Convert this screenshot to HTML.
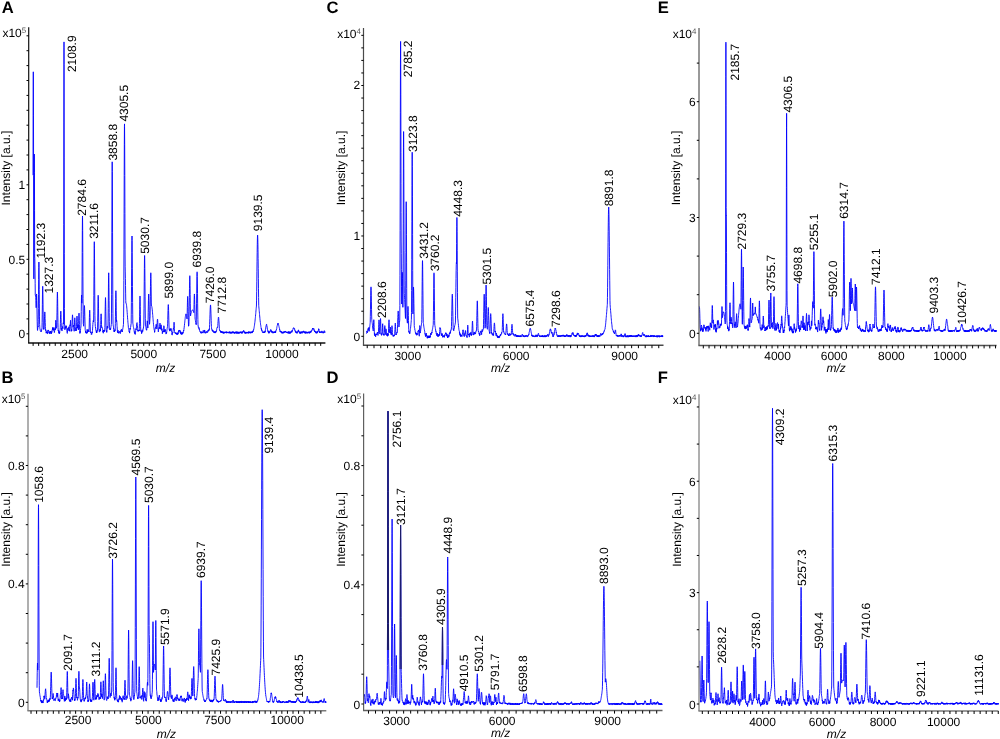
<!DOCTYPE html>
<html><head><meta charset="utf-8"><style>
html,body{margin:0;padding:0;background:#fff;overflow:hidden;}
svg{display:block;will-change:transform;}
svg text{font-family:"Liberation Sans", sans-serif;fill:#000;text-rendering:geometricPrecision;}
</style></head><body>
<svg width="1000" height="739" viewBox="0 0 1000 739">
<rect width="1000" height="739" fill="#fff"/>
<text x="1.8" y="13.4" font-size="16.6" font-weight="bold">A</text>
<polyline points="33.00,175.20 33.12,115.09 33.24,77.00 33.30,71.80 33.36,77.00 33.48,115.09 33.60,175.20 33.72,235.97 33.84,278.87 33.96,239.58 34.08,196.58 34.20,163.76 34.30,154.00 34.32,154.40 34.44,172.63 34.56,210.54 34.68,253.63 34.70,257.00 34.80,258.54 34.92,264.16 35.04,273.01 35.16,283.77 35.28,294.96 35.40,295.37 35.50,294.98 35.52,295.00 35.64,295.78 35.76,297.62 35.88,300.40 36.00,303.91 36.12,307.81 36.24,307.59 36.36,300.73 36.48,295.74 36.60,293.97 36.60,293.96 36.72,295.77 36.84,300.67 36.96,307.59 37.08,314.95 37.20,321.75 37.32,326.81 37.44,330.19 37.56,330.48 37.68,329.22 37.80,328.15 37.92,327.38 38.04,326.39 38.16,327.01 38.28,319.67 38.40,308.40 38.52,294.37 38.64,279.51 38.76,267.58 38.88,262.12 38.90,262.00 39.00,264.90 39.12,275.01 39.24,289.29 39.36,303.91 39.48,316.13 39.60,324.45 39.72,326.24 39.84,327.79 39.96,328.80 40.08,329.06 40.20,330.11 40.32,330.71 40.44,330.92 40.56,331.26 40.68,331.43 40.80,331.40 40.92,330.90 41.04,330.70 41.16,331.68 41.28,331.90 41.40,331.32 41.52,331.17 41.64,329.98 41.76,328.97 41.88,328.94 42.00,327.75 42.12,322.41 42.24,314.18 42.36,304.50 42.48,294.93 42.60,288.23 42.70,286.28 42.72,286.39 42.84,290.04 42.96,297.99 43.08,307.91 43.20,317.01 43.32,325.08 43.44,329.25 43.56,328.73 43.68,328.36 43.80,328.54 43.92,329.33 44.04,329.32 44.16,328.76 44.28,325.08 44.40,320.91 44.52,316.71 44.64,313.84 44.76,311.91 44.80,312.06 44.88,312.31 45.00,314.49 45.12,318.46 45.24,322.66 45.36,326.40 45.48,328.82 45.60,330.71 45.72,330.18 45.84,329.79 45.96,330.37 46.08,330.60 46.20,333.16 46.32,331.78 46.44,332.35 46.56,332.33 46.68,332.89 46.80,332.47 46.92,332.90 47.04,331.47 47.16,332.23 47.28,333.56 47.40,333.92 47.52,333.83 47.64,331.34 47.76,331.06 47.88,330.36 48.00,330.14 48.12,329.93 48.24,331.20 48.36,330.47 48.48,330.28 48.60,330.89 48.72,330.75 48.84,331.81 48.96,332.74 49.08,331.89 49.20,332.98 49.32,333.71 49.44,333.69 49.56,331.67 49.68,332.57 49.80,332.28 49.92,331.86 50.04,333.06 50.16,333.77 50.28,333.45 50.40,331.64 50.52,332.24 50.64,331.16 50.76,332.01 50.88,331.89 51.00,331.11 51.12,331.51 51.24,332.27 51.36,333.87 51.48,332.20 51.60,332.68 51.72,332.64 51.84,332.81 51.96,330.82 52.08,331.26 52.20,330.41 52.32,329.79 52.44,330.05 52.56,327.42 52.68,329.25 52.80,329.06 52.92,329.63 53.04,328.50 53.16,328.31 53.28,328.19 53.40,329.13 53.52,330.41 53.64,328.63 53.76,328.43 53.88,327.37 54.00,328.15 54.12,330.60 54.24,330.68 54.36,332.61 54.48,330.96 54.60,331.15 54.72,330.61 54.84,329.09 54.96,329.65 55.08,328.36 55.20,328.68 55.32,328.48 55.44,329.75 55.56,326.00 55.68,322.26 55.80,320.22 55.92,322.23 56.04,324.89 56.16,326.11 56.28,327.24 56.40,327.77 56.52,328.29 56.64,327.06 56.76,327.10 56.88,320.20 57.00,312.23 57.12,303.59 57.24,296.23 57.36,292.28 57.40,292.02 57.48,293.14 57.60,298.40 57.72,306.63 57.84,315.22 57.96,322.63 58.08,327.59 58.20,330.63 58.32,330.04 58.44,331.00 58.56,331.15 58.68,332.49 58.80,331.36 58.92,332.34 59.04,333.19 59.16,332.17 59.28,333.89 59.40,333.22 59.52,331.91 59.64,333.11 59.76,331.16 59.88,330.43 60.00,330.09 60.12,329.54 60.24,327.66 60.36,323.50 60.48,319.24 60.60,314.64 60.72,311.59 60.80,311.05 60.84,311.32 60.96,313.49 61.08,317.51 61.20,322.70 61.32,327.33 61.44,329.68 61.56,328.42 61.68,329.28 61.80,329.78 61.92,330.92 62.04,330.91 62.16,329.70 62.28,328.57 62.40,326.78 62.52,326.50 62.64,326.86 62.76,327.91 62.88,328.73 63.00,325.79 63.12,324.05 63.24,322.77 63.36,323.10 63.48,323.98 63.60,294.99 63.72,224.75 63.84,122.06 63.96,47.70 64.00,41.90 64.08,64.40 64.20,157.07 64.32,253.22 64.44,308.60 64.56,325.20 64.68,326.75 64.80,328.94 64.92,329.81 65.04,328.15 65.16,328.36 65.28,326.79 65.40,326.94 65.52,327.07 65.64,328.31 65.76,326.17 65.88,325.64 66.00,326.37 66.12,327.02 66.24,326.67 66.36,325.90 66.48,326.68 66.60,328.45 66.72,329.22 66.84,330.73 66.96,331.02 67.08,332.65 67.20,332.96 67.32,333.40 67.44,332.40 67.56,330.56 67.68,328.68 67.80,328.60 67.92,327.94 68.04,328.49 68.16,330.61 68.28,329.58 68.40,329.15 68.52,327.56 68.64,326.93 68.76,327.05 68.88,327.04 69.00,326.81 69.12,328.24 69.24,329.87 69.36,331.02 69.48,331.23 69.60,328.60 69.72,327.96 69.84,325.58 69.96,325.06 70.08,324.70 70.20,325.99 70.32,324.10 70.44,321.40 70.56,320.29 70.68,322.94 70.80,325.53 70.92,329.61 71.04,331.35 71.16,331.36 71.28,331.30 71.40,330.71 71.52,329.40 71.64,329.69 71.76,330.86 71.88,328.99 72.00,325.83 72.12,322.28 72.24,318.63 72.36,316.43 72.48,314.94 72.50,314.84 72.60,315.69 72.72,317.54 72.84,321.34 72.96,324.57 73.08,327.19 73.20,326.52 73.32,326.32 73.44,325.12 73.56,325.20 73.68,326.29 73.80,327.42 73.92,329.37 74.04,329.30 74.16,331.28 74.28,328.94 74.40,326.41 74.52,322.21 74.64,319.31 74.76,318.07 74.80,317.81 74.88,318.41 75.00,320.76 75.12,324.07 75.24,326.49 75.36,329.55 75.48,330.71 75.60,329.73 75.72,329.61 75.84,328.47 75.96,328.51 76.08,328.39 76.20,329.40 76.32,330.86 76.44,328.84 76.56,326.66 76.68,322.18 76.80,318.97 76.92,316.68 77.00,316.06 77.04,316.24 77.16,317.93 77.28,321.46 77.40,325.24 77.52,328.20 77.64,326.43 77.76,325.09 77.88,325.00 78.00,324.95 78.12,325.96 78.24,328.40 78.36,329.88 78.48,327.49 78.60,323.71 78.72,318.93 78.84,315.09 78.96,313.22 79.00,313.05 79.08,313.43 79.20,316.15 79.32,320.43 79.44,324.48 79.56,329.25 79.68,330.43 79.80,333.06 79.92,333.48 80.04,332.75 80.16,331.56 80.28,332.47 80.40,330.93 80.52,330.31 80.64,328.50 80.76,327.27 80.88,327.37 81.00,324.97 81.12,318.82 81.24,311.37 81.36,303.35 81.48,297.24 81.60,294.99 81.60,295.02 81.72,297.27 81.84,303.33 81.96,298.52 82.08,276.88 82.20,252.46 82.32,230.69 82.44,217.73 82.50,216.00 82.56,217.73 82.68,230.69 82.80,252.46 82.92,276.87 83.04,298.53 83.16,314.54 83.28,323.66 83.40,324.17 83.52,325.20 83.64,326.21 83.76,323.60 83.88,319.36 84.00,315.11 84.12,310.60 84.24,307.46 84.36,305.60 84.40,305.54 84.48,306.09 84.60,308.22 84.72,312.05 84.84,316.50 84.96,321.03 85.08,325.02 85.20,329.38 85.32,330.66 85.44,330.71 85.56,332.51 85.68,331.16 85.80,332.57 85.92,332.61 86.04,332.95 86.16,333.28 86.28,332.15 86.40,331.99 86.52,333.07 86.64,333.26 86.76,332.91 86.88,333.27 87.00,330.00 87.12,329.30 87.24,329.47 87.36,330.04 87.48,332.69 87.60,331.35 87.72,331.30 87.84,330.67 87.96,331.31 88.08,331.36 88.20,331.10 88.32,329.63 88.44,330.15 88.56,330.30 88.68,331.43 88.80,331.24 88.92,332.01 89.04,330.33 89.16,327.11 89.28,323.09 89.40,317.51 89.52,313.26 89.64,310.40 89.70,310.14 89.76,310.39 89.88,313.19 90.00,317.77 90.12,322.52 90.24,326.88 90.36,331.25 90.48,331.54 90.60,332.70 90.72,331.63 90.84,332.52 90.96,332.50 91.08,332.48 91.20,332.59 91.32,334.48 91.44,333.97 91.56,333.65 91.68,333.93 91.80,334.34 91.92,333.65 92.04,332.06 92.16,331.87 92.28,332.86 92.40,331.63 92.52,330.47 92.64,328.07 92.76,326.18 92.88,324.36 93.00,322.70 93.12,321.54 93.24,320.62 93.36,320.86 93.48,321.40 93.60,322.04 93.72,311.23 93.84,295.39 93.96,276.65 94.08,258.35 94.20,245.42 94.30,241.70 94.32,241.85 94.44,248.84 94.56,264.10 94.68,283.07 94.80,301.10 94.92,315.29 95.04,321.43 95.16,323.40 95.28,326.12 95.40,326.61 95.52,328.01 95.64,327.74 95.76,328.95 95.88,330.58 96.00,330.74 96.12,331.14 96.24,331.64 96.36,332.58 96.48,330.67 96.60,332.89 96.72,332.23 96.84,332.64 96.96,331.59 97.08,331.91 97.20,330.14 97.32,330.42 97.44,330.72 97.56,327.91 97.68,321.58 97.80,313.95 97.92,306.12 98.04,299.22 98.16,295.52 98.20,295.27 98.28,296.31 98.40,301.17 98.52,308.85 98.64,317.06 98.76,323.94 98.88,329.19 99.00,330.03 99.12,329.94 99.24,331.47 99.36,331.97 99.48,332.14 99.60,331.23 99.72,330.15 99.84,330.38 99.96,329.07 100.08,329.00 100.20,329.34 100.32,329.32 100.44,331.19 100.56,327.97 100.68,324.49 100.80,320.49 100.92,316.39 101.04,313.95 101.10,313.82 101.16,313.86 101.28,316.07 101.40,319.77 101.52,324.61 101.64,327.61 101.76,327.10 101.88,326.88 102.00,326.88 102.12,327.83 102.24,327.84 102.36,328.18 102.48,329.33 102.60,330.57 102.72,331.87 102.84,332.12 102.96,331.90 103.08,331.39 103.20,332.46 103.32,333.23 103.44,331.49 103.56,331.68 103.68,329.96 103.80,331.05 103.92,329.95 104.04,330.85 104.16,331.34 104.28,330.88 104.40,331.57 104.52,330.19 104.64,330.72 104.76,330.50 104.88,327.51 105.00,320.99 105.12,313.87 105.24,306.55 105.36,300.42 105.48,297.67 105.50,297.57 105.60,299.11 105.72,304.16 105.84,311.52 105.96,319.19 106.08,325.69 106.20,329.30 106.32,330.73 106.44,331.83 106.56,330.58 106.68,332.30 106.80,332.44 106.92,331.80 107.04,329.29 107.16,327.69 107.28,326.69 107.40,326.05 107.52,326.08 107.64,327.93 107.76,328.34 107.88,327.99 108.00,326.49 108.12,318.87 108.24,308.44 108.36,296.08 108.48,283.90 108.60,275.27 108.70,272.80 108.72,272.90 108.84,277.56 108.96,287.68 109.08,300.38 109.20,312.47 109.32,321.41 109.44,327.85 109.56,327.90 109.68,328.24 109.80,329.84 109.92,329.30 110.04,328.30 110.16,328.09 110.28,328.71 110.40,328.58 110.52,329.82 110.64,328.84 110.76,328.40 110.88,327.13 111.00,326.51 111.12,325.98 111.24,324.65 111.36,324.20 111.48,313.91 111.60,294.86 111.72,267.13 111.84,232.79 111.96,198.00 112.08,171.66 112.20,161.80 112.20,161.80 112.32,171.66 112.44,198.00 112.56,232.79 112.68,267.13 112.80,294.82 112.92,313.61 113.04,323.86 113.16,324.54 113.28,325.93 113.40,326.16 113.52,327.86 113.64,328.92 113.76,328.53 113.88,330.74 114.00,331.36 114.12,330.47 114.24,332.03 114.36,331.21 114.48,331.80 114.60,330.63 114.72,331.22 114.84,329.88 114.96,329.53 115.08,330.73 115.20,329.15 115.32,323.66 115.44,316.25 115.56,307.14 115.68,298.52 115.80,292.44 115.90,290.72 115.92,290.79 116.04,294.09 116.16,301.27 116.28,310.25 116.40,318.94 116.52,321.53 116.64,320.40 116.76,320.98 116.88,322.92 117.00,325.30 117.12,326.69 117.24,328.98 117.36,330.62 117.48,332.34 117.60,332.76 117.72,331.26 117.84,330.46 117.96,331.43 118.08,330.55 118.20,331.37 118.32,332.41 118.44,332.99 118.56,332.02 118.68,332.74 118.80,332.74 118.92,333.42 119.04,333.19 119.16,332.96 119.28,332.71 119.40,331.57 119.52,331.46 119.64,331.86 119.76,331.62 119.88,332.43 120.00,332.27 120.12,332.22 120.24,332.29 120.36,333.20 120.48,333.54 120.60,332.20 120.72,331.12 120.84,330.64 120.96,331.63 121.08,330.57 121.20,329.70 121.32,330.47 121.44,330.15 121.56,329.36 121.68,329.47 121.80,329.93 121.92,330.69 122.04,331.20 122.16,330.93 122.28,332.01 122.40,330.06 122.52,329.70 122.64,329.77 122.76,329.19 122.88,328.21 123.00,327.58 123.12,327.31 123.24,326.06 123.36,324.90 123.48,324.41 123.60,317.71 123.72,303.15 123.84,280.59 123.96,249.89 124.08,213.19 124.20,175.56 124.32,144.19 124.44,126.26 124.50,123.90 124.56,126.26 124.68,144.19 124.80,175.56 124.90,206.80 124.92,213.19 125.04,249.89 125.16,266.83 125.28,271.95 125.40,278.34 125.52,285.54 125.64,293.12 125.76,300.40 125.88,303.09 126.00,302.99 126.00,302.96 126.12,303.09 126.24,303.53 126.36,303.97 126.48,304.82 126.60,305.71 126.72,306.95 126.84,308.13 126.96,309.56 127.08,311.14 127.20,312.61 127.32,314.45 127.44,315.83 127.56,317.83 127.68,319.36 127.80,320.47 127.92,322.28 128.04,323.22 128.16,324.61 128.28,325.97 128.40,327.62 128.52,328.53 128.64,329.31 128.76,329.51 128.88,330.41 129.00,331.79 129.12,331.94 129.24,332.04 129.36,331.86 129.48,331.61 129.60,333.12 129.72,331.04 129.84,330.28 129.96,328.10 130.08,328.58 130.20,329.03 130.32,329.38 130.44,327.62 130.56,327.33 130.68,327.11 130.80,325.99 130.92,324.99 131.04,324.03 131.16,323.50 131.28,314.83 131.40,302.52 131.52,286.60 131.64,268.83 131.76,252.24 131.88,240.34 132.00,236.00 132.00,236.00 132.12,240.34 132.24,252.24 132.36,268.84 132.48,286.62 132.60,302.53 132.72,314.84 132.84,323.21 132.96,323.98 133.08,324.57 133.20,325.36 133.32,326.70 133.44,326.88 133.56,327.56 133.68,328.40 133.80,328.90 133.92,328.76 134.04,329.80 134.16,331.33 134.28,331.93 134.40,332.60 134.52,333.59 134.64,333.18 134.76,331.53 134.88,331.51 135.00,331.28 135.12,332.58 135.24,334.42 135.36,333.30 135.48,332.27 135.60,331.73 135.72,330.29 135.84,328.82 135.96,328.89 136.08,328.61 136.20,329.85 136.32,328.79 136.44,326.80 136.56,324.90 136.68,323.74 136.80,323.04 136.92,322.89 137.04,322.60 137.16,323.49 137.28,324.35 137.40,325.58 137.52,327.05 137.64,328.48 137.76,331.10 137.88,330.91 138.00,330.35 138.12,331.39 138.24,331.45 138.36,331.04 138.48,330.00 138.60,330.47 138.72,330.94 138.84,330.64 138.96,331.05 139.08,329.91 139.20,330.95 139.32,328.61 139.44,323.54 139.56,316.84 139.68,309.21 139.80,301.86 139.92,297.00 140.00,295.97 140.04,296.28 140.16,299.83 140.28,306.59 140.40,314.71 140.52,321.96 140.64,326.80 140.76,330.66 140.88,330.24 141.00,331.53 141.12,331.45 141.24,331.76 141.36,331.26 141.48,331.32 141.60,333.70 141.72,331.87 141.84,331.41 141.96,330.95 142.08,330.75 142.20,329.83 142.32,331.42 142.44,332.25 142.56,332.13 142.68,331.62 142.80,331.30 142.92,330.75 143.04,329.04 143.16,329.05 143.28,328.11 143.40,328.15 143.52,326.97 143.64,326.11 143.76,325.10 143.88,319.11 144.00,308.77 144.12,296.11 144.24,281.83 144.36,268.53 144.48,258.98 144.60,255.50 144.60,255.50 144.72,258.98 144.84,268.53 144.96,281.85 145.08,296.12 145.20,309.00 145.32,318.75 145.44,325.14 145.56,326.10 145.68,326.32 145.80,327.14 145.92,327.36 146.04,328.56 146.16,329.10 146.28,329.61 146.40,330.04 146.52,329.39 146.64,330.25 146.76,329.75 146.88,326.83 147.00,324.58 147.12,322.55 147.24,320.89 147.36,321.03 147.48,321.98 147.60,323.84 147.72,325.77 147.84,328.02 147.96,323.59 148.08,319.20 148.20,312.51 148.32,306.11 148.44,300.19 148.56,295.96 148.68,294.08 148.70,294.02 148.80,295.02 148.92,298.54 149.04,304.16 149.16,310.38 149.28,316.79 149.40,322.83 149.52,324.29 149.64,323.19 149.76,321.69 149.88,319.74 150.00,318.43 150.12,315.11 150.24,306.16 150.36,296.31 150.48,286.59 150.60,278.62 150.72,273.77 150.80,272.79 150.84,273.04 150.96,276.59 151.08,283.68 151.20,293.01 151.32,302.98 151.44,306.03 151.50,306.11 151.56,306.09 151.68,306.18 151.80,306.55 151.92,307.13 152.04,308.06 152.16,309.09 152.28,309.99 152.40,311.23 152.52,312.86 152.64,314.21 152.76,315.43 152.88,317.27 153.00,318.47 153.12,319.77 153.24,321.25 153.36,322.55 153.48,324.29 153.60,325.16 153.72,326.57 153.84,327.70 153.96,328.50 154.08,329.29 154.20,329.88 154.32,330.33 154.44,330.64 154.56,332.39 154.68,330.98 154.80,331.36 154.92,330.20 155.04,329.19 155.16,328.14 155.28,328.25 155.40,327.59 155.52,328.34 155.64,328.13 155.76,326.42 155.88,325.82 156.00,325.02 156.12,324.56 156.24,324.16 156.36,324.87 156.48,325.99 156.60,327.42 156.72,328.46 156.84,329.05 156.96,326.71 157.08,324.07 157.20,322.45 157.32,320.28 157.44,319.48 157.50,319.07 157.56,319.22 157.68,320.09 157.80,322.39 157.92,324.47 158.04,327.45 158.16,329.22 158.28,331.59 158.40,331.90 158.52,330.58 158.64,329.17 158.76,328.62 158.88,328.27 159.00,327.87 159.12,327.31 159.24,327.50 159.36,328.01 159.48,328.73 159.60,326.23 159.72,324.93 159.84,323.90 159.96,323.38 160.00,323.02 160.08,323.63 160.20,324.35 160.32,325.95 160.44,326.89 160.56,329.26 160.68,327.26 160.80,326.85 160.92,325.41 161.04,325.60 161.16,324.83 161.28,325.43 161.40,326.98 161.52,327.99 161.64,330.07 161.76,330.49 161.88,328.68 162.00,328.78 162.12,329.32 162.24,330.64 162.36,333.71 162.48,332.45 162.60,332.55 162.72,331.51 162.84,330.97 162.96,331.28 163.08,332.13 163.20,331.77 163.32,331.21 163.44,332.04 163.56,331.22 163.68,329.23 163.80,325.80 163.92,325.73 164.04,326.13 164.16,328.37 164.28,330.80 164.40,332.10 164.52,329.90 164.64,329.75 164.76,331.60 164.88,331.51 165.00,330.30 165.12,329.95 165.24,330.45 165.36,329.44 165.48,329.62 165.60,330.22 165.72,332.43 165.84,332.37 165.96,334.12 166.08,334.00 166.20,333.81 166.32,333.59 166.44,332.34 166.56,333.28 166.68,332.34 166.80,331.46 166.92,330.53 167.04,329.72 167.16,328.32 167.28,327.93 167.40,326.74 167.52,326.67 167.64,323.84 167.76,319.62 167.88,315.03 168.00,310.48 168.12,306.92 168.24,304.67 168.30,304.55 168.36,304.79 168.48,306.75 168.60,310.64 168.72,315.07 168.84,320.21 168.96,324.08 169.08,328.00 169.20,329.61 169.32,329.76 169.44,329.44 169.56,330.03 169.68,331.13 169.80,330.37 169.92,328.85 170.04,329.78 170.16,330.64 170.28,328.68 170.40,328.91 170.52,329.46 170.64,329.14 170.76,330.14 170.88,329.88 171.00,328.38 171.12,328.97 171.24,329.33 171.36,331.17 171.48,331.37 171.60,331.15 171.72,332.38 171.84,332.70 171.96,334.89 172.08,334.98 172.20,335.09 172.32,333.02 172.44,333.38 172.56,333.12 172.68,332.35 172.80,332.94 172.92,331.35 173.04,331.21 173.16,330.16 173.28,329.23 173.40,328.27 173.52,329.23 173.64,328.60 173.76,328.15 173.88,325.88 174.00,322.39 174.12,322.20 174.24,325.30 174.36,328.37 174.48,331.44 174.60,332.17 174.72,332.44 174.84,332.17 174.96,332.03 175.08,332.64 175.20,332.35 175.32,333.53 175.44,333.04 175.56,333.13 175.68,332.89 175.80,332.76 175.92,333.93 176.04,333.52 176.16,333.10 176.28,333.95 176.40,334.38 176.52,334.20 176.64,332.85 176.76,333.62 176.88,334.28 177.00,333.67 177.12,333.75 177.24,334.51 177.36,333.10 177.48,333.11 177.60,334.37 177.72,334.63 177.84,332.88 177.96,332.50 178.08,333.87 178.20,333.04 178.32,332.01 178.44,331.21 178.56,331.68 178.68,330.51 178.80,331.40 178.92,331.10 179.04,330.69 179.16,331.15 179.28,330.24 179.40,330.26 179.52,331.09 179.64,330.31 179.76,331.14 179.88,330.24 180.00,330.99 180.12,331.93 180.24,332.86 180.36,331.58 180.48,332.64 180.60,333.50 180.72,331.69 180.84,332.71 180.96,333.65 181.08,333.36 181.20,334.34 181.32,333.43 181.44,333.22 181.56,332.60 181.68,333.61 181.80,334.66 181.92,334.48 182.04,332.43 182.16,332.43 182.28,332.41 182.40,334.06 182.52,332.97 182.64,332.74 182.76,333.60 182.88,332.59 183.00,332.49 183.12,332.88 183.24,332.96 183.36,331.22 183.48,330.87 183.60,330.39 183.72,331.10 183.84,329.79 183.96,329.44 184.08,327.69 184.20,327.69 184.32,325.98 184.44,325.30 184.56,323.76 184.68,322.90 184.80,321.92 184.92,320.28 185.04,319.69 185.16,318.48 185.28,317.35 185.40,316.45 185.52,315.41 185.64,314.68 185.76,314.32 185.88,313.94 186.00,313.93 186.00,314.12 186.12,313.95 186.24,314.18 186.36,314.98 186.48,315.68 186.60,316.20 186.72,317.00 186.84,318.42 186.96,318.97 187.08,318.97 187.20,313.57 187.32,307.56 187.44,302.13 187.56,298.15 187.68,296.46 187.70,296.38 187.80,297.34 187.92,300.59 188.04,305.65 188.16,311.50 188.28,317.34 188.40,322.01 188.52,326.23 188.64,325.13 188.76,325.54 188.88,324.83 189.00,321.45 189.12,315.06 189.24,306.83 189.36,297.57 189.48,288.58 189.60,281.11 189.72,276.60 189.80,275.70 189.84,275.92 189.96,279.21 190.08,285.81 190.20,294.49 190.32,303.75 190.44,312.29 190.56,315.87 190.68,314.99 190.80,314.34 190.92,313.87 191.04,313.48 191.16,312.87 191.28,312.66 191.40,312.05 191.52,311.66 191.64,311.36 191.76,310.96 191.88,310.57 192.00,310.35 192.12,310.25 192.24,310.05 192.36,309.95 192.48,309.96 192.50,310.10 192.60,310.13 192.72,309.99 192.84,310.08 192.96,310.18 193.08,310.37 193.20,310.74 193.32,310.97 193.44,311.41 193.56,311.65 193.68,312.25 193.80,312.67 193.92,311.09 194.04,304.76 194.16,299.13 194.28,295.37 194.40,293.99 194.40,293.96 194.52,295.36 194.64,299.22 194.76,304.59 194.88,310.72 195.00,316.76 195.12,319.01 195.24,319.52 195.36,320.48 195.48,320.77 195.60,321.90 195.72,321.86 195.84,322.47 195.96,323.85 196.08,323.51 196.20,324.79 196.32,319.00 196.44,311.93 196.56,303.19 196.68,293.41 196.80,283.99 196.92,276.51 197.04,272.35 197.10,271.80 197.16,272.34 197.28,276.48 197.40,283.94 197.52,293.35 197.64,303.17 197.76,312.08 197.88,319.42 198.00,324.28 198.12,326.23 198.24,326.12 198.36,327.31 198.48,327.98 198.60,327.80 198.72,328.25 198.84,328.37 198.96,328.58 199.08,327.61 199.20,329.05 199.32,329.89 199.44,329.38 199.56,330.16 199.68,330.94 199.80,331.42 199.92,331.36 200.04,331.66 200.16,331.52 200.28,331.72 200.40,331.66 200.52,332.36 200.64,332.94 200.76,333.11 200.88,332.12 201.00,331.58 201.12,332.66 201.24,333.27 201.36,333.30 201.48,332.85 201.60,332.31 201.72,331.80 201.84,332.49 201.96,332.85 202.08,332.97 202.20,332.87 202.32,333.09 202.44,331.89 202.56,332.62 202.68,332.50 202.80,332.52 202.92,332.28 203.04,332.13 203.16,330.78 203.28,330.27 203.40,331.02 203.52,331.73 203.64,331.96 203.76,332.44 203.88,332.37 204.00,333.10 204.12,332.96 204.24,331.50 204.36,331.79 204.48,331.04 204.60,329.98 204.72,330.16 204.84,331.82 204.96,332.26 205.08,331.70 205.20,332.65 205.32,333.25 205.44,332.58 205.56,332.70 205.68,332.82 205.80,332.54 205.92,333.14 206.04,332.00 206.16,331.92 206.28,331.67 206.40,332.24 206.52,331.99 206.64,332.25 206.76,331.62 206.88,332.10 207.00,332.05 207.12,331.65 207.24,332.42 207.36,331.82 207.48,331.87 207.60,332.35 207.72,332.10 207.84,331.60 207.96,330.44 208.08,331.32 208.20,330.64 208.32,330.41 208.44,330.81 208.56,330.00 208.68,330.68 208.80,330.58 208.92,329.49 209.04,329.36 209.16,330.30 209.28,328.90 209.40,329.25 209.52,327.23 209.64,324.65 209.76,321.10 209.88,318.21 210.00,314.22 210.12,310.97 210.24,307.92 210.36,305.85 210.48,304.96 210.50,304.91 210.60,305.40 210.72,307.04 210.84,309.67 210.96,313.20 211.08,317.00 211.20,320.33 211.32,323.78 211.44,326.68 211.56,327.76 211.68,329.40 211.80,329.54 211.92,329.44 212.04,330.27 212.16,330.19 212.28,329.78 212.40,331.10 212.52,330.01 212.64,330.05 212.76,331.30 212.88,330.93 213.00,331.43 213.12,330.55 213.24,330.75 213.36,331.20 213.48,331.38 213.60,331.82 213.72,331.56 213.84,331.49 213.96,332.80 214.08,331.47 214.20,332.17 214.32,331.74 214.44,332.82 214.56,332.53 214.68,332.57 214.80,332.23 214.92,332.24 215.04,333.13 215.16,332.10 215.28,332.45 215.40,331.41 215.52,332.11 215.64,332.44 215.76,331.88 215.88,332.25 216.00,332.07 216.12,331.06 216.24,331.59 216.36,330.73 216.48,330.35 216.60,330.64 216.72,329.28 216.84,328.37 216.96,328.27 217.08,328.05 217.20,327.27 217.32,327.15 217.44,327.44 217.56,327.65 217.68,326.92 217.80,325.61 217.92,323.40 218.04,321.55 218.16,319.97 218.28,318.36 218.40,317.42 218.50,317.21 218.52,317.09 218.64,317.46 218.76,318.41 218.88,320.45 219.00,321.98 219.12,324.15 219.24,326.05 219.36,328.53 219.48,329.90 219.60,330.10 219.72,330.67 219.84,330.92 219.96,330.32 220.08,330.36 220.20,331.33 220.32,331.31 220.44,331.61 220.56,332.11 220.68,330.97 220.80,332.31 220.92,331.25 221.04,332.53 221.16,331.31 221.28,331.78 221.40,332.43 221.52,331.56 221.64,331.47 221.76,331.79 221.88,331.95 222.00,332.96 222.12,331.88 222.24,332.68 222.36,332.98 222.48,331.55 222.60,332.03 222.72,333.18 222.84,332.62 222.96,331.90 223.08,332.50 223.20,332.34 223.32,333.13 223.44,333.06 223.56,332.23 223.68,333.42 223.80,331.75 223.92,333.30 224.04,331.84 224.16,332.67 224.28,332.42 224.40,333.15 224.52,332.54 224.64,332.17 224.76,332.93 224.88,332.31 225.00,332.33 225.12,332.95 225.24,332.05 225.36,332.25 225.48,332.66 225.60,332.65 225.72,332.42 225.84,332.52 225.96,331.54 226.08,332.43 226.20,332.61 226.32,331.86 226.44,333.23 226.56,332.88 226.68,331.86 226.80,331.90 226.92,331.86 227.04,331.94 227.16,332.74 227.28,331.85 227.40,332.41 227.52,332.20 227.64,332.85 227.76,332.96 227.88,332.83 228.00,332.75 228.12,332.68 228.24,333.06 228.36,332.58 228.48,332.06 228.60,331.87 228.72,332.76 228.84,333.13 228.96,332.97 229.08,332.95 229.20,333.08 229.32,331.82 229.44,333.21 229.56,331.73 229.68,332.68 229.80,332.42 229.92,331.91 230.04,332.71 230.16,331.88 230.28,331.77 230.40,332.96 230.52,333.28 230.64,332.47 230.76,333.13 230.88,333.39 231.00,332.99 231.12,332.43 231.24,333.37 231.36,332.12 231.48,332.10 231.60,332.88 231.72,333.16 231.84,332.14 231.96,332.24 232.08,331.72 232.20,331.85 232.32,332.27 232.44,331.84 232.56,331.71 232.68,333.06 232.80,333.26 232.92,331.92 233.04,332.29 233.16,331.70 233.28,332.43 233.40,331.89 233.52,332.70 233.64,332.89 233.76,332.96 233.88,331.86 234.00,333.11 234.12,333.18 234.24,332.16 234.36,333.42 234.48,332.28 234.60,332.14 234.72,331.96 234.84,333.40 234.96,333.44 235.08,333.08 235.20,332.21 235.32,332.01 235.44,333.14 235.56,333.15 235.68,332.92 235.80,331.70 235.92,331.83 236.04,332.70 236.16,331.74 236.28,333.14 236.40,333.43 236.52,333.43 236.64,333.16 236.76,331.74 236.88,331.87 237.00,333.43 237.12,332.65 237.24,331.87 237.36,331.68 237.48,331.88 237.60,333.25 237.72,332.21 237.84,333.01 237.96,333.36 238.08,332.31 238.20,333.35 238.32,333.26 238.44,331.89 238.56,331.90 238.68,333.29 238.80,333.18 238.92,333.15 239.04,332.87 239.16,333.39 239.28,332.43 239.40,333.14 239.52,333.05 239.64,332.43 239.76,332.13 239.88,331.76 240.00,333.17 240.12,332.85 240.24,332.67 240.36,331.83 240.48,332.89 240.60,331.87 240.72,332.72 240.84,331.92 240.96,332.47 241.08,332.76 241.20,332.96 241.32,333.32 241.44,333.39 241.56,333.04 241.68,331.75 241.80,332.36 241.92,332.97 242.04,333.22 242.16,331.68 242.28,332.33 242.40,333.24 242.52,333.14 242.64,332.93 242.76,331.48 242.88,331.55 243.00,332.29 243.12,331.98 243.24,331.79 243.36,331.18 243.48,331.12 243.60,330.44 243.72,331.31 243.84,330.83 243.96,332.04 244.08,331.93 244.20,331.63 244.32,331.58 244.44,331.68 244.56,331.82 244.68,333.24 244.80,332.30 244.92,332.67 245.04,331.92 245.16,333.28 245.28,333.45 245.40,332.59 245.52,333.37 245.64,333.41 245.76,332.88 245.88,331.92 246.00,332.85 246.12,331.99 246.24,333.27 246.36,333.27 246.48,331.99 246.60,332.30 246.72,332.89 246.84,332.09 246.96,333.18 247.08,332.58 247.20,332.82 247.32,332.46 247.44,333.07 247.56,332.99 247.68,332.97 247.80,332.18 247.92,332.21 248.04,332.05 248.16,333.26 248.28,331.87 248.40,332.30 248.52,331.72 248.64,332.84 248.76,333.39 248.88,332.62 249.00,331.72 249.12,332.30 249.24,332.85 249.36,331.95 249.48,332.59 249.60,332.27 249.72,331.74 249.84,333.07 249.96,332.18 250.08,331.98 250.20,332.84 250.32,332.44 250.44,332.21 250.56,331.79 250.68,333.32 250.80,332.56 250.92,332.22 251.04,332.39 251.16,332.08 251.28,332.62 251.40,332.74 251.52,331.78 251.64,332.94 251.76,331.90 251.88,332.58 252.00,333.08 252.12,332.59 252.24,331.39 252.36,332.30 252.48,332.60 252.60,331.11 252.72,331.23 252.84,331.42 252.96,331.20 253.08,331.94 253.20,330.27 253.32,330.14 253.44,330.50 253.56,329.37 253.68,329.68 253.80,329.23 253.92,328.60 254.04,327.86 254.16,327.28 254.28,326.47 254.40,325.74 254.52,324.88 254.64,323.96 254.76,322.91 254.88,322.21 255.00,321.16 255.12,319.98 255.24,318.78 255.36,317.71 255.48,316.48 255.60,314.81 255.72,313.65 255.84,312.36 255.96,310.94 256.08,309.72 256.20,308.48 256.32,307.17 256.44,306.09 256.56,300.15 256.68,291.42 256.80,281.77 256.92,271.69 257.04,261.71 257.16,252.49 257.28,244.68 257.40,238.90 257.52,235.63 257.60,235.00 257.64,235.16 257.76,237.51 257.88,242.50 258.00,249.70 258.12,258.52 258.24,268.33 258.36,278.45 258.48,288.31 258.60,297.40 258.72,305.34 258.84,306.86 258.96,308.13 259.08,309.33 259.20,310.59 259.32,311.85 259.44,313.31 259.56,314.42 259.68,315.97 259.80,317.02 259.92,318.41 260.04,319.82 260.16,320.77 260.28,322.08 260.40,322.51 260.52,323.83 260.64,324.88 260.76,325.24 260.88,326.57 261.00,327.26 261.12,327.69 261.24,328.71 261.36,328.22 261.48,329.95 261.60,329.21 261.72,330.58 261.84,330.00 261.96,330.06 262.08,331.23 262.20,331.39 262.32,331.91 262.44,332.28 262.56,331.76 262.68,331.99 262.80,332.20 262.92,331.85 263.04,332.74 263.16,332.74 263.28,331.72 263.40,332.71 263.52,331.90 263.64,332.05 263.76,332.59 263.88,332.37 264.00,332.63 264.12,332.03 264.24,332.97 264.36,331.78 264.48,331.55 264.60,331.83 264.72,332.24 264.84,332.67 264.96,331.56 265.08,330.84 265.20,331.89 265.32,330.88 265.44,329.68 265.56,328.91 265.68,328.05 265.80,327.20 265.92,327.08 266.04,325.66 266.16,325.57 266.28,324.79 266.40,324.70 266.50,324.38 266.52,324.15 266.64,324.19 266.76,325.36 266.88,325.93 267.00,325.92 267.12,326.85 267.24,327.89 267.36,329.34 267.48,329.34 267.60,330.29 267.72,330.02 267.84,330.43 267.96,331.63 268.08,331.45 268.20,330.92 268.32,332.24 268.44,331.55 268.56,332.93 268.68,333.21 268.80,333.23 268.92,331.91 269.04,332.68 269.16,333.18 269.28,332.69 269.40,331.64 269.52,331.91 269.64,332.51 269.76,331.83 269.88,331.25 270.00,331.66 270.12,331.82 270.24,331.20 270.36,330.23 270.48,329.84 270.60,329.51 270.72,329.63 270.84,330.08 270.96,330.65 271.08,329.90 271.20,330.90 271.32,331.55 271.44,330.96 271.56,331.94 271.68,332.40 271.80,331.16 271.92,331.72 272.04,332.36 272.16,331.23 272.28,331.24 272.40,332.34 272.52,332.37 272.64,333.02 272.76,332.66 272.88,333.16 273.00,332.52 273.12,332.73 273.24,333.10 273.36,332.37 273.48,332.37 273.60,332.90 273.72,331.75 273.84,332.47 273.96,331.90 274.08,332.46 274.20,331.64 274.32,331.70 274.44,332.56 274.56,332.12 274.68,332.81 274.80,332.52 274.92,332.34 275.04,332.93 275.16,331.43 275.28,332.88 275.40,331.28 275.52,331.07 275.64,332.42 275.76,330.86 275.88,331.08 276.00,330.62 276.12,330.11 276.24,330.07 276.36,330.13 276.48,329.00 276.60,328.73 276.72,328.56 276.84,327.35 276.96,326.63 277.08,326.22 277.20,325.98 277.32,325.34 277.44,325.12 277.56,324.14 277.68,324.36 277.80,323.64 277.92,323.21 278.00,323.72 278.04,323.98 278.16,323.47 278.28,324.23 278.40,324.48 278.52,324.38 278.64,325.26 278.76,325.32 278.88,326.18 279.00,326.62 279.12,326.88 279.24,327.72 279.36,328.25 279.48,328.36 279.60,329.96 279.72,329.61 279.84,330.06 279.96,331.41 280.08,330.88 280.20,331.16 280.32,331.86 280.44,330.94 280.56,331.89 280.68,331.16 280.80,331.12 280.92,331.19 281.04,331.37 281.16,332.70 281.28,332.04 281.40,331.46 281.52,331.58 281.64,332.91 281.76,333.18 281.88,333.32 282.00,331.75 282.12,332.08 282.24,333.12 282.36,333.11 282.48,333.12 282.60,331.94 282.72,333.01 282.84,332.97 282.96,333.26 283.08,332.44 283.20,332.80 283.32,331.99 283.44,332.97 283.56,331.66 283.68,333.16 283.80,332.82 283.92,332.13 284.04,331.81 284.16,332.08 284.28,332.32 284.40,332.53 284.52,332.69 284.64,331.99 284.76,331.43 284.88,331.00 285.00,331.90 285.12,331.62 285.24,331.00 285.36,331.57 285.48,331.43 285.60,332.24 285.72,331.19 285.84,331.51 285.96,331.62 286.08,332.25 286.20,332.07 286.32,332.60 286.44,332.45 286.56,332.22 286.68,332.85 286.80,332.65 286.92,331.85 287.04,332.31 287.16,332.72 287.28,332.75 287.40,332.46 287.52,331.97 287.64,333.12 287.76,332.58 287.88,332.78 288.00,333.19 288.12,331.71 288.24,331.85 288.36,332.94 288.48,331.81 288.60,331.64 288.72,333.39 288.84,331.71 288.96,333.18 289.08,333.39 289.20,332.33 289.32,332.74 289.44,331.83 289.56,333.42 289.68,333.23 289.80,332.15 289.92,331.75 290.04,333.01 290.16,333.40 290.28,331.86 290.40,333.18 290.52,333.11 290.64,331.92 290.76,331.84 290.88,331.83 291.00,331.92 291.12,332.10 291.24,331.65 291.36,331.75 291.48,332.06 291.60,331.96 291.72,332.47 291.84,330.87 291.96,331.87 292.08,330.59 292.20,330.29 292.32,331.05 292.44,330.28 292.56,330.17 292.68,330.14 292.80,329.65 292.92,329.35 293.04,328.53 293.16,328.28 293.28,328.32 293.40,328.03 293.52,327.68 293.64,328.29 293.70,328.34 293.76,328.52 293.88,328.25 294.00,328.18 294.12,328.14 294.24,328.39 294.36,329.17 294.48,329.32 294.60,328.74 294.72,329.71 294.84,330.45 294.96,330.69 295.08,330.28 295.20,331.24 295.32,331.54 295.44,331.42 295.56,332.06 295.68,331.04 295.80,332.53 295.92,332.53 296.04,331.89 296.16,332.67 296.28,332.24 296.40,332.81 296.52,332.04 296.64,332.67 296.76,331.66 296.88,333.31 297.00,332.86 297.12,333.20 297.24,332.71 297.36,332.66 297.48,332.91 297.60,332.87 297.72,331.55 297.84,331.12 297.96,331.53 298.08,330.79 298.20,331.34 298.32,330.55 298.44,329.88 298.56,329.92 298.68,331.27 298.80,330.95 298.92,331.16 299.04,332.12 299.16,331.62 299.28,332.02 299.40,332.15 299.52,332.94 299.64,332.87 299.76,333.26 299.88,332.11 300.00,333.41 300.12,332.59 300.24,332.27 300.36,333.31 300.48,331.94 300.60,333.35 300.72,331.66 300.84,331.91 300.96,332.59 301.08,332.11 301.20,332.93 301.32,332.68 301.44,332.07 301.56,332.43 301.68,331.65 301.80,333.25 301.92,331.71 302.04,332.18 302.16,333.23 302.28,332.50 302.40,332.51 302.52,332.63 302.64,332.62 302.76,331.83 302.88,331.32 303.00,331.99 303.12,331.55 303.24,331.63 303.36,332.08 303.48,331.42 303.60,330.85 303.72,331.19 303.84,332.26 303.96,331.41 304.08,331.66 304.20,332.93 304.32,332.25 304.44,332.70 304.56,333.21 304.68,333.11 304.80,331.64 304.92,332.51 305.04,332.84 305.16,331.86 305.28,331.94 305.40,333.01 305.52,332.94 305.64,333.38 305.76,331.71 305.88,331.70 306.00,333.38 306.12,332.85 306.24,331.75 306.36,332.74 306.48,332.68 306.60,332.73 306.72,332.97 306.84,332.79 306.96,332.48 307.08,332.18 307.20,331.88 307.32,333.31 307.44,332.37 307.56,332.07 307.68,332.77 307.80,332.82 307.92,332.68 308.04,333.19 308.16,332.71 308.28,332.30 308.40,331.78 308.52,331.83 308.64,332.50 308.76,332.08 308.88,331.87 309.00,333.10 309.12,332.42 309.24,332.91 309.36,333.13 309.48,331.69 309.60,333.30 309.72,332.56 309.84,332.14 309.96,332.40 310.08,331.90 310.20,332.06 310.32,332.50 310.44,331.71 310.56,332.09 310.68,331.71 310.80,332.46 310.92,331.41 311.04,332.10 311.16,330.74 311.28,331.26 311.40,331.11 311.52,330.78 311.64,330.72 311.76,330.96 311.88,330.22 312.00,330.38 312.12,330.00 312.24,329.01 312.36,328.93 312.48,328.55 312.60,329.22 312.72,328.19 312.84,329.11 312.96,328.67 313.00,328.51 313.08,328.69 313.20,328.71 313.32,328.92 313.44,328.96 313.56,328.81 313.68,329.26 313.80,328.61 313.92,329.57 314.04,329.32 314.16,330.93 314.28,330.71 314.40,331.05 314.52,331.70 314.64,330.51 314.76,330.91 314.88,331.72 315.00,331.42 315.12,331.07 315.24,331.66 315.36,332.45 315.48,332.52 315.60,331.43 315.72,332.01 315.84,333.00 315.96,332.68 316.08,332.64 316.20,333.30 316.32,332.16 316.44,331.73 316.56,332.70 316.68,332.74 316.80,332.58 316.92,333.31 317.04,332.81 317.16,331.68 317.28,332.67 317.40,331.56 317.52,332.34 317.64,332.08 317.76,331.08 317.88,331.29 318.00,331.58 318.12,331.24 318.24,330.43 318.36,330.58 318.48,330.44 318.60,328.70 318.72,329.49 318.84,329.01 318.96,329.27 319.08,330.58 319.20,331.44 319.32,332.13 319.44,332.53 319.56,331.45 319.68,331.44 319.80,332.85 319.92,332.94 320.04,331.86 320.16,332.63 320.28,332.76 320.40,332.29 320.52,331.91 320.64,332.22 320.76,332.11 320.88,331.62 321.00,332.10 321.12,332.05 321.24,332.81 321.36,332.72 321.48,332.72 321.60,331.88 321.72,332.12 321.84,330.91 321.96,331.54 322.08,331.55 322.20,331.31 322.32,331.58 322.44,331.77 322.56,332.49 322.68,332.23 322.80,331.99 322.92,332.98 323.04,332.53 323.16,333.27 323.28,332.66 323.40,332.56 323.52,331.67 323.64,331.98 323.76,332.82 323.88,332.15 324.00,332.65 324.12,331.65 324.24,330.72 324.36,330.68 324.48,331.09 324.60,331.42 324.72,332.30 324.84,331.68 324.96,332.62" fill="none" stroke="#0000ff" stroke-width="0.9" stroke-linejoin="round"/>
<line x1="28.7" y1="27.2" x2="28.7" y2="342.9" stroke="#111" stroke-width="1.2"/>
<line x1="28.099999999999998" y1="342.9" x2="325.4" y2="342.9" stroke="#111" stroke-width="1.5"/>
<path d="M26.50 333.80H28.70M26.50 318.90H28.70M26.50 304.00H28.70M26.50 289.10H28.70M26.50 274.20H28.70M26.50 259.30H28.70M26.50 244.40H28.70M26.50 229.50H28.70M26.50 214.60H28.70M26.50 199.70H28.70M26.50 184.80H28.70M26.50 169.90H28.70M26.50 155.00H28.70M26.50 140.10H28.70M26.50 125.20H28.70M26.50 110.30H28.70M26.50 95.40H28.70M26.50 80.50H28.70M26.50 65.60H28.70M26.50 50.70H28.70M26.50 35.80H28.70" stroke="#000" stroke-width="1"/>
<path d="M33.12 342.90V345.90M38.65 342.90V345.90M44.18 342.90V345.90M49.71 342.90V345.90M55.24 342.90V345.90M60.77 342.90V345.90M66.30 342.90V345.90M71.83 342.90V345.90M77.36 342.90V345.90M82.89 342.90V345.90M88.42 342.90V345.90M93.95 342.90V345.90M99.48 342.90V345.90M105.02 342.90V345.90M110.54 342.90V345.90M116.07 342.90V345.90M121.60 342.90V345.90M127.13 342.90V345.90M132.66 342.90V345.90M138.19 342.90V345.90M143.72 342.90V345.90M149.25 342.90V345.90M154.78 342.90V345.90M160.31 342.90V345.90M165.84 342.90V345.90M171.38 342.90V345.90M176.91 342.90V345.90M182.44 342.90V345.90M187.97 342.90V345.90M193.50 342.90V345.90M199.03 342.90V345.90M204.56 342.90V345.90M210.09 342.90V345.90M215.62 342.90V345.90M221.15 342.90V345.90M226.68 342.90V345.90M232.21 342.90V345.90M237.74 342.90V345.90M243.26 342.90V345.90M248.79 342.90V345.90M254.32 342.90V345.90M259.86 342.90V345.90M265.38 342.90V345.90M270.91 342.90V345.90M276.44 342.90V345.90M281.98 342.90V345.90M287.50 342.90V345.90M293.03 342.90V345.90M298.56 342.90V345.90M304.10 342.90V345.90M309.62 342.90V345.90M315.15 342.90V345.90M320.69 342.90V345.90" stroke="#000" stroke-width="1"/>
<text x="25.30" y="338.10" text-anchor="end" font-size="12">0</text>
<text x="25.30" y="263.60" text-anchor="end" font-size="12">0.5</text>
<text x="25.30" y="188.70" text-anchor="end" font-size="12">1</text>
<text x="2.40" y="36.80" font-size="12">x10<tspan font-size="7.9" dy="-4.1" fill="#555">5</tspan></text>
<text x="74.70" y="357.90" text-anchor="middle" font-size="12">2500</text>
<text x="143.80" y="357.90" text-anchor="middle" font-size="12">5000</text>
<text x="212.80" y="357.90" text-anchor="middle" font-size="12">7500</text>
<text x="282.00" y="357.90" text-anchor="middle" font-size="12">10000</text>
<text x="165.50" y="371.80" text-anchor="middle" font-size="12" font-style="italic">m/z</text>
<text transform="translate(10.00,168.10) rotate(-90)" text-anchor="middle" font-size="12">Intensity [a.u.]</text>
<text transform="translate(44.70,258.60) rotate(-90)" font-size="12">1192.3</text>
<text transform="translate(53.20,293.50) rotate(-90)" font-size="12">1327.3</text>
<text transform="translate(75.70,72.10) rotate(-90)" font-size="12">2108.9</text>
<text transform="translate(86.40,215.80) rotate(-90)" font-size="12">2784.6</text>
<text transform="translate(98.25,238.80) rotate(-90)" font-size="12">3211.6</text>
<text transform="translate(117.35,160.60) rotate(-90)" font-size="12">3858.8</text>
<text transform="translate(128.40,121.60) rotate(-90)" font-size="12">4305.5</text>
<text transform="translate(148.65,253.80) rotate(-90)" font-size="12">5030.7</text>
<text transform="translate(172.95,298.60) rotate(-90)" font-size="12">5899.0</text>
<text transform="translate(201.05,267.50) rotate(-90)" font-size="12">6939.8</text>
<text transform="translate(213.90,303.20) rotate(-90)" font-size="12">7426.0</text>
<text transform="translate(226.35,313.50) rotate(-90)" font-size="12">7712.8</text>
<text transform="translate(261.90,231.20) rotate(-90)" font-size="12">9139.5</text>
<text x="1.6" y="383.4" font-size="16.6" font-weight="bold">B</text>
<polyline points="37.00,687.76 37.12,680.56 37.24,672.32 37.36,665.95 37.48,663.08 37.50,663.04 37.60,664.54 37.72,670.01 37.84,668.74 37.96,642.00 38.08,605.96 38.20,565.36 38.32,529.14 38.44,507.58 38.50,504.70 38.56,507.58 38.68,529.14 38.80,565.36 38.92,605.96 39.04,641.98 39.16,668.70 39.28,685.78 39.40,691.81 39.52,693.16 39.64,693.30 39.76,694.48 39.88,695.33 40.00,696.28 40.12,696.27 40.24,697.21 40.36,697.72 40.48,699.37 40.60,699.54 40.72,701.13 40.84,700.74 40.96,700.06 41.08,700.07 41.20,701.69 41.32,702.22 41.44,700.64 41.56,701.71 41.68,702.92 41.80,702.86 41.92,700.88 42.04,701.89 42.16,702.90 42.28,702.23 42.40,700.73 42.52,701.60 42.64,701.40 42.76,701.50 42.88,703.05 43.00,702.49 43.12,702.69 43.24,701.82 43.36,701.72 43.48,699.83 43.60,700.17 43.72,698.53 43.84,698.20 43.96,696.42 44.08,697.05 44.20,695.81 44.32,696.57 44.44,696.03 44.56,697.04 44.68,698.19 44.80,699.26 44.92,697.28 45.04,694.62 45.16,692.92 45.28,691.40 45.40,689.95 45.52,689.05 45.64,688.77 45.76,690.21 45.88,691.25 46.00,693.60 46.12,695.79 46.24,697.55 46.36,697.90 46.48,698.05 46.60,698.99 46.72,699.05 46.84,700.11 46.96,700.63 47.08,701.32 47.20,702.34 47.32,702.81 47.44,701.15 47.56,702.43 47.68,702.65 47.80,700.45 47.92,701.06 48.04,701.15 48.16,701.12 48.28,701.87 48.40,699.92 48.52,700.21 48.64,701.83 48.76,700.48 48.88,700.78 49.00,699.88 49.12,701.59 49.24,700.34 49.36,699.20 49.48,700.85 49.60,699.94 49.72,699.02 49.84,698.48 49.96,698.16 50.08,699.65 50.20,697.97 50.32,697.08 50.44,694.88 50.56,690.64 50.68,686.78 50.80,681.87 50.92,677.33 51.04,673.80 51.16,672.07 51.20,672.06 51.28,672.58 51.40,674.85 51.52,678.86 51.64,683.22 51.76,688.40 51.88,692.12 52.00,695.49 52.12,697.41 52.24,698.80 52.36,697.53 52.48,698.62 52.60,699.08 52.72,698.02 52.84,697.19 52.96,694.64 53.08,693.66 53.20,693.48 53.32,694.70 53.44,695.66 53.56,697.23 53.68,698.08 53.80,698.36 53.92,700.68 54.04,699.99 54.16,699.44 54.28,699.51 54.40,699.77 54.52,698.96 54.64,698.97 54.76,698.78 54.88,699.05 55.00,699.54 55.12,700.69 55.24,700.77 55.36,700.58 55.48,699.77 55.60,698.74 55.72,698.97 55.84,698.07 55.96,698.17 56.08,697.76 56.20,697.04 56.32,697.11 56.44,694.89 56.56,694.68 56.68,693.10 56.80,693.01 56.92,693.40 57.04,694.24 57.16,696.39 57.28,696.37 57.40,696.79 57.52,694.45 57.64,693.04 57.76,694.19 57.88,696.63 58.00,698.48 58.12,699.01 58.24,700.80 58.36,699.60 58.48,699.04 58.60,699.17 58.72,698.81 58.84,700.32 58.96,699.39 59.08,700.56 59.20,700.55 59.32,701.01 59.44,701.91 59.56,701.17 59.68,700.25 59.80,701.34 59.92,699.82 60.04,698.61 60.16,698.18 60.28,695.54 60.40,694.16 60.52,693.32 60.64,693.44 60.76,693.62 60.88,690.41 61.00,688.14 61.10,687.60 61.12,687.71 61.24,689.52 61.36,691.32 61.48,694.25 61.60,697.31 61.72,699.09 61.84,698.08 61.96,698.63 62.08,697.45 62.20,697.97 62.32,697.87 62.44,698.96 62.56,697.08 62.68,693.89 62.80,691.32 62.92,690.16 63.00,689.68 63.04,689.80 63.16,691.37 63.28,693.45 63.40,694.16 63.52,694.22 63.64,695.13 63.76,695.84 63.88,696.75 64.00,697.26 64.12,699.78 64.24,699.62 64.36,701.37 64.48,700.64 64.60,698.13 64.72,697.14 64.84,696.10 64.96,696.76 65.08,698.26 65.20,697.93 65.32,701.12 65.44,699.56 65.56,698.98 65.68,699.62 65.80,698.56 65.92,699.28 66.04,698.78 66.16,698.46 66.28,699.17 66.40,698.24 66.52,699.47 66.64,696.06 66.76,692.26 66.88,687.45 67.00,680.71 67.12,675.23 67.24,671.75 67.30,671.44 67.36,671.85 67.48,675.28 67.60,680.91 67.72,687.25 67.84,692.70 67.96,696.98 68.08,698.46 68.20,696.14 68.32,695.24 68.44,693.80 68.56,694.98 68.68,695.64 68.80,696.38 68.92,698.04 69.04,699.56 69.16,699.34 69.28,700.25 69.40,700.48 69.52,700.81 69.64,700.77 69.76,700.30 69.88,701.55 70.00,700.85 70.12,699.75 70.24,701.26 70.36,699.49 70.48,700.80 70.60,700.78 70.72,701.91 70.84,701.54 70.96,699.65 71.08,699.61 71.20,698.45 71.32,698.72 71.44,697.70 71.56,697.46 71.68,697.13 71.80,698.03 71.92,697.65 72.04,698.56 72.16,698.38 72.28,698.81 72.40,700.21 72.52,697.02 72.64,694.30 72.76,692.20 72.88,690.93 73.00,689.94 73.00,690.27 73.12,690.88 73.24,689.55 73.36,687.93 73.48,688.43 73.60,688.64 73.72,690.39 73.84,692.99 73.96,694.42 74.08,696.83 74.20,698.16 74.32,698.92 74.44,700.71 74.56,699.59 74.68,699.38 74.80,700.06 74.92,699.60 75.04,700.46 75.16,699.51 75.28,698.88 75.40,696.23 75.52,693.32 75.64,688.41 75.76,683.47 75.88,679.69 76.00,678.52 76.00,678.34 76.12,679.69 76.24,683.37 76.36,687.82 76.48,692.33 76.60,696.70 76.72,697.36 76.84,696.75 76.96,698.07 77.08,697.09 77.20,698.27 77.32,699.02 77.44,700.32 77.56,699.52 77.68,699.32 77.80,698.26 77.92,698.16 78.04,697.76 78.16,698.09 78.28,696.22 78.40,691.44 78.52,685.27 78.64,678.91 78.76,673.84 78.88,671.48 78.90,671.31 79.00,672.54 79.12,676.75 79.24,683.04 79.36,688.48 79.48,687.80 79.60,688.57 79.72,689.92 79.84,692.68 79.96,694.88 80.08,696.90 80.20,698.57 80.32,699.72 80.44,700.26 80.56,699.78 80.68,700.85 80.80,701.21 80.92,701.55 81.04,700.25 81.16,702.11 81.28,701.40 81.40,701.15 81.52,700.00 81.64,700.38 81.76,700.46 81.88,699.32 82.00,700.12 82.12,699.77 82.24,698.78 82.36,695.28 82.48,691.32 82.60,686.82 82.72,682.46 82.84,679.72 82.90,679.43 82.96,679.88 83.08,682.35 83.20,686.58 83.32,691.04 83.44,695.11 83.56,697.44 83.68,699.53 83.80,699.48 83.92,700.93 84.04,701.09 84.16,701.43 84.28,700.93 84.40,699.74 84.52,700.50 84.64,700.24 84.76,699.13 84.88,698.20 85.00,699.14 85.12,698.86 85.24,697.57 85.36,697.30 85.48,698.90 85.60,698.40 85.72,696.73 85.84,695.76 85.96,694.95 86.08,694.93 86.20,694.99 86.32,691.27 86.44,686.60 86.56,683.45 86.68,682.05 86.70,682.06 86.80,682.66 86.92,685.50 87.04,689.64 87.16,693.78 87.28,697.40 87.40,697.53 87.52,696.60 87.64,697.58 87.76,699.24 87.88,699.79 88.00,701.75 88.12,700.22 88.24,701.57 88.36,699.88 88.48,700.73 88.60,700.00 88.72,700.16 88.84,699.31 88.96,697.27 89.08,693.74 89.20,689.43 89.32,686.27 89.44,684.03 89.50,683.83 89.56,684.49 89.68,686.03 89.80,689.40 89.92,692.89 90.04,697.09 90.16,698.31 90.28,700.30 90.40,699.49 90.52,701.17 90.64,699.75 90.76,700.97 90.88,701.96 91.00,701.45 91.12,701.34 91.24,701.83 91.36,700.91 91.48,700.02 91.60,701.29 91.72,701.47 91.84,699.86 91.96,700.06 92.08,700.01 92.20,698.33 92.32,698.43 92.44,696.22 92.56,692.53 92.68,689.20 92.80,685.11 92.92,682.60 93.00,682.13 93.04,682.31 93.16,684.00 93.28,687.86 93.40,691.09 93.52,695.03 93.64,697.69 93.76,700.04 93.88,700.19 94.00,699.71 94.12,697.16 94.24,693.10 94.36,688.03 94.48,683.63 94.60,680.51 94.70,679.40 94.72,679.62 94.84,681.42 94.96,684.74 95.08,689.41 95.20,693.50 95.32,696.68 95.44,699.18 95.56,699.28 95.68,698.15 95.80,699.20 95.92,699.19 96.04,699.63 96.16,698.23 96.28,696.56 96.40,696.82 96.52,698.81 96.64,696.47 96.76,695.35 96.88,695.12 97.00,695.88 97.12,696.41 97.24,697.04 97.36,696.97 97.48,696.90 97.60,694.91 97.72,694.99 97.84,693.36 97.96,693.62 98.08,694.67 98.20,694.56 98.32,695.23 98.44,694.79 98.56,696.73 98.68,696.55 98.80,697.94 98.92,698.34 99.04,699.60 99.16,698.83 99.28,699.10 99.40,697.72 99.52,697.40 99.64,697.59 99.76,697.52 99.88,697.16 100.00,698.56 100.12,697.59 100.24,698.96 100.36,695.78 100.48,692.32 100.60,688.03 100.72,684.27 100.84,682.12 100.90,681.80 100.96,682.33 101.08,684.78 101.20,687.87 101.32,692.74 101.44,696.23 101.56,696.78 101.68,695.02 101.80,694.11 101.92,695.15 102.04,695.56 102.16,697.83 102.28,698.22 102.40,698.63 102.52,697.99 102.64,695.40 102.76,693.95 102.88,691.84 103.00,687.83 103.12,683.72 103.24,681.08 103.30,680.79 103.36,681.08 103.48,683.64 103.60,687.54 103.72,691.89 103.84,696.25 103.96,697.96 104.08,699.69 104.20,700.11 104.32,699.74 104.44,698.50 104.56,697.46 104.68,697.19 104.80,696.25 104.92,690.62 105.04,685.06 105.16,679.76 105.28,675.34 105.40,673.69 105.40,673.74 105.52,675.25 105.64,679.60 105.76,685.22 105.88,690.65 106.00,695.83 106.12,698.43 106.24,698.86 106.36,699.49 106.48,699.91 106.60,700.45 106.72,700.52 106.84,699.80 106.96,699.07 107.08,698.92 107.20,696.96 107.32,696.61 107.44,697.53 107.56,696.99 107.68,698.81 107.80,698.69 107.92,698.88 108.04,698.55 108.16,697.64 108.28,698.51 108.40,697.45 108.52,694.90 108.64,690.19 108.76,682.30 108.88,673.23 109.00,664.93 109.12,659.45 109.20,658.29 109.24,658.61 109.36,662.66 109.48,670.21 109.60,679.18 109.72,687.19 109.84,694.04 109.96,696.55 110.08,697.52 110.20,697.29 110.32,695.18 110.44,695.24 110.56,694.14 110.68,693.74 110.80,693.11 110.92,693.76 111.04,694.70 111.16,695.98 111.28,694.73 111.40,692.98 111.52,691.96 111.64,692.02 111.76,686.62 111.88,672.26 112.00,650.52 112.12,622.72 112.24,593.50 112.36,570.00 112.48,559.23 112.50,559.00 112.60,564.72 112.72,584.65 112.84,612.82 112.96,641.77 113.08,665.87 113.20,682.55 113.32,691.46 113.44,692.27 113.56,693.21 113.68,694.13 113.80,695.23 113.92,695.74 114.04,696.69 114.16,698.12 114.28,697.30 114.40,698.85 114.52,698.02 114.64,698.77 114.76,700.27 114.88,698.40 115.00,698.02 115.12,699.18 115.24,697.96 115.36,695.57 115.48,690.81 115.60,684.25 115.72,677.27 115.84,671.19 115.96,668.07 116.00,667.77 116.08,668.62 116.20,673.03 116.32,679.69 116.44,686.78 116.56,692.07 116.68,696.85 116.80,698.65 116.92,698.83 117.04,699.63 117.16,700.30 117.28,699.87 117.40,700.72 117.52,699.87 117.64,700.51 117.76,701.61 117.88,700.26 118.00,701.29 118.12,701.60 118.24,700.96 118.36,702.19 118.48,701.91 118.60,700.85 118.72,699.20 118.84,698.71 118.96,699.21 119.08,698.96 119.20,699.58 119.32,697.96 119.44,695.49 119.56,695.73 119.68,696.30 119.80,697.61 119.92,698.77 120.04,697.92 120.16,696.56 120.28,696.57 120.40,697.34 120.52,697.90 120.64,697.44 120.76,698.54 120.88,698.59 121.00,699.78 121.12,699.82 121.24,698.09 121.36,699.52 121.48,698.47 121.60,698.78 121.72,699.18 121.84,700.62 121.96,699.90 122.08,701.33 122.20,702.20 122.32,701.51 122.44,701.06 122.56,700.15 122.68,698.82 122.80,696.74 122.92,696.49 123.04,695.93 123.16,695.70 123.28,697.13 123.40,697.17 123.52,697.83 123.64,697.41 123.76,697.80 123.88,698.04 124.00,699.24 124.12,697.98 124.24,699.75 124.36,697.46 124.48,695.25 124.60,690.49 124.72,686.14 124.84,682.26 124.96,680.26 125.00,680.15 125.08,680.59 125.20,683.35 125.32,687.45 125.44,691.98 125.56,695.73 125.68,696.51 125.80,698.64 125.92,699.36 126.04,699.92 126.16,698.12 126.28,697.02 126.40,696.71 126.52,696.46 126.64,695.77 126.76,695.83 126.88,696.76 127.00,697.08 127.12,698.42 127.24,697.00 127.36,696.93 127.48,696.56 127.60,695.40 127.72,695.24 127.84,694.11 127.96,688.19 128.08,678.20 128.20,664.57 128.32,649.74 128.44,637.15 128.56,630.47 128.60,630.00 128.68,631.86 128.80,640.86 128.92,654.65 129.04,669.44 129.16,681.93 129.28,691.66 129.40,694.14 129.52,695.42 129.64,695.54 129.76,696.16 129.88,696.82 130.00,696.74 130.12,696.77 130.24,699.04 130.36,698.41 130.48,699.06 130.60,699.78 130.72,699.32 130.84,701.18 130.96,700.13 131.08,699.14 131.20,699.72 131.32,698.65 131.44,698.08 131.56,698.07 131.68,697.49 131.80,697.15 131.92,696.49 132.04,690.17 132.16,683.33 132.28,674.86 132.40,666.94 132.52,661.81 132.60,660.66 132.64,660.99 132.76,664.76 132.88,671.95 133.00,680.52 133.12,688.42 133.24,694.40 133.36,697.16 133.48,698.74 133.60,698.89 133.72,698.75 133.84,699.64 133.96,697.88 134.08,698.16 134.20,696.94 134.32,695.49 134.44,696.05 134.56,694.17 134.68,693.14 134.80,692.38 134.92,692.09 135.04,680.91 135.16,659.85 135.28,627.46 135.40,584.96 135.52,538.65 135.64,499.34 135.76,478.47 135.80,477.00 135.88,482.80 136.00,510.91 136.12,553.90 136.24,599.97 136.36,639.53 136.48,668.07 136.60,685.44 136.72,691.60 136.84,692.84 136.96,693.34 137.08,694.44 137.20,695.31 137.32,696.12 137.44,696.80 137.56,697.70 137.68,698.38 137.80,697.32 137.92,699.04 138.04,697.53 138.16,697.76 138.28,696.95 138.40,696.37 138.52,696.52 138.64,691.75 138.76,686.30 138.88,678.79 139.00,671.90 139.12,667.47 139.20,666.66 139.24,666.85 139.36,670.18 139.48,676.42 139.60,683.38 139.72,690.71 139.84,695.70 139.96,698.07 140.08,697.70 140.20,697.52 140.32,698.28 140.44,697.61 140.56,697.78 140.68,697.60 140.80,697.73 140.92,696.48 141.04,695.97 141.16,696.55 141.28,695.97 141.40,695.63 141.52,696.69 141.64,697.61 141.76,699.48 141.88,698.61 142.00,698.39 142.12,697.08 142.24,695.57 142.36,696.41 142.48,692.55 142.60,689.72 142.72,688.72 142.80,688.38 142.84,688.10 142.96,689.16 143.08,691.37 143.20,695.40 143.32,697.43 143.44,700.47 143.56,700.79 143.68,701.30 143.80,699.27 143.92,696.21 144.04,693.35 144.16,691.52 144.28,693.59 144.40,697.23 144.52,696.95 144.64,697.33 144.76,695.54 144.88,693.59 145.00,693.14 145.12,692.63 145.24,695.06 145.36,696.07 145.48,698.17 145.60,700.30 145.72,700.36 145.84,700.22 145.96,699.51 146.08,699.44 146.20,701.00 146.32,701.20 146.44,700.92 146.56,699.51 146.68,697.72 146.80,696.06 146.92,693.52 147.04,690.15 147.16,687.11 147.28,684.24 147.40,682.62 147.50,682.18 147.52,682.14 147.64,683.03 147.76,685.38 147.88,678.48 148.00,656.85 148.12,625.32 148.24,586.22 148.36,546.62 148.48,516.63 148.60,505.40 148.60,505.40 148.72,516.63 148.84,546.62 148.96,586.22 149.08,625.32 149.20,634.70 149.20,634.70 149.32,637.05 149.44,643.64 149.56,653.19 149.68,663.94 149.80,674.52 149.92,683.50 150.04,690.17 150.16,694.01 150.28,695.51 150.40,694.85 150.52,696.63 150.64,696.08 150.76,697.64 150.88,696.52 151.00,697.02 151.12,698.98 151.24,698.08 151.36,697.72 151.48,697.65 151.60,697.03 151.72,695.79 151.84,696.13 151.96,694.21 152.08,693.11 152.20,692.79 152.32,689.92 152.44,679.60 152.56,665.59 152.68,649.17 152.80,633.82 152.92,623.78 153.00,621.70 153.04,622.22 153.16,629.68 153.28,643.73 153.40,660.27 153.52,672.37 153.64,670.63 153.76,668.98 153.88,667.50 154.00,666.39 154.12,665.36 154.24,664.69 154.36,664.21 154.48,664.01 154.50,663.98 154.60,664.11 154.72,664.52 154.84,665.14 154.96,665.99 155.08,667.16 155.20,668.45 155.32,669.97 155.44,654.05 155.56,637.61 155.68,625.16 155.80,620.50 155.80,620.50 155.92,625.16 156.04,637.60 156.16,654.05 156.28,670.31 156.40,683.09 156.52,689.10 156.64,690.77 156.76,691.46 156.88,692.97 157.00,694.99 157.12,695.18 157.24,696.38 157.36,696.75 157.48,698.85 157.60,698.67 157.72,700.33 157.84,700.99 157.96,700.44 158.08,700.18 158.20,699.42 158.32,700.46 158.44,700.24 158.56,697.84 158.68,698.84 158.80,697.41 158.92,697.62 159.04,696.48 159.16,696.06 159.28,695.36 159.40,696.31 159.52,695.50 159.64,697.29 159.76,698.47 159.88,700.13 160.00,700.00 160.12,699.98 160.24,699.48 160.36,699.86 160.48,701.19 160.60,699.62 160.72,701.84 160.84,701.66 160.96,700.75 161.08,701.62 161.20,700.23 161.32,699.82 161.44,700.82 161.56,700.41 161.68,699.27 161.80,699.65 161.92,698.10 162.04,697.54 162.16,698.58 162.28,697.50 162.40,697.52 162.52,696.70 162.64,696.17 162.76,696.46 162.88,691.50 163.00,683.91 163.12,674.78 163.24,664.68 163.36,655.27 163.48,648.47 163.60,646.00 163.60,645.99 163.72,648.46 163.84,655.27 163.96,664.75 164.08,674.95 164.20,683.78 164.32,691.13 164.44,695.91 164.56,696.81 164.68,696.50 164.80,697.77 164.92,697.14 165.04,697.81 165.16,697.86 165.28,697.10 165.40,697.66 165.52,698.15 165.64,698.47 165.76,700.33 165.88,700.74 166.00,701.35 166.12,700.63 166.24,700.58 166.36,701.59 166.48,699.80 166.60,700.03 166.72,698.85 166.84,696.48 166.96,695.86 167.08,694.48 167.20,694.12 167.32,692.09 167.44,691.54 167.56,691.39 167.68,692.18 167.80,692.16 167.92,693.27 168.04,694.77 168.16,696.60 168.28,697.90 168.40,697.80 168.52,699.13 168.64,699.92 168.76,698.01 168.88,697.31 169.00,697.24 169.12,696.92 169.24,694.09 169.36,690.09 169.48,684.77 169.60,679.17 169.72,673.76 169.84,669.84 169.96,667.91 170.00,667.83 170.08,668.33 170.20,671.10 170.32,675.49 170.44,681.07 170.56,686.42 170.68,691.09 170.80,695.01 170.92,697.23 171.04,696.76 171.16,697.02 171.28,697.01 171.40,698.74 171.52,697.89 171.64,696.00 171.76,695.37 171.88,694.92 172.00,694.95 172.12,695.67 172.24,695.56 172.36,697.06 172.48,697.20 172.60,698.12 172.72,699.37 172.84,700.41 172.96,699.59 173.08,700.10 173.20,701.59 173.32,700.45 173.44,699.59 173.56,700.70 173.68,700.58 173.80,700.42 173.92,702.00 174.04,701.30 174.16,700.12 174.28,700.34 174.40,700.06 174.52,698.45 174.64,697.98 174.76,698.33 174.88,698.86 175.00,699.72 175.12,698.89 175.24,697.80 175.36,696.81 175.48,697.18 175.60,697.12 175.72,697.39 175.84,698.68 175.96,700.27 176.08,700.54 176.20,701.04 176.32,699.83 176.44,698.84 176.56,696.88 176.68,696.64 176.80,695.11 176.92,695.42 177.00,694.46 177.04,694.56 177.16,694.74 177.28,696.04 177.40,697.07 177.52,698.72 177.64,698.63 177.76,699.01 177.88,697.81 178.00,698.71 178.12,698.93 178.24,700.34 178.36,699.80 178.48,699.20 178.60,698.92 178.72,699.88 178.84,700.24 178.96,699.21 179.08,700.10 179.20,700.69 179.32,699.11 179.44,698.81 179.56,700.35 179.68,699.31 179.80,699.85 179.92,700.46 180.04,698.90 180.16,698.74 180.28,697.59 180.40,697.86 180.52,696.42 180.64,696.22 180.76,696.63 180.88,696.07 181.00,696.80 181.12,695.71 181.24,696.53 181.36,697.10 181.48,696.29 181.60,697.71 181.72,698.59 181.84,700.06 181.96,699.97 182.08,701.19 182.20,700.05 182.32,699.87 182.44,699.89 182.56,698.76 182.68,699.22 182.80,699.57 182.92,699.58 183.04,699.95 183.16,700.79 183.28,701.58 183.40,700.22 183.52,700.33 183.64,699.66 183.76,699.97 183.88,699.38 184.00,699.30 184.12,698.96 184.24,697.95 184.36,698.79 184.48,698.46 184.60,699.05 184.72,700.03 184.84,700.02 184.96,701.52 185.08,700.10 185.20,702.54 185.32,701.00 185.44,700.77 185.56,699.24 185.68,699.97 185.80,699.51 185.92,700.97 186.04,699.46 186.16,700.55 186.28,700.08 186.40,698.67 186.52,698.42 186.64,698.97 186.76,698.41 186.88,699.83 187.00,698.39 187.12,699.61 187.24,696.79 187.36,695.88 187.48,693.68 187.60,692.67 187.72,691.87 187.80,691.90 187.84,692.26 187.96,693.17 188.08,694.30 188.20,695.13 188.32,697.32 188.44,698.84 188.56,700.73 188.68,698.58 188.80,697.92 188.92,696.22 189.04,696.05 189.16,694.78 189.28,695.23 189.40,694.97 189.52,697.28 189.64,698.30 189.76,697.38 189.88,697.82 190.00,696.33 190.12,696.99 190.24,697.61 190.36,697.21 190.48,698.00 190.60,699.16 190.72,697.53 190.84,696.97 190.96,697.02 191.08,698.82 191.20,697.93 191.32,695.08 191.44,691.36 191.56,687.68 191.68,683.81 191.80,680.89 191.92,679.00 192.00,678.38 192.04,678.57 192.16,680.00 192.28,682.86 192.40,686.05 192.52,690.42 192.64,694.03 192.76,696.05 192.88,695.76 193.00,692.05 193.12,686.99 193.24,681.25 193.36,675.34 193.48,670.69 193.60,667.46 193.70,666.55 193.72,666.58 193.84,668.31 193.96,672.08 194.08,677.29 194.20,682.86 194.32,688.54 194.44,693.29 194.56,696.44 194.68,697.43 194.80,697.66 194.92,698.92 195.04,698.36 195.16,698.28 195.28,700.14 195.40,698.71 195.52,699.56 195.64,700.16 195.76,699.12 195.88,699.29 196.00,700.01 196.12,699.80 196.24,698.85 196.36,699.31 196.48,699.51 196.60,698.59 196.72,697.40 196.84,695.75 196.96,695.58 197.08,693.25 197.20,692.58 197.32,691.32 197.44,689.87 197.56,688.31 197.68,686.31 197.80,684.46 197.92,682.66 198.04,680.78 198.16,678.54 198.28,673.86 198.40,662.64 198.52,650.81 198.64,640.09 198.76,632.27 198.88,628.87 198.90,628.80 199.00,630.59 199.12,637.06 199.24,647.02 199.36,658.70 199.48,664.99 199.50,665.05 199.60,665.10 199.72,665.43 199.84,666.13 199.96,666.92 200.08,667.88 200.20,669.12 200.32,670.63 200.44,672.32 200.56,657.87 200.68,639.78 200.80,620.29 200.92,602.05 201.04,588.13 201.16,581.18 201.20,580.70 201.28,582.60 201.40,592.11 201.52,607.80 201.64,626.79 201.76,646.08 201.88,663.30 202.00,677.06 202.12,687.04 202.24,691.43 202.36,691.77 202.48,692.87 202.60,693.46 202.72,694.28 202.84,695.13 202.96,695.57 203.08,696.25 203.20,697.03 203.32,697.42 203.44,698.31 203.56,698.28 203.68,698.49 203.80,698.95 203.92,700.27 204.04,699.70 204.16,699.73 204.28,700.44 204.40,700.98 204.52,701.43 204.64,700.49 204.76,701.27 204.88,701.97 205.00,701.34 205.12,700.90 205.24,701.88 205.36,700.82 205.48,700.31 205.60,700.72 205.72,700.77 205.84,700.73 205.96,700.44 206.08,700.30 206.20,699.67 206.32,699.79 206.44,699.69 206.56,699.51 206.68,699.17 206.80,698.29 206.92,698.69 207.04,697.14 207.16,694.06 207.28,689.74 207.40,684.38 207.52,679.52 207.64,674.65 207.76,671.23 207.88,669.69 207.90,669.68 208.00,670.44 208.12,673.32 208.24,677.67 208.36,682.74 208.48,687.86 208.60,692.67 208.72,695.84 208.84,698.08 208.96,697.98 209.08,698.51 209.20,699.64 209.32,699.85 209.44,699.98 209.56,700.18 209.68,700.46 209.80,699.35 209.92,700.95 210.04,701.10 210.16,700.19 210.28,701.56 210.40,701.27 210.52,700.68 210.64,701.90 210.76,700.64 210.88,701.67 211.00,701.44 211.12,701.60 211.24,701.79 211.36,700.81 211.48,700.93 211.60,699.87 211.72,701.37 211.84,700.85 211.96,700.65 212.08,701.01 212.20,702.18 212.32,700.53 212.44,702.02 212.56,701.63 212.68,700.75 212.80,701.54 212.92,700.10 213.04,700.99 213.16,700.07 213.28,700.61 213.40,699.36 213.52,700.27 213.64,699.81 213.76,700.03 213.88,699.42 214.00,699.61 214.12,698.02 214.24,696.17 214.36,692.93 214.48,688.46 214.60,684.64 214.72,680.60 214.84,677.79 214.96,676.30 215.00,676.14 215.08,676.47 215.20,678.61 215.32,681.96 215.44,685.80 215.56,689.97 215.68,693.37 215.80,696.64 215.92,698.46 216.04,699.02 216.16,699.31 216.28,699.97 216.40,700.24 216.52,699.60 216.64,699.67 216.76,700.50 216.88,700.70 217.00,700.55 217.12,701.31 217.24,700.53 217.36,701.76 217.48,701.30 217.60,701.74 217.72,701.05 217.84,700.76 217.96,701.90 218.08,701.45 218.20,701.67 218.32,702.26 218.44,701.71 218.56,702.38 218.68,701.50 218.80,701.93 218.92,701.72 219.04,701.36 219.16,702.00 219.28,701.85 219.40,702.06 219.52,701.88 219.64,701.38 219.76,701.20 219.88,701.69 220.00,701.57 220.12,701.00 220.24,701.24 220.36,700.50 220.48,700.50 220.60,700.43 220.72,700.49 220.84,701.11 220.96,701.07 221.08,701.08 221.20,700.45 221.32,700.64 221.44,700.41 221.56,699.60 221.68,699.54 221.80,698.95 221.92,695.88 222.04,693.50 222.16,691.14 222.28,688.34 222.40,686.12 222.52,684.64 222.60,684.49 222.64,684.42 222.76,685.48 222.88,687.60 223.00,690.42 223.12,692.74 223.24,695.53 223.36,697.68 223.48,698.80 223.60,700.71 223.72,700.56 223.84,700.15 223.96,700.11 224.08,700.15 224.20,700.61 224.32,700.51 224.44,700.97 224.56,701.09 224.68,701.00 224.80,701.16 224.92,700.85 225.04,699.68 225.16,699.56 225.28,700.31 225.40,700.13 225.52,699.51 225.64,700.16 225.76,700.19 225.88,701.00 226.00,700.71 226.12,702.14 226.24,702.26 226.36,700.86 226.48,702.13 226.60,702.62 226.72,701.64 226.84,702.81 226.96,701.42 227.08,701.42 227.20,701.39 227.32,701.75 227.44,702.26 227.56,702.56 227.68,701.30 227.80,701.25 227.92,701.43 228.04,702.76 228.16,702.93 228.28,702.52 228.40,701.31 228.52,701.40 228.64,701.88 228.76,702.31 228.88,702.38 229.00,702.36 229.12,701.50 229.24,702.67 229.36,702.58 229.48,701.80 229.60,701.77 229.72,701.33 229.84,701.64 229.96,701.53 230.08,701.96 230.20,702.22 230.32,702.82 230.44,701.88 230.56,701.66 230.68,702.68 230.80,701.38 230.92,701.57 231.04,702.37 231.16,702.35 231.28,702.11 231.40,701.72 231.52,701.43 231.64,701.27 231.76,702.34 231.88,702.26 232.00,702.14 232.12,702.15 232.24,702.67 232.36,702.70 232.48,701.51 232.60,701.06 232.72,700.74 232.84,700.51 232.96,701.57 233.08,700.65 233.20,700.22 233.32,700.38 233.44,701.33 233.56,701.28 233.68,701.95 233.80,702.59 233.92,701.60 234.04,702.71 234.16,701.56 234.28,701.57 234.40,702.91 234.52,702.45 234.64,702.49 234.76,702.80 234.88,702.01 235.00,702.01 235.12,701.53 235.24,702.10 235.36,702.22 235.48,702.25 235.60,701.77 235.72,701.44 235.84,701.74 235.96,701.30 236.08,701.24 236.20,701.38 236.32,701.19 236.44,702.72 236.56,701.27 236.68,701.63 236.80,702.76 236.92,701.56 237.04,702.22 237.16,702.69 237.28,701.89 237.40,702.45 237.52,702.39 237.64,701.47 237.76,702.76 237.88,702.36 238.00,701.46 238.12,702.70 238.24,702.60 238.36,702.78 238.48,702.27 238.60,702.51 238.72,701.43 238.84,702.75 238.96,701.38 239.08,702.09 239.20,701.81 239.32,702.28 239.44,702.93 239.56,702.87 239.68,701.62 239.80,702.52 239.92,702.56 240.04,701.19 240.16,702.70 240.28,702.11 240.40,702.11 240.52,701.59 240.64,702.10 240.76,701.94 240.88,701.19 241.00,701.44 241.12,702.79 241.24,701.62 241.36,702.77 241.48,702.07 241.60,702.42 241.72,701.22 241.84,701.29 241.96,701.29 242.08,702.31 242.20,701.79 242.32,701.36 242.44,702.61 242.56,701.78 242.68,702.19 242.80,702.30 242.92,702.19 243.04,702.00 243.16,701.20 243.28,701.57 243.40,702.48 243.52,702.40 243.64,702.91 243.76,701.20 243.88,701.57 244.00,701.43 244.12,702.65 244.24,702.41 244.36,702.68 244.48,701.62 244.60,702.75 244.72,701.27 244.84,701.36 244.96,701.66 245.08,702.45 245.20,702.32 245.32,701.39 245.44,701.37 245.56,702.59 245.68,701.99 245.80,701.34 245.92,701.18 246.04,701.43 246.16,701.42 246.28,702.72 246.40,701.55 246.52,702.85 246.64,702.06 246.76,702.36 246.88,701.34 247.00,701.56 247.12,701.60 247.24,701.37 247.36,702.04 247.48,701.51 247.60,701.55 247.72,701.76 247.84,702.41 247.96,702.88 248.08,701.53 248.20,702.89 248.32,702.16 248.44,701.27 248.56,701.60 248.68,702.68 248.80,701.35 248.92,701.74 249.04,701.75 249.16,701.47 249.28,702.43 249.40,702.17 249.52,701.54 249.64,702.85 249.76,702.43 249.88,702.75 250.00,702.90 250.12,701.87 250.24,701.91 250.36,702.26 250.48,701.27 250.60,702.69 250.72,702.77 250.84,702.57 250.96,702.11 251.08,702.72 251.20,702.46 251.32,702.76 251.44,702.39 251.56,701.94 251.68,702.02 251.80,702.53 251.92,701.44 252.04,702.79 252.16,702.88 252.28,702.80 252.40,702.16 252.52,701.20 252.64,702.79 252.76,701.56 252.88,701.19 253.00,702.03 253.12,702.84 253.24,702.29 253.36,701.63 253.48,701.40 253.60,702.18 253.72,701.79 253.84,701.44 253.96,701.64 254.08,702.62 254.20,702.16 254.32,701.81 254.44,701.30 254.56,701.75 254.68,701.08 254.80,702.04 254.92,701.70 255.04,700.78 255.16,700.90 255.28,701.02 255.40,700.91 255.52,702.21 255.64,701.44 255.76,702.54 255.88,702.83 256.00,701.89 256.12,701.24 256.24,702.31 256.36,701.87 256.48,701.92 256.60,702.61 256.72,701.04 256.84,702.37 256.96,701.45 257.08,700.90 257.20,700.79 257.32,700.63 257.44,700.78 257.56,701.25 257.68,700.56 257.80,699.95 257.92,700.02 258.04,698.96 258.16,697.98 258.28,697.53 258.40,697.53 258.52,696.42 258.64,695.18 258.76,694.49 258.88,692.61 259.00,691.84 259.12,690.34 259.24,688.35 259.36,686.67 259.48,684.71 259.60,682.65 259.72,680.59 259.84,678.50 259.96,675.95 260.08,673.53 260.20,671.00 260.32,668.36 260.44,665.73 260.56,663.09 260.68,660.46 260.80,657.87 260.92,647.15 261.04,628.02 261.16,605.12 261.28,578.82 261.40,549.92 261.52,519.68 261.64,489.77 261.76,462.12 261.88,438.71 262.00,421.39 262.12,411.60 262.20,409.70 262.24,410.18 262.36,417.24 262.48,432.18 262.60,453.75 262.72,480.21 262.84,509.59 262.96,539.92 263.08,569.42 263.20,596.71 263.32,620.80 263.44,641.20 263.56,657.02 263.68,659.59 263.80,662.23 263.92,664.85 264.04,667.57 264.16,670.18 264.28,672.72 264.40,675.30 264.52,677.57 264.64,679.88 264.76,682.22 264.88,684.35 265.00,686.33 265.12,687.91 265.24,689.72 265.36,691.12 265.48,692.27 265.60,694.12 265.72,694.69 265.84,696.18 265.96,696.31 266.08,697.17 266.20,697.60 266.32,698.54 266.44,698.64 266.56,699.76 266.68,700.38 266.80,701.19 266.92,701.28 267.04,701.69 267.16,701.47 267.28,701.96 267.40,701.34 267.52,702.02 267.64,701.50 267.76,702.09 267.88,701.72 268.00,702.04 268.12,702.11 268.24,702.22 268.36,701.30 268.48,701.29 268.60,702.58 268.72,701.19 268.84,702.02 268.96,701.51 269.08,701.44 269.20,701.87 269.32,701.23 269.44,701.10 269.56,701.96 269.68,702.17 269.80,701.72 269.92,701.42 270.04,700.14 270.16,700.13 270.28,698.36 270.40,697.79 270.52,697.13 270.64,696.34 270.76,695.42 270.88,694.94 271.00,694.10 271.12,692.95 271.24,693.43 271.30,692.93 271.36,693.30 271.48,692.93 271.60,694.18 271.72,694.43 271.84,695.53 271.96,696.45 272.08,697.03 272.20,697.88 272.32,698.46 272.44,699.18 272.56,700.75 272.68,700.98 272.80,701.49 272.92,702.19 273.04,700.88 273.16,701.22 273.28,702.46 273.40,702.53 273.52,701.73 273.64,702.30 273.76,702.16 273.88,702.00 274.00,701.46 274.12,701.38 274.24,700.70 274.36,699.47 274.48,699.05 274.60,699.04 274.72,698.74 274.84,697.58 274.96,698.33 275.08,697.05 275.20,697.54 275.32,696.57 275.40,696.42 275.44,696.81 275.56,697.69 275.68,696.91 275.80,697.01 275.92,697.97 276.04,699.01 276.16,699.13 276.28,699.20 276.40,699.25 276.52,700.46 276.64,700.59 276.76,701.71 276.88,701.35 277.00,700.91 277.12,701.93 277.24,702.20 277.36,702.17 277.48,701.71 277.60,702.49 277.72,701.58 277.84,701.19 277.96,701.07 278.08,700.90 278.20,702.42 278.32,702.19 278.44,702.51 278.56,701.72 278.68,700.97 278.80,700.99 278.92,700.57 279.04,700.17 279.16,700.63 279.28,700.40 279.40,701.80 279.52,700.96 279.64,701.60 279.76,701.96 279.88,702.38 280.00,701.71 280.12,702.68 280.24,701.61 280.36,702.99 280.48,702.97 280.60,701.44 280.72,702.27 280.84,701.74 280.96,701.67 281.08,701.90 281.20,702.49 281.32,702.91 281.44,702.94 281.56,702.11 281.68,701.86 281.80,702.57 281.92,702.87 282.04,702.48 282.16,702.87 282.28,701.24 282.40,701.59 282.52,701.30 282.64,702.74 282.76,701.70 282.88,702.25 283.00,701.94 283.12,702.01 283.24,701.68 283.36,701.24 283.48,701.86 283.60,701.16 283.72,701.49 283.84,701.00 283.96,701.60 284.08,701.66 284.20,702.80 284.32,702.75 284.44,702.29 284.56,702.17 284.68,702.75 284.80,702.96 284.92,702.75 285.04,702.74 285.16,702.16 285.28,702.52 285.40,701.88 285.52,701.93 285.64,702.28 285.76,702.40 285.88,701.58 286.00,701.74 286.12,701.87 286.24,702.22 286.36,701.08 286.48,701.71 286.60,702.54 286.72,701.71 286.84,702.40 286.96,701.86 287.08,702.72 287.20,701.75 287.32,702.34 287.44,701.71 287.56,701.55 287.68,702.34 287.80,702.41 287.92,702.76 288.04,701.55 288.16,701.54 288.28,702.59 288.40,701.15 288.52,701.54 288.64,701.32 288.76,700.74 288.88,700.33 289.00,700.94 289.12,700.33 289.24,701.46 289.36,701.08 289.48,700.93 289.60,701.38 289.72,701.70 289.84,702.19 289.96,701.68 290.08,700.71 290.20,701.73 290.32,700.83 290.44,700.68 290.56,701.73 290.68,701.29 290.80,701.43 290.92,702.32 291.04,700.97 291.16,701.57 291.28,701.45 291.40,701.21 291.52,702.49 291.64,702.39 291.76,701.81 291.88,701.57 292.00,701.98 292.12,701.40 292.24,702.51 292.36,701.22 292.48,702.33 292.60,702.13 292.72,701.67 292.84,701.45 292.96,702.02 293.08,702.42 293.20,702.00 293.32,702.59 293.44,701.37 293.56,702.05 293.68,702.50 293.80,701.45 293.92,701.80 294.04,702.38 294.16,702.38 294.28,702.43 294.40,701.81 294.52,702.20 294.64,701.64 294.76,701.64 294.88,701.55 295.00,703.01 295.12,701.26 295.24,702.69 295.36,701.76 295.48,701.79 295.60,702.54 295.72,701.78 295.84,701.72 295.96,701.75 296.08,701.24 296.20,701.46 296.32,701.88 296.44,700.38 296.56,700.47 296.68,699.98 296.80,699.62 296.92,700.41 297.04,699.64 297.16,699.81 297.28,699.16 297.40,698.02 297.52,697.85 297.64,698.31 297.76,697.89 297.80,697.66 297.88,697.87 298.00,697.79 298.12,698.86 298.24,698.50 298.36,698.35 298.48,698.83 298.60,699.58 298.72,700.50 298.84,700.90 298.96,700.86 299.08,700.71 299.20,700.16 299.32,699.81 299.44,701.29 299.56,701.53 299.68,701.63 299.80,701.73 299.92,702.05 300.04,701.79 300.16,701.03 300.28,702.02 300.40,701.97 300.52,701.45 300.64,701.86 300.76,702.92 300.88,702.30 301.00,702.33 301.12,701.83 301.24,701.83 301.36,702.82 301.48,702.89 301.60,702.37 301.72,702.40 301.84,702.32 301.96,701.95 302.08,701.43 302.20,702.05 302.32,701.97 302.44,702.41 302.56,702.09 302.68,701.35 302.80,701.51 302.92,702.98 303.04,702.19 303.16,702.95 303.28,701.50 303.40,701.79 303.52,702.37 303.64,701.92 303.76,702.02 303.88,702.36 304.00,702.41 304.12,702.11 304.24,701.81 304.36,702.27 304.48,702.02 304.60,702.75 304.72,702.92 304.84,702.00 304.96,702.45 305.08,702.15 305.20,702.45 305.32,701.25 305.44,702.32 305.56,701.40 305.68,702.15 305.80,701.26 305.92,701.32 306.04,700.79 306.16,701.53 306.28,701.21 306.40,700.97 306.52,701.01 306.64,699.84 306.76,698.99 306.88,698.63 307.00,697.78 307.12,696.72 307.24,696.76 307.36,696.04 307.48,696.66 307.60,697.69 307.72,698.74 307.84,699.87 307.96,700.65 308.08,701.09 308.20,702.32 308.32,701.42 308.44,700.54 308.56,700.83 308.68,699.76 308.80,699.41 308.92,699.85 309.04,701.29 309.16,700.95 309.28,702.06 309.40,702.54 309.52,702.16 309.64,702.90 309.76,702.88 309.88,702.04 310.00,702.27 310.12,701.95 310.24,702.95 310.36,701.47 310.48,702.70 310.60,703.02 310.72,702.97 310.84,702.35 310.96,702.88 311.08,703.01 311.20,701.90 311.32,702.20 311.44,701.54 311.56,701.73 311.68,702.05 311.80,702.62 311.92,702.25 312.04,702.81 312.16,702.08 312.28,703.05 312.40,703.05 312.52,701.88 312.64,702.48 312.76,702.78 312.88,702.75 313.00,702.42 313.12,701.32 313.24,702.26 313.36,702.77 313.48,701.92 313.60,701.84 313.72,702.56 313.84,702.04 313.96,703.06 314.08,702.67 314.20,702.29 314.32,702.42 314.44,702.07 314.56,702.93 314.68,702.53 314.80,702.65 314.92,702.23 315.04,701.34 315.16,701.29 315.28,702.13 315.40,701.35 315.52,702.97 315.64,702.07 315.76,702.21 315.88,701.61 316.00,702.54 316.12,702.19 316.24,701.57 316.36,702.04 316.48,701.41 316.60,702.72 316.72,701.98 316.84,702.45 316.96,701.92 317.08,701.84 317.20,701.33 317.32,702.49 317.44,702.28 317.56,701.79 317.68,703.08 317.80,702.32 317.92,702.70 318.04,701.69 318.16,701.55 318.28,702.61 318.40,701.85 318.52,701.71 318.64,703.08 318.76,702.25 318.88,702.06 319.00,701.38 319.12,702.42 319.24,702.21 319.36,701.39 319.48,702.16 319.60,701.98 319.72,701.97 319.84,701.46 319.96,700.72 320.08,701.39 320.20,700.37 320.32,701.80 320.44,701.69 320.56,701.20 320.68,702.08 320.80,701.69 320.92,700.09 321.04,700.47 321.16,699.87 321.28,699.85 321.40,701.39 321.52,701.78 321.64,701.51 321.76,701.89 321.88,701.97 322.00,702.18 322.12,702.18 322.24,701.94 322.36,701.83 322.48,701.32 322.60,701.70 322.72,701.68 322.84,702.35 322.96,702.73 323.08,702.68 323.20,702.11 323.32,702.25 323.44,701.00 323.56,700.75 323.68,701.51 323.80,700.17 323.92,699.54 324.04,698.85 324.16,699.17 324.28,698.70 324.40,699.70 324.52,700.29 324.64,700.88 324.76,701.14 324.88,701.34 325.00,701.38 325.12,702.74 325.24,701.42 325.36,701.71 325.48,701.94 325.60,701.31 325.72,702.71 325.84,702.09 325.96,701.91 326.08,701.89 326.20,702.28" fill="none" stroke="#0000ff" stroke-width="0.9" stroke-linejoin="round"/>
<line x1="28.0" y1="393.8" x2="28.0" y2="710.8" stroke="#7a7a7a" stroke-width="1.2"/>
<line x1="27.4" y1="710.8" x2="326.3" y2="710.8" stroke="#7a7a7a" stroke-width="1.5"/>
<path d="M25.80 702.30H28.00M25.80 672.70H28.00M25.80 643.10H28.00M25.80 613.50H28.00M25.80 583.90H28.00M25.80 554.30H28.00M25.80 524.70H28.00M25.80 495.10H28.00M25.80 465.50H28.00M25.80 435.90H28.00M25.80 406.30H28.00" stroke="#000" stroke-width="1"/>
<path d="M31.02 710.80V713.80M36.60 710.80V713.80M42.17 710.80V713.80M47.74 710.80V713.80M53.32 710.80V713.80M58.89 710.80V713.80M64.47 710.80V713.80M70.04 710.80V713.80M75.61 710.80V713.80M81.19 710.80V713.80M86.76 710.80V713.80M92.34 710.80V713.80M97.91 710.80V713.80M103.48 710.80V713.80M109.06 710.80V713.80M114.63 710.80V713.80M120.21 710.80V713.80M125.78 710.80V713.80M131.35 710.80V713.80M136.93 710.80V713.80M142.50 710.80V713.80M148.07 710.80V713.80M153.65 710.80V713.80M159.22 710.80V713.80M164.80 710.80V713.80M170.37 710.80V713.80M175.94 710.80V713.80M181.52 710.80V713.80M187.09 710.80V713.80M192.67 710.80V713.80M198.24 710.80V713.80M203.81 710.80V713.80M209.39 710.80V713.80M214.96 710.80V713.80M220.54 710.80V713.80M226.11 710.80V713.80M231.69 710.80V713.80M237.26 710.80V713.80M242.83 710.80V713.80M248.41 710.80V713.80M253.98 710.80V713.80M259.56 710.80V713.80M265.13 710.80V713.80M270.70 710.80V713.80M276.28 710.80V713.80M281.85 710.80V713.80M287.43 710.80V713.80M293.00 710.80V713.80M298.57 710.80V713.80M304.15 710.80V713.80M309.72 710.80V713.80M315.29 710.80V713.80M320.87 710.80V713.80" stroke="#000" stroke-width="1"/>
<text x="24.60" y="706.60" text-anchor="end" font-size="12">0</text>
<text x="24.60" y="588.30" text-anchor="end" font-size="12">0.4</text>
<text x="24.60" y="469.90" text-anchor="end" font-size="12">0.8</text>
<text x="1.70" y="403.40" font-size="12">x10<tspan font-size="7.9" dy="-4.1" fill="#555">5</tspan></text>
<text x="78.10" y="724.30" text-anchor="middle" font-size="12">2500</text>
<text x="148.40" y="724.30" text-anchor="middle" font-size="12">5000</text>
<text x="217.50" y="724.30" text-anchor="middle" font-size="12">7500</text>
<text x="287.20" y="724.30" text-anchor="middle" font-size="12">10000</text>
<text x="166.40" y="738.00" text-anchor="middle" font-size="12" font-style="italic">m/z</text>
<text transform="translate(9.95,529.40) rotate(-90)" text-anchor="middle" font-size="12">Intensity [a.u.]</text>
<text transform="translate(43.25,502.80) rotate(-90)" font-size="12">1058.6</text>
<text transform="translate(72.05,670.70) rotate(-90)" font-size="12">2091.7</text>
<text transform="translate(100.45,676.40) rotate(-90)" font-size="12">3111.2</text>
<text transform="translate(117.30,558.80) rotate(-90)" font-size="12">3726.2</text>
<text transform="translate(140.15,475.40) rotate(-90)" font-size="12">4569.5</text>
<text transform="translate(152.50,503.00) rotate(-90)" font-size="12">5030.7</text>
<text transform="translate(169.30,645.10) rotate(-90)" font-size="12">5571.9</text>
<text transform="translate(204.85,578.00) rotate(-90)" font-size="12">6939.7</text>
<text transform="translate(219.75,675.50) rotate(-90)" font-size="12">7425.9</text>
<text transform="translate(273.25,453.60) rotate(-90)" font-size="12">9139.4</text>
<text transform="translate(302.85,697.70) rotate(-90)" font-size="12">10438.5</text>
<text x="326.5" y="13.4" font-size="16.6" font-weight="bold">C</text>
<polyline points="366.50,333.63 366.62,332.61 366.74,331.36 366.86,331.55 366.98,330.90 367.10,331.96 367.22,331.80 367.34,332.13 367.46,332.80 367.58,331.66 367.70,331.53 367.82,329.72 367.94,329.88 368.06,328.41 368.18,328.54 368.30,329.07 368.42,330.30 368.54,329.33 368.66,327.69 368.78,327.43 368.90,328.95 369.02,330.01 369.14,331.32 369.26,330.25 369.38,330.26 369.50,329.56 369.62,328.04 369.74,326.74 369.86,325.73 369.98,324.68 370.10,323.50 370.22,322.39 370.34,316.33 370.46,309.19 370.58,301.97 370.70,295.25 370.82,290.08 370.94,287.27 371.00,286.89 371.06,287.27 371.18,290.05 371.20,290.76 371.30,295.18 371.42,301.89 371.54,309.27 371.66,316.05 371.78,319.77 371.90,320.68 372.02,321.74 372.14,322.51 372.26,323.28 372.38,324.18 372.50,325.63 372.62,327.04 372.74,328.16 372.86,328.96 372.98,329.35 373.10,330.09 373.22,330.87 373.34,329.65 373.46,326.45 373.58,322.68 373.70,320.58 373.80,319.69 373.82,320.00 373.94,321.17 374.06,324.27 374.18,327.35 374.30,331.16 374.42,334.47 374.54,333.17 374.66,335.19 374.78,334.72 374.90,335.78 375.02,334.51 375.14,335.17 375.26,335.81 375.38,335.83 375.50,336.11 375.62,336.87 375.74,334.86 375.86,335.05 375.98,333.72 376.10,334.45 376.22,335.10 376.34,334.74 376.46,334.04 376.58,334.63 376.70,334.32 376.82,333.80 376.94,334.04 377.06,334.32 377.18,333.14 377.30,332.61 377.42,332.06 377.54,333.02 377.66,333.11 377.78,334.76 377.90,335.00 378.02,335.45 378.14,334.74 378.26,333.64 378.38,333.52 378.50,331.12 378.62,327.78 378.74,324.57 378.86,321.43 378.98,319.92 379.00,319.86 379.10,320.74 379.22,322.79 379.34,326.49 379.46,330.61 379.58,332.07 379.70,332.66 379.82,333.90 379.94,331.88 380.06,328.97 380.18,324.98 380.30,321.53 380.42,319.34 380.50,318.74 380.54,318.52 380.66,320.25 380.78,323.90 380.90,328.15 381.02,331.30 381.14,334.40 381.26,333.50 381.38,333.63 381.50,335.34 381.62,335.37 381.74,334.63 381.86,334.66 381.98,333.90 382.10,334.18 382.22,334.25 382.34,331.22 382.46,327.56 382.58,324.01 382.70,323.71 382.82,326.19 382.94,328.88 383.06,332.62 383.18,333.09 383.30,333.48 383.42,333.58 383.54,335.12 383.66,334.27 383.78,335.14 383.90,334.50 384.02,334.60 384.14,335.40 384.26,333.04 384.38,332.56 384.50,329.85 384.62,326.94 384.74,326.46 384.80,325.62 384.86,326.18 384.98,327.08 385.10,329.05 385.22,331.89 385.34,334.66 385.46,334.29 385.58,333.67 385.70,332.35 385.82,331.09 385.94,328.82 386.06,329.10 386.18,329.53 386.30,331.11 386.42,333.65 386.54,334.26 386.66,335.46 386.78,334.45 386.90,335.07 387.02,335.22 387.14,332.96 387.26,333.11 387.38,334.63 387.50,336.27 387.62,335.37 387.74,336.01 387.86,334.42 387.98,335.60 388.10,333.79 388.22,334.72 388.34,333.68 388.46,332.58 388.58,328.22 388.70,325.02 388.82,322.28 388.94,320.22 389.00,319.79 389.06,319.98 389.18,322.30 389.30,324.91 389.42,328.42 389.54,331.29 389.66,332.11 389.78,332.52 389.90,331.46 390.02,332.98 390.14,332.33 390.26,328.57 390.38,327.14 390.50,327.54 390.62,329.16 390.74,333.38 390.86,332.44 390.98,333.09 391.10,334.91 391.22,335.03 391.34,335.00 391.46,334.10 391.58,331.17 391.70,329.43 391.82,327.95 391.94,325.97 392.00,325.68 392.06,326.56 392.18,326.94 392.30,329.37 392.42,332.64 392.54,334.61 392.66,334.38 392.78,334.39 392.90,335.39 393.02,335.97 393.14,336.40 393.26,335.15 393.38,335.82 393.50,336.02 393.62,335.65 393.74,336.36 393.86,335.86 393.98,335.41 394.10,336.02 394.22,334.81 394.34,335.30 394.46,335.51 394.58,334.43 394.70,333.24 394.82,331.12 394.94,329.57 395.06,326.73 395.18,324.48 395.30,323.11 395.30,323.30 395.42,324.68 395.54,326.46 395.66,329.10 395.78,332.73 395.90,334.82 396.02,333.87 396.14,334.79 396.26,334.74 396.38,334.56 396.50,334.43 396.62,333.88 396.74,332.39 396.86,332.61 396.98,332.22 397.10,332.78 397.22,332.43 397.34,332.09 397.46,328.21 397.58,324.79 397.70,321.05 397.82,317.46 397.94,314.48 398.06,312.05 398.18,310.95 398.20,311.02 398.30,311.57 398.42,313.37 398.54,316.22 398.66,320.22 398.78,323.97 398.90,326.98 399.02,326.93 399.14,325.61 399.26,324.77 399.38,323.78 399.50,322.40 399.62,320.98 399.74,320.08 399.86,305.64 399.98,275.72 400.10,230.68 400.22,173.20 400.34,112.76 400.46,64.15 400.58,41.88 400.60,41.40 400.70,53.24 400.82,94.45 400.94,152.72 401.00,183.32 401.06,212.57 401.18,241.02 401.30,253.79 401.42,269.84 401.54,286.56 401.66,301.81 401.78,304.04 401.90,293.56 402.02,283.76 402.14,276.29 402.26,272.56 402.30,272.30 402.38,273.32 402.50,278.42 402.62,286.83 402.74,297.03 402.86,307.31 402.98,294.51 403.10,263.15 403.22,223.17 403.34,181.13 403.46,147.33 403.58,131.84 403.60,131.50 403.70,139.73 403.82,168.40 403.94,208.93 404.00,230.21 404.06,250.56 404.18,285.20 404.30,293.62 404.42,295.21 404.54,297.18 404.66,299.52 404.78,302.12 404.90,304.88 405.02,307.82 405.14,310.88 405.26,313.78 405.38,316.91 405.50,318.47 405.62,302.97 405.74,280.16 405.86,252.72 405.98,226.02 406.10,207.13 406.20,201.70 406.22,201.92 406.34,212.13 406.46,234.41 406.58,262.11 406.70,288.44 406.82,309.00 406.94,319.04 407.06,320.19 407.18,321.11 407.30,322.48 407.42,323.17 407.54,318.99 407.66,313.93 407.78,309.79 407.90,307.06 408.00,306.41 408.02,306.45 408.14,307.85 408.26,311.22 408.38,315.50 408.50,320.48 408.62,325.05 408.74,329.34 408.86,331.89 408.98,331.15 409.10,332.60 409.22,331.96 409.34,331.98 409.46,332.36 409.58,333.59 409.70,332.49 409.82,333.50 409.94,332.55 410.06,332.19 410.18,331.08 410.30,329.69 410.42,328.76 410.54,328.65 410.66,326.98 410.78,326.09 410.90,324.82 411.02,323.23 411.14,322.19 411.26,320.63 411.38,319.41 411.50,312.38 411.62,290.42 411.74,259.28 411.86,221.84 411.98,185.39 412.10,159.60 412.20,152.20 412.22,152.50 412.34,166.43 412.46,196.84 412.58,234.64 412.70,270.60 412.82,298.79 412.94,313.95 413.06,306.05 413.18,298.22 413.30,291.71 413.42,287.78 413.50,286.98 413.54,287.19 413.66,290.08 413.78,295.86 413.90,303.47 414.02,311.45 414.14,318.96 414.26,325.59 414.38,327.21 414.50,328.19 414.62,328.13 414.74,328.43 414.86,330.07 414.98,330.27 415.10,330.48 415.22,331.50 415.34,332.25 415.46,332.14 415.58,332.39 415.70,332.02 415.82,334.19 415.94,334.30 416.06,333.22 416.18,333.61 416.30,333.10 416.42,334.45 416.54,333.40 416.66,333.38 416.78,335.32 416.90,334.54 417.02,334.61 417.14,334.37 417.26,334.15 417.38,334.29 417.50,333.60 417.62,334.24 417.74,334.53 417.86,332.26 417.98,331.26 418.10,331.69 418.22,330.98 418.34,330.99 418.46,329.91 418.58,331.10 418.70,331.04 418.82,331.62 418.94,332.81 419.06,334.59 419.18,335.39 419.30,336.19 419.42,333.29 419.54,330.94 419.66,327.59 419.78,325.54 419.90,325.90 420.02,326.90 420.14,330.89 420.26,333.08 420.38,331.51 420.50,331.03 420.62,330.78 420.74,329.62 420.86,328.86 420.98,327.93 421.10,326.32 421.22,326.23 421.34,325.30 421.46,324.17 421.58,323.18 421.70,322.74 421.82,319.26 421.94,308.49 422.06,295.43 422.18,281.61 422.30,269.62 422.42,262.12 422.50,260.60 422.54,260.98 422.66,266.50 422.78,277.26 422.90,290.78 423.02,304.41 423.14,316.07 423.26,322.54 423.38,323.18 423.50,323.65 423.62,324.84 423.74,325.98 423.86,326.85 423.98,327.60 424.10,328.20 424.22,328.71 424.34,329.55 424.46,330.14 424.58,331.10 424.70,331.23 424.82,332.62 424.94,333.82 425.06,333.51 425.18,335.04 425.30,334.88 425.42,335.77 425.54,336.60 425.66,334.89 425.78,335.11 425.90,334.12 426.02,333.69 426.14,334.64 426.26,333.19 426.38,334.57 426.50,335.62 426.62,335.05 426.74,336.15 426.86,335.32 426.98,337.19 427.10,337.54 427.22,337.27 427.34,338.24 427.46,337.37 427.58,337.52 427.70,336.03 427.82,338.10 427.94,336.84 428.06,337.69 428.18,337.10 428.30,336.16 428.42,336.88 428.54,337.92 428.66,337.14 428.78,335.76 428.90,336.81 429.02,337.76 429.14,335.65 429.26,335.67 429.38,337.84 429.50,337.35 429.62,337.81 429.74,336.67 429.86,337.24 429.98,336.13 430.10,335.98 430.22,336.98 430.34,337.28 430.46,335.86 430.58,333.93 430.70,333.26 430.82,334.44 430.94,333.82 431.06,334.05 431.18,333.78 431.30,334.60 431.42,333.42 431.54,332.67 431.66,332.86 431.78,332.18 431.90,333.17 432.02,331.72 432.14,331.06 432.26,329.81 432.38,329.45 432.50,329.46 432.62,328.76 432.74,327.56 432.86,326.69 432.98,326.73 433.10,325.45 433.22,324.83 433.34,320.53 433.46,311.37 433.58,300.17 433.70,288.61 433.82,279.02 433.94,273.52 434.00,272.80 434.06,273.52 434.18,279.01 434.30,288.60 434.42,300.11 434.54,311.45 434.66,320.58 434.78,325.05 434.90,325.49 435.02,326.66 435.14,326.63 435.26,327.44 435.38,328.59 435.50,328.78 435.62,330.08 435.74,331.16 435.86,330.92 435.98,331.84 436.10,331.57 436.22,333.52 436.34,333.27 436.46,334.21 436.58,333.84 436.70,335.21 436.82,335.21 436.94,335.85 437.06,334.97 437.18,333.76 437.30,332.99 437.42,333.62 437.54,334.86 437.66,336.24 437.78,336.69 437.90,335.90 438.02,334.98 438.14,334.22 438.26,334.99 438.38,335.13 438.50,336.42 438.62,335.87 438.74,336.17 438.86,334.86 438.98,334.88 439.10,335.53 439.22,334.48 439.34,334.20 439.46,335.43 439.58,331.91 439.70,331.52 439.82,329.60 439.94,327.53 440.00,328.45 440.06,328.40 440.18,328.54 440.30,328.66 440.42,329.05 440.54,328.53 440.66,329.83 440.78,330.80 440.90,333.39 441.02,333.24 441.14,334.17 441.26,334.62 441.38,335.65 441.50,333.88 441.62,335.37 441.74,333.71 441.86,335.13 441.98,334.15 442.10,333.68 442.22,333.55 442.34,334.70 442.46,334.68 442.58,335.70 442.70,337.34 442.82,336.69 442.94,335.28 443.06,336.00 443.18,336.97 443.30,336.37 443.42,335.93 443.54,336.05 443.66,336.60 443.78,337.10 443.90,336.54 444.02,335.81 444.14,335.51 444.26,335.86 444.38,337.33 444.50,335.31 444.62,335.03 444.74,334.85 444.86,335.78 444.98,334.57 445.10,334.73 445.22,334.21 445.34,333.96 445.46,333.53 445.58,333.98 445.70,332.81 445.82,332.58 445.94,333.95 446.06,333.23 446.18,333.51 446.30,333.75 446.42,335.76 446.54,334.97 446.66,334.87 446.78,333.84 446.90,335.65 447.02,334.28 447.14,336.05 447.26,336.74 447.38,336.22 447.50,335.83 447.62,338.01 447.74,335.75 447.86,336.25 447.98,337.03 448.10,336.98 448.22,335.79 448.34,335.87 448.46,336.07 448.58,337.29 448.70,337.15 448.82,334.89 448.94,336.42 449.06,335.17 449.18,334.40 449.30,334.33 449.42,333.16 449.54,334.14 449.66,333.88 449.78,332.97 449.90,332.50 450.02,333.47 450.14,333.51 450.26,331.66 450.38,332.71 450.50,331.62 450.62,330.73 450.74,331.17 450.86,330.78 450.98,329.82 451.10,329.79 451.22,328.98 451.34,329.17 451.46,326.44 451.58,321.90 451.70,316.44 451.82,310.18 451.94,304.06 452.06,298.93 452.18,295.44 452.30,294.21 452.30,294.21 452.42,295.39 452.54,298.84 452.66,303.99 452.78,310.17 452.90,316.53 453.02,321.79 453.14,327.29 453.26,329.47 453.38,328.90 453.50,329.73 453.62,329.64 453.74,330.75 453.86,329.84 453.98,329.33 454.10,328.98 454.22,328.04 454.34,328.04 454.46,327.21 454.58,326.01 454.70,325.96 454.82,325.25 454.94,325.13 455.06,324.58 455.18,323.29 455.30,323.39 455.42,322.07 455.54,315.25 455.66,306.94 455.78,297.70 455.90,287.81 456.02,278.38 456.14,270.41 456.26,264.88 456.38,262.55 456.40,262.50 456.50,263.72 456.62,243.53 456.74,226.71 456.86,218.10 456.90,217.50 456.98,219.87 457.10,231.57 457.22,250.30 457.34,271.86 457.46,292.30 457.58,308.93 457.70,318.19 457.82,319.06 457.94,320.04 458.06,321.09 458.18,322.48 458.30,323.38 458.42,325.11 458.54,325.89 458.66,327.31 458.78,328.16 458.90,329.39 459.02,330.44 459.14,330.53 459.26,331.04 459.38,331.26 459.50,333.24 459.62,332.41 459.74,334.20 459.86,334.13 459.98,334.68 460.10,333.44 460.22,335.57 460.34,334.09 460.46,335.93 460.58,334.44 460.70,336.73 460.82,334.87 460.94,335.27 461.06,336.11 461.18,335.58 461.30,335.47 461.42,335.81 461.54,334.87 461.66,335.96 461.78,336.34 461.90,335.94 462.02,336.35 462.14,335.64 462.26,335.49 462.38,334.87 462.50,334.28 462.62,332.23 462.74,331.76 462.86,329.98 462.98,329.85 463.10,330.18 463.22,329.95 463.34,332.14 463.46,333.45 463.58,333.31 463.70,335.47 463.82,335.74 463.94,335.72 464.06,335.70 464.18,335.21 464.30,336.65 464.42,335.96 464.54,335.32 464.66,333.76 464.78,334.55 464.90,333.41 465.02,333.81 465.14,331.97 465.26,332.29 465.38,330.62 465.50,331.08 465.62,330.81 465.74,332.04 465.86,334.41 465.98,335.55 466.10,335.51 466.22,334.96 466.34,335.53 466.46,336.27 466.58,336.32 466.70,336.53 466.82,336.03 466.94,336.31 467.06,337.66 467.18,336.17 467.30,335.71 467.42,332.82 467.54,329.83 467.66,326.16 467.78,325.17 467.90,326.52 468.02,329.27 468.14,333.52 468.26,334.58 468.38,335.16 468.50,335.24 468.62,334.04 468.74,334.92 468.86,334.28 468.98,334.99 469.10,334.40 469.22,334.65 469.34,337.10 469.46,336.30 469.58,335.97 469.70,335.32 469.82,333.49 469.94,334.79 470.06,334.49 470.18,332.89 470.30,334.25 470.42,333.76 470.54,334.08 470.66,334.10 470.78,332.56 470.90,332.08 471.02,332.17 471.14,334.25 471.26,335.26 471.38,335.78 471.50,333.98 471.62,335.03 471.74,334.62 471.86,334.02 471.98,332.22 472.10,328.37 472.22,325.68 472.34,322.43 472.46,321.13 472.50,321.11 472.58,321.23 472.70,323.83 472.82,326.14 472.94,330.43 473.06,333.56 473.18,334.78 473.30,334.22 473.42,335.10 473.54,334.27 473.66,334.50 473.78,333.65 473.90,332.48 474.02,333.36 474.14,332.75 474.26,334.04 474.38,333.72 474.50,334.27 474.62,333.95 474.74,331.98 474.86,332.52 474.98,332.48 475.10,333.57 475.22,334.10 475.34,333.09 475.46,333.34 475.58,333.64 475.70,332.85 475.82,331.85 475.94,331.95 476.06,330.92 476.18,330.75 476.30,330.83 476.42,330.08 476.54,330.33 476.66,326.68 476.78,321.78 476.90,315.27 477.02,308.80 477.14,303.64 477.26,300.99 477.30,300.85 477.38,301.47 477.50,305.00 477.62,310.73 477.74,317.57 477.86,323.53 477.98,328.72 478.10,330.01 478.22,330.78 478.34,331.47 478.46,331.54 478.58,331.07 478.70,331.99 478.82,332.46 478.94,332.34 479.06,332.56 479.18,334.21 479.30,333.20 479.42,334.08 479.54,335.08 479.66,335.77 479.78,334.88 479.90,333.79 480.02,334.68 480.14,333.40 480.26,332.98 480.38,332.57 480.50,332.74 480.62,332.08 480.74,331.45 480.86,332.07 480.98,330.85 481.10,331.48 481.22,332.16 481.34,332.65 481.46,332.72 481.58,334.66 481.70,333.50 481.82,331.72 481.94,330.70 482.06,330.17 482.18,329.49 482.30,330.84 482.42,331.55 482.54,331.63 482.66,330.69 482.78,330.68 482.90,330.31 483.02,329.48 483.14,329.23 483.26,329.32 483.38,329.05 483.50,324.77 483.62,318.55 483.74,311.73 483.86,304.97 483.98,299.10 484.10,295.25 484.20,294.20 484.22,294.27 484.34,296.22 484.46,300.85 484.58,307.04 484.70,313.89 484.82,320.43 484.94,326.10 485.06,328.21 485.18,327.51 485.30,326.91 485.42,324.51 485.54,317.83 485.66,308.78 485.78,299.33 485.90,291.14 486.02,286.04 486.10,285.00 486.14,285.27 486.26,289.01 486.38,296.38 486.50,305.50 486.62,314.77 486.74,322.91 486.86,327.31 486.98,327.99 487.10,328.48 487.22,328.57 487.34,329.19 487.46,329.24 487.58,328.83 487.70,325.46 487.82,320.17 487.94,315.89 488.06,311.64 488.18,308.70 488.30,307.53 488.30,307.68 488.42,308.75 488.54,311.47 488.66,315.55 488.78,320.23 488.90,324.82 489.02,328.66 489.14,330.83 489.26,331.28 489.38,331.77 489.50,332.69 489.62,333.41 489.74,331.94 489.86,333.43 489.98,331.27 490.10,328.10 490.22,323.90 490.34,320.07 490.46,316.68 490.58,314.44 490.70,313.61 490.70,313.61 490.82,314.49 490.94,316.61 491.06,319.91 491.18,323.85 491.30,327.00 491.42,331.19 491.54,333.07 491.66,332.42 491.78,333.57 491.90,334.17 492.02,334.05 492.14,333.32 492.26,334.17 492.38,334.63 492.50,335.13 492.62,334.44 492.74,334.31 492.86,334.45 492.98,333.67 493.10,335.51 493.22,335.18 493.34,334.75 493.46,334.68 493.58,335.41 493.70,332.12 493.82,331.65 493.94,328.52 494.06,326.53 494.18,324.55 494.30,323.20 494.40,322.90 494.42,323.07 494.54,323.51 494.66,324.92 494.78,326.70 494.90,329.31 495.02,331.74 495.14,332.14 495.26,331.09 495.38,332.14 495.50,331.33 495.62,332.69 495.74,334.56 495.86,335.51 495.98,335.63 496.10,335.52 496.22,335.11 496.34,334.63 496.46,333.20 496.58,334.23 496.70,334.76 496.82,335.78 496.94,335.08 497.06,336.19 497.18,335.89 497.30,337.11 497.42,337.18 497.54,335.88 497.66,336.06 497.78,337.90 497.90,337.14 498.02,336.11 498.14,336.62 498.26,336.84 498.38,337.58 498.50,337.91 498.62,337.89 498.74,336.14 498.86,336.02 498.98,337.47 499.10,337.56 499.22,335.96 499.34,336.94 499.46,337.53 499.58,337.20 499.70,337.29 499.82,336.39 499.94,336.10 500.06,335.44 500.18,335.68 500.30,334.82 500.42,335.48 500.54,334.69 500.66,335.52 500.78,334.15 500.90,334.75 501.02,334.65 501.14,334.28 501.26,333.84 501.38,333.92 501.50,332.50 501.62,332.69 501.74,333.27 501.86,332.43 501.98,331.99 502.10,331.66 502.22,330.68 502.34,327.36 502.46,324.10 502.58,319.72 502.70,316.52 502.82,314.11 502.90,313.70 502.94,313.89 503.06,315.39 503.18,318.48 503.30,322.89 503.42,326.94 503.54,330.14 503.66,332.18 503.78,331.66 503.90,331.73 504.02,332.23 504.14,332.79 504.26,333.41 504.38,333.23 504.50,333.35 504.62,333.16 504.74,333.52 504.86,334.13 504.98,334.11 505.10,334.33 505.22,334.52 505.34,333.86 505.46,334.80 505.58,334.06 505.70,334.60 505.82,333.45 505.94,332.14 506.06,330.80 506.18,328.19 506.30,326.60 506.42,325.13 506.54,323.93 506.60,323.92 506.66,324.02 506.78,324.67 506.90,326.27 507.02,328.11 507.14,330.59 507.26,332.64 507.38,332.78 507.50,334.11 507.62,334.24 507.74,333.77 507.86,334.71 507.98,334.18 508.10,333.80 508.22,333.88 508.34,334.98 508.46,335.57 508.58,335.03 508.70,335.80 508.82,334.69 508.94,334.78 509.06,335.82 509.18,334.46 509.30,334.45 509.42,333.85 509.54,333.34 509.66,333.81 509.78,334.07 509.90,335.05 510.02,335.48 510.14,335.25 510.26,334.55 510.38,334.88 510.50,334.19 510.62,335.14 510.74,334.60 510.86,333.75 510.98,334.62 511.10,334.45 511.22,334.34 511.34,332.95 511.46,330.65 511.58,328.48 511.70,326.77 511.82,325.32 511.94,324.66 512.00,324.97 512.06,324.55 512.18,325.64 512.30,327.22 512.42,328.53 512.54,330.79 512.66,332.53 512.78,333.74 512.90,333.34 513.02,334.32 513.14,333.64 513.26,333.64 513.38,335.03 513.50,335.12 513.62,335.35 513.74,334.16 513.86,334.60 513.98,334.52 514.10,334.85 514.22,334.62 514.34,335.39 514.46,335.93 514.58,336.28 514.70,336.10 514.82,335.62 514.94,335.21 515.06,334.79 515.18,334.89 515.30,334.70 515.42,334.14 515.54,334.68 515.66,334.24 515.78,334.46 515.90,336.06 516.02,335.30 516.14,336.67 516.26,336.92 516.38,335.61 516.50,335.76 516.62,336.29 516.74,335.81 516.86,335.39 516.98,336.25 517.10,335.54 517.22,336.29 517.34,335.64 517.46,336.46 517.58,336.76 517.70,335.54 517.82,336.98 517.94,336.56 518.06,336.50 518.18,336.48 518.30,335.80 518.42,335.43 518.54,336.53 518.66,336.00 518.78,336.90 518.90,335.72 519.02,336.65 519.14,336.63 519.26,336.61 519.38,336.42 519.50,335.80 519.62,337.03 519.74,335.85 519.86,335.83 519.98,336.85 520.10,336.98 520.22,336.11 520.34,335.36 520.46,336.33 520.58,336.89 520.70,337.02 520.82,335.79 520.94,336.78 521.06,336.68 521.18,336.86 521.30,336.80 521.42,336.46 521.54,336.06 521.66,335.87 521.78,336.18 521.90,335.19 522.02,335.46 522.14,334.40 522.26,334.60 522.38,334.20 522.50,334.45 522.62,334.73 522.74,334.96 522.86,335.36 522.98,335.46 523.10,336.82 523.22,336.26 523.34,335.39 523.46,335.63 523.58,336.78 523.70,336.44 523.82,335.86 523.94,335.34 524.06,335.98 524.18,335.90 524.30,335.83 524.42,337.05 524.54,336.80 524.66,336.71 524.78,336.37 524.90,336.84 525.02,336.90 525.14,336.36 525.26,336.05 525.38,335.80 525.50,336.25 525.62,335.62 525.74,335.55 525.86,336.59 525.98,335.32 526.10,335.59 526.22,336.66 526.34,336.34 526.46,336.21 526.58,335.33 526.70,335.39 526.82,335.40 526.94,335.60 527.06,335.62 527.18,335.49 527.30,335.46 527.42,336.98 527.54,337.02 527.66,336.47 527.78,336.54 527.90,335.75 528.02,335.91 528.14,335.70 528.26,336.10 528.38,335.18 528.50,335.03 528.62,334.50 528.74,334.96 528.86,334.98 528.98,333.99 529.10,332.68 529.22,332.17 529.34,331.97 529.46,331.18 529.58,330.29 529.70,329.26 529.82,328.85 529.94,328.55 530.06,328.61 530.18,328.62 530.20,328.68 530.30,328.75 530.42,328.42 530.54,329.41 530.66,329.28 530.78,329.96 530.90,330.60 531.02,331.33 531.14,332.16 531.26,333.23 531.38,333.11 531.50,333.70 531.62,334.77 531.74,334.88 531.86,336.11 531.98,334.78 532.10,335.04 532.22,335.87 532.34,335.36 532.46,336.48 532.58,336.06 532.70,336.19 532.82,336.38 532.94,336.52 533.06,336.16 533.18,335.80 533.30,336.53 533.42,335.54 533.54,335.90 533.66,336.41 533.78,335.99 533.90,336.60 534.02,336.68 534.14,336.67 534.26,336.40 534.38,335.90 534.50,336.12 534.62,336.55 534.74,336.95 534.86,336.85 534.98,336.51 535.10,336.62 535.22,335.38 535.34,336.02 535.46,336.93 535.58,336.36 535.70,336.13 535.82,336.21 535.94,335.16 536.06,334.73 536.18,336.00 536.30,335.80 536.42,335.92 536.54,335.46 536.66,335.69 536.78,336.68 536.90,337.02 537.02,335.38 537.14,336.33 537.26,335.71 537.38,336.21 537.50,335.32 537.62,336.24 537.74,334.94 537.86,334.96 537.98,334.18 538.10,334.22 538.22,333.99 538.34,333.46 538.46,333.20 538.58,333.52 538.70,334.35 538.82,335.57 538.94,335.58 539.06,335.75 539.18,335.18 539.30,335.77 539.42,336.22 539.54,336.56 539.66,336.64 539.78,335.98 539.90,336.60 540.02,335.38 540.14,336.13 540.26,336.51 540.38,336.84 540.50,337.03 540.62,336.61 540.74,336.59 540.86,336.12 540.98,336.16 541.10,335.91 541.22,336.98 541.34,335.97 541.46,335.77 541.58,336.79 541.70,336.22 541.82,336.11 541.94,336.98 542.06,335.45 542.18,335.49 542.30,336.32 542.42,335.39 542.54,336.92 542.66,337.05 542.78,335.83 542.90,336.89 543.02,336.15 543.14,336.32 543.26,336.09 543.38,336.94 543.50,335.91 543.62,336.99 543.74,335.93 543.86,335.78 543.98,337.12 544.10,335.49 544.22,335.58 544.34,336.42 544.46,337.02 544.58,336.87 544.70,336.61 544.82,335.36 544.94,335.44 545.06,336.76 545.18,336.76 545.30,337.09 545.42,335.97 545.54,336.32 545.66,335.82 545.78,335.50 545.90,336.57 546.02,336.58 546.14,335.45 546.26,336.36 546.38,336.86 546.50,336.70 546.62,335.87 546.74,335.32 546.86,335.68 546.98,335.42 547.10,335.66 547.22,335.57 547.34,335.25 547.46,334.42 547.58,334.54 547.70,334.36 547.82,335.55 547.94,335.77 548.06,336.35 548.18,335.68 548.30,336.54 548.42,335.35 548.54,335.49 548.66,335.35 548.78,334.96 548.90,334.50 549.02,335.25 549.14,334.06 549.26,333.92 549.38,332.63 549.50,332.65 549.62,331.98 549.74,331.56 549.86,330.22 549.98,330.41 550.10,329.85 550.22,328.84 550.34,328.93 550.40,328.88 550.46,329.51 550.58,329.36 550.70,329.13 550.82,329.92 550.94,330.77 551.06,330.57 551.18,332.03 551.30,332.62 551.42,333.37 551.54,332.22 551.66,333.01 551.78,332.18 551.90,332.64 552.02,332.35 552.14,332.45 552.26,332.94 552.38,334.20 552.50,335.22 552.62,335.32 552.74,334.64 552.86,334.85 552.98,336.72 553.10,335.88 553.22,336.65 553.34,336.29 553.46,336.08 553.58,336.02 553.70,334.97 553.82,334.51 553.94,333.70 554.06,334.59 554.18,332.71 554.30,333.14 554.42,331.42 554.54,331.37 554.66,330.97 554.78,329.97 554.90,329.41 555.02,328.89 555.14,328.17 555.26,328.84 555.30,328.58 555.38,328.86 555.50,328.98 555.62,328.74 555.74,329.77 555.86,330.15 555.98,330.45 556.10,331.58 556.22,332.80 556.34,332.23 556.46,333.73 556.58,333.93 556.70,334.54 556.82,335.25 556.94,334.77 557.06,334.77 557.18,335.13 557.30,335.70 557.42,336.27 557.54,336.05 557.66,336.66 557.78,335.76 557.90,335.50 558.02,336.37 558.14,336.59 558.26,336.17 558.38,335.40 558.50,336.09 558.62,336.54 558.74,335.93 558.86,336.79 558.98,335.70 559.10,336.49 559.22,336.01 559.34,335.49 559.46,335.77 559.58,335.55 559.70,336.30 559.82,336.84 559.94,336.68 560.06,336.47 560.18,335.41 560.30,336.43 560.42,336.73 560.54,335.90 560.66,336.17 560.78,336.12 560.90,336.19 561.02,335.46 561.14,336.19 561.26,335.72 561.38,336.17 561.50,335.28 561.62,335.64 561.74,335.24 561.86,336.32 561.98,336.59 562.10,336.17 562.22,335.60 562.34,335.68 562.46,336.00 562.58,335.35 562.70,334.93 562.82,336.26 562.94,335.55 563.06,335.91 563.18,335.47 563.30,335.20 563.42,334.88 563.54,335.97 563.66,335.96 563.78,335.13 563.90,335.44 564.02,336.92 564.14,336.57 564.26,335.71 564.38,336.00 564.50,336.53 564.62,336.85 564.74,335.56 564.86,336.52 564.98,336.37 565.10,336.61 565.22,335.51 565.34,336.01 565.46,336.50 565.58,335.82 565.70,336.30 565.82,336.04 565.94,336.20 566.06,336.64 566.18,336.36 566.30,335.06 566.42,335.85 566.54,334.60 566.66,334.88 566.78,335.39 566.90,335.38 567.02,335.73 567.14,334.65 567.26,335.22 567.38,335.63 567.50,336.07 567.62,336.42 567.74,335.61 567.86,335.45 567.98,335.66 568.10,336.62 568.22,335.33 568.34,335.59 568.46,336.56 568.58,336.69 568.70,335.73 568.82,336.25 568.94,335.56 569.06,335.37 569.18,335.92 569.30,335.20 569.42,335.89 569.54,336.30 569.66,336.89 569.78,336.83 569.90,335.67 570.02,336.07 570.14,335.42 570.26,335.43 570.38,337.12 570.50,335.66 570.62,335.97 570.74,336.63 570.86,335.71 570.98,336.01 571.10,335.40 571.22,336.46 571.34,335.43 571.46,334.81 571.58,334.61 571.70,334.55 571.82,333.80 571.94,333.16 572.06,332.88 572.18,332.90 572.30,333.26 572.42,333.48 572.54,334.44 572.66,333.39 572.78,332.59 572.90,332.32 573.02,332.73 573.14,333.85 573.26,333.54 573.38,334.05 573.50,334.04 573.62,335.26 573.74,334.84 573.86,335.44 573.98,335.53 574.10,335.82 574.22,335.45 574.34,335.45 574.46,335.07 574.58,335.85 574.70,335.43 574.82,336.38 574.94,336.27 575.06,335.73 575.18,336.52 575.30,335.57 575.42,335.16 575.54,336.61 575.66,336.85 575.78,335.28 575.90,335.95 576.02,335.33 576.14,336.48 576.26,336.72 576.38,335.25 576.50,336.06 576.62,335.38 576.74,334.56 576.86,334.76 576.98,334.99 577.10,334.55 577.22,334.20 577.34,332.89 577.46,334.19 577.58,334.12 577.70,335.03 577.82,335.17 577.94,333.63 578.06,333.34 578.18,333.60 578.30,333.30 578.42,333.00 578.54,333.51 578.66,333.74 578.78,334.35 578.90,335.09 579.02,335.40 579.14,336.05 579.26,335.65 579.38,336.41 579.50,336.37 579.62,335.18 579.74,336.17 579.86,336.90 579.98,336.11 580.10,335.99 580.22,335.99 580.34,336.82 580.46,335.98 580.58,335.72 580.70,336.59 580.82,337.12 580.94,336.46 581.06,335.41 581.18,335.53 581.30,335.90 581.42,336.66 581.54,336.98 581.66,336.72 581.78,335.54 581.90,336.57 582.02,336.75 582.14,336.18 582.26,335.75 582.38,336.29 582.50,336.15 582.62,335.98 582.74,335.38 582.86,335.82 582.98,336.69 583.10,335.92 583.22,336.54 583.34,336.10 583.46,335.75 583.58,336.68 583.70,337.01 583.82,336.65 583.94,336.69 584.06,336.07 584.18,336.92 584.30,337.12 584.42,336.43 584.54,336.66 584.66,335.54 584.78,335.46 584.90,336.55 585.02,335.99 585.14,335.87 585.26,336.42 585.38,335.39 585.50,336.31 585.62,336.51 585.74,336.52 585.86,335.15 585.98,335.11 586.10,336.19 586.22,336.09 586.34,335.81 586.46,334.92 586.58,334.24 586.70,334.65 586.82,333.67 586.94,334.27 587.06,333.51 587.18,332.78 587.30,332.87 587.42,334.33 587.54,333.74 587.66,333.86 587.78,334.00 587.90,334.74 588.02,336.06 588.14,334.74 588.26,336.30 588.38,335.53 588.50,336.14 588.62,336.22 588.74,336.34 588.86,335.15 588.98,336.13 589.10,335.24 589.22,335.45 589.34,335.54 589.46,336.95 589.58,336.87 589.70,336.65 589.82,335.68 589.94,335.57 590.06,336.71 590.18,336.32 590.30,336.84 590.42,336.60 590.54,335.99 590.66,336.33 590.78,336.81 590.90,336.18 591.02,335.41 591.14,336.12 591.26,336.69 591.38,336.40 591.50,336.84 591.62,336.68 591.74,336.45 591.86,336.66 591.98,335.79 592.10,335.67 592.22,335.57 592.34,336.13 592.46,336.11 592.58,335.83 592.70,336.80 592.82,335.75 592.94,335.45 593.06,336.17 593.18,336.02 593.30,335.41 593.42,336.17 593.54,336.18 593.66,336.96 593.78,336.52 593.90,335.79 594.02,337.07 594.14,336.85 594.26,336.92 594.38,335.96 594.50,335.63 594.62,336.66 594.74,336.44 594.86,336.01 594.98,334.86 595.10,335.20 595.22,334.48 595.34,335.61 595.46,334.32 595.58,335.14 595.70,334.88 595.82,334.59 595.94,334.96 596.06,334.42 596.18,334.24 596.30,335.73 596.42,335.27 596.54,334.84 596.66,335.66 596.78,336.30 596.90,336.55 597.02,336.66 597.14,335.64 597.26,335.36 597.38,336.97 597.50,336.20 597.62,335.74 597.74,335.55 597.86,336.83 597.98,335.47 598.10,336.79 598.22,336.55 598.34,335.65 598.46,336.85 598.58,336.84 598.70,335.34 598.82,336.00 598.94,335.99 599.06,335.83 599.18,336.79 599.30,335.58 599.42,335.61 599.54,335.69 599.66,335.61 599.78,335.38 599.90,336.35 600.02,335.81 600.14,336.13 600.26,334.70 600.38,334.91 600.50,334.43 600.62,334.45 600.74,333.35 600.86,333.22 600.98,333.74 601.10,334.44 601.22,334.61 601.34,334.36 601.46,334.22 601.58,335.41 601.70,334.63 601.82,334.40 601.94,334.72 602.06,333.93 602.18,333.88 602.30,334.76 602.42,333.87 602.54,333.44 602.66,333.85 602.78,333.25 602.90,334.21 603.02,333.30 603.14,333.35 603.26,333.44 603.38,332.66 603.50,332.72 603.62,332.15 603.74,332.40 603.86,331.72 603.98,331.38 604.10,331.68 604.22,330.85 604.34,330.42 604.46,330.75 604.58,330.13 604.70,329.90 604.82,329.40 604.94,329.08 605.06,328.91 605.18,327.35 605.30,327.14 605.42,325.85 605.54,324.87 605.66,323.89 605.78,322.54 605.90,320.91 606.02,320.00 606.14,318.63 606.26,317.30 606.38,315.64 606.50,314.37 606.62,312.89 606.74,311.38 606.86,309.95 606.98,308.40 607.10,307.02 607.22,305.65 607.34,304.37 607.46,297.40 607.58,287.74 607.70,277.09 607.82,265.68 607.94,253.95 608.06,242.40 608.18,231.62 608.30,222.19 608.42,214.68 608.54,209.56 608.66,207.16 608.70,207.00 608.78,207.64 608.90,210.98 609.02,216.94 609.14,225.15 609.26,235.09 609.38,246.19 609.50,257.86 609.62,269.54 609.74,280.74 609.86,291.10 609.98,300.34 610.10,304.72 610.22,306.07 610.34,307.50 610.46,308.85 610.58,310.45 610.70,311.90 610.82,313.20 610.94,314.64 611.06,316.05 611.18,317.60 611.30,318.86 611.42,320.29 611.54,321.58 611.66,323.00 611.78,323.98 611.90,324.75 612.02,325.95 612.14,327.35 612.26,328.26 612.38,329.15 612.50,329.44 612.62,329.23 612.74,329.58 612.86,329.97 612.98,330.14 613.10,330.81 613.22,330.75 613.34,331.57 613.46,331.00 613.58,332.02 613.70,331.73 613.82,332.73 613.94,333.05 614.06,332.84 614.18,332.34 614.30,332.58 614.42,333.73 614.54,333.21 614.66,333.79 614.78,333.52 614.90,332.56 615.02,331.86 615.14,330.68 615.26,329.90 615.38,329.93 615.50,330.09 615.62,330.52 615.74,332.04 615.86,332.83 615.98,333.09 616.10,334.76 616.22,335.54 616.34,335.25 616.46,335.68 616.58,335.55 616.70,335.72 616.82,336.19 616.94,336.16 617.06,335.06 617.18,334.98 617.30,336.07 617.42,335.56 617.54,336.45 617.66,335.16 617.78,335.59 617.90,336.19 618.02,336.52 618.14,335.88 618.26,336.14 618.38,335.89 618.50,335.78 618.62,335.93 618.74,336.53 618.86,336.38 618.98,335.43 619.10,336.15 619.22,336.34 619.34,335.29 619.46,335.94 619.58,335.95 619.70,335.80 619.82,335.16 619.94,335.87 620.06,335.35 620.18,336.45 620.30,336.18 620.42,335.67 620.54,335.95 620.66,336.16 620.78,336.17 620.90,335.24 621.02,334.40 621.14,333.83 621.26,334.95 621.38,334.22 621.50,334.58 621.62,336.25 621.74,336.45 621.86,335.99 621.98,336.86 622.10,336.98 622.22,336.10 622.34,335.42 622.46,335.61 622.58,336.13 622.70,335.79 622.82,335.54 622.94,336.04 623.06,336.14 623.18,336.56 623.30,336.80 623.42,336.40 623.54,337.13 623.66,335.78 623.78,336.28 623.90,335.97 624.02,336.06 624.14,335.54 624.26,336.32 624.38,336.39 624.50,335.35 624.62,334.89 624.74,334.35 624.86,334.44 624.98,334.81 625.10,333.56 625.22,333.96 625.34,335.76 625.46,335.43 625.58,336.08 625.70,336.63 625.82,335.85 625.94,337.13 626.06,336.07 626.18,336.25 626.30,337.14 626.42,336.36 626.54,335.75 626.66,335.85 626.78,336.89 626.90,336.06 627.02,335.99 627.14,335.40 627.26,335.41 627.38,335.62 627.50,335.90 627.62,337.15 627.74,336.33 627.86,335.45 627.98,336.32 628.10,335.91 628.22,336.97 628.34,337.16 628.46,336.36 628.58,336.73 628.70,336.02 628.82,335.72 628.94,336.56 629.06,335.51 629.18,336.29 629.30,336.84 629.42,335.71 629.54,336.68 629.66,335.76 629.78,336.63 629.90,335.74 630.02,336.14 630.14,335.99 630.26,335.40 630.38,336.37 630.50,335.35 630.62,336.30 630.74,336.03 630.86,336.63 630.98,335.92 631.10,335.25 631.22,335.75 631.34,336.41 631.46,335.35 631.58,335.56 631.70,335.45 631.82,336.70 631.94,335.79 632.06,335.59 632.18,336.52 632.30,335.83 632.42,336.42 632.54,336.76 632.66,336.51 632.78,336.84 632.90,335.81 633.02,336.70 633.14,336.47 633.26,336.10 633.38,336.54 633.50,336.53 633.62,335.65 633.74,335.85 633.86,336.37 633.98,335.76 634.10,336.19 634.22,336.06 634.34,336.36 634.46,335.69 634.58,336.50 634.70,336.69 634.82,336.26 634.94,335.98 635.06,335.74 635.18,336.92 635.30,337.08 635.42,336.78 635.54,335.94 635.66,336.80 635.78,335.99 635.90,335.53 636.02,335.83 636.14,335.03 636.26,335.24 636.38,336.20 636.50,336.97 636.62,337.09 636.74,336.59 636.86,335.86 636.98,335.34 637.10,336.78 637.22,335.35 637.34,336.56 637.46,336.44 637.58,335.21 637.70,336.18 637.82,335.64 637.94,335.11 638.06,335.80 638.18,334.75 638.30,335.28 638.42,334.39 638.54,335.64 638.66,335.36 638.78,334.99 638.90,334.58 639.02,336.20 639.14,335.49 639.26,336.26 639.38,336.27 639.50,335.57 639.62,335.38 639.74,335.19 639.86,335.65 639.98,335.69 640.10,335.33 640.22,335.54 640.34,336.60 640.46,336.62 640.58,335.82 640.70,336.64 640.82,335.95 640.94,335.42 641.06,336.18 641.18,336.19 641.30,336.40 641.42,336.88 641.54,335.75 641.66,335.36 641.78,335.80 641.90,334.99 642.02,334.90 642.14,334.66 642.26,333.27 642.38,333.23 642.50,333.31 642.62,333.23 642.74,332.50 642.86,333.29 642.98,333.75 643.10,334.68 643.22,335.13 643.34,335.37 643.46,335.42 643.58,335.42 643.70,334.19 643.82,334.67 643.94,335.50 644.06,335.17 644.18,335.05 644.30,335.02 644.42,335.41 644.54,334.46 644.66,334.85 644.78,335.33 644.90,335.78 645.02,335.44 645.14,336.50 645.26,336.77 645.38,336.78 645.50,336.22 645.62,336.17 645.74,335.89 645.86,337.11 645.98,336.84 646.10,336.87 646.22,336.32 646.34,335.52 646.46,335.58 646.58,335.54 646.70,337.10 646.82,335.57 646.94,336.35 647.06,336.66 647.18,336.87 647.30,336.33 647.42,336.56 647.54,336.10 647.66,336.89 647.78,335.57 647.90,335.70 648.02,335.96 648.14,336.50 648.26,335.97 648.38,335.54 648.50,336.95 648.62,335.57 648.74,335.83 648.86,337.05 648.98,336.73 649.10,336.51 649.22,336.67 649.34,335.93 649.46,336.65 649.58,336.02 649.70,336.08 649.82,336.52 649.94,336.24 650.06,337.03 650.18,335.89 650.30,335.80 650.42,336.71 650.54,335.46 650.66,335.72 650.78,336.74 650.90,335.44 651.02,335.56 651.14,336.63 651.26,336.02 651.38,335.37 651.50,335.50 651.62,336.46 651.74,335.72 651.86,336.10 651.98,336.43 652.10,336.48 652.22,335.92 652.34,335.25 652.46,335.73 652.58,336.21 652.70,336.13 652.82,335.62 652.94,336.48 653.06,336.56 653.18,335.82 653.30,336.13 653.42,335.98 653.54,335.65 653.66,336.98 653.78,336.94 653.90,335.58 654.02,335.71 654.14,336.79 654.26,335.42 654.38,335.82 654.50,336.28 654.62,336.44 654.74,336.84 654.86,335.79 654.98,335.82 655.10,335.57 655.22,335.82 655.34,336.59 655.46,336.02 655.58,336.45 655.70,336.57 655.82,336.45 655.94,336.12 656.06,336.28 656.18,336.94 656.30,336.03 656.42,335.75 656.54,335.79 656.66,335.92 656.78,335.68 656.90,337.16 657.02,335.65 657.14,336.81 657.26,336.44 657.38,337.19 657.50,335.88 657.62,336.98 657.74,335.62 657.86,335.86 657.98,336.23 658.10,336.94 658.22,336.51 658.34,336.80 658.46,336.29 658.58,335.51 658.70,335.62 658.82,335.93 658.94,335.65 659.06,337.11 659.18,336.35 659.30,336.95 659.42,337.17 659.54,337.09 659.66,335.58 659.78,335.46 659.90,336.66 660.02,336.01 660.14,336.24 660.26,336.92 660.38,336.48 660.50,336.71 660.62,336.53 660.74,335.97 660.86,335.69 660.98,336.18 661.10,336.61 661.22,336.53 661.34,336.56 661.46,335.62 661.58,335.52 661.70,336.38 661.82,336.03 661.94,336.89 662.06,335.52 662.18,336.99 662.30,336.99 662.42,335.36 662.54,335.70 662.66,336.74 662.78,336.41 662.90,335.72" fill="none" stroke="#0000ff" stroke-width="0.9" stroke-linejoin="round"/>
<line x1="363.5" y1="28.0" x2="363.5" y2="345.2" stroke="#4a4a4a" stroke-width="1.2"/>
<line x1="362.9" y1="345.2" x2="663.5" y2="345.2" stroke="#4a4a4a" stroke-width="1.5"/>
<path d="M361.30 336.30H363.50M361.30 323.76H363.50M361.30 311.22H363.50M361.30 298.68H363.50M361.30 286.14H363.50M361.30 273.60H363.50M361.30 261.06H363.50M361.30 248.52H363.50M361.30 235.98H363.50M361.30 223.44H363.50M361.30 210.90H363.50M361.30 198.36H363.50M361.30 185.82H363.50M361.30 173.28H363.50M361.30 160.74H363.50M361.30 148.20H363.50M361.30 135.66H363.50M361.30 123.12H363.50M361.30 110.58H363.50M361.30 98.04H363.50M361.30 85.50H363.50M361.30 72.96H363.50M361.30 60.42H363.50M361.30 47.88H363.50M361.30 35.34H363.50" stroke="#000" stroke-width="1"/>
<path d="M367.22 345.20V348.20M374.00 345.20V348.20M380.78 345.20V348.20M387.56 345.20V348.20M394.34 345.20V348.20M401.12 345.20V348.20M407.90 345.20V348.20M414.68 345.20V348.20M421.46 345.20V348.20M428.24 345.20V348.20M435.02 345.20V348.20M441.80 345.20V348.20M448.58 345.20V348.20M455.36 345.20V348.20M462.14 345.20V348.20M468.92 345.20V348.20M475.70 345.20V348.20M482.48 345.20V348.20M489.26 345.20V348.20M496.04 345.20V348.20M502.82 345.20V348.20M509.60 345.20V348.20M516.38 345.20V348.20M523.16 345.20V348.20M529.94 345.20V348.20M536.72 345.20V348.20M543.50 345.20V348.20M550.28 345.20V348.20M557.06 345.20V348.20M563.84 345.20V348.20M570.62 345.20V348.20M577.40 345.20V348.20M584.18 345.20V348.20M590.96 345.20V348.20M597.74 345.20V348.20M604.52 345.20V348.20M611.30 345.20V348.20M618.08 345.20V348.20M624.86 345.20V348.20M631.64 345.20V348.20M638.42 345.20V348.20M645.20 345.20V348.20M651.98 345.20V348.20M658.76 345.20V348.20" stroke="#000" stroke-width="1"/>
<text x="360.10" y="340.80" text-anchor="end" font-size="12">0</text>
<text x="360.10" y="239.70" text-anchor="end" font-size="12">1</text>
<text x="360.10" y="89.30" text-anchor="end" font-size="12">2</text>
<text x="337.20" y="37.60" font-size="12">x10<tspan font-size="7.9" dy="-4.1" fill="#555">4</tspan></text>
<text x="407.80" y="359.50" text-anchor="middle" font-size="12">3000</text>
<text x="516.20" y="359.50" text-anchor="middle" font-size="12">6000</text>
<text x="624.70" y="359.50" text-anchor="middle" font-size="12">9000</text>
<text x="500.70" y="372.30" text-anchor="middle" font-size="12" font-style="italic">m/z</text>
<text transform="translate(345.10,168.00) rotate(-90)" text-anchor="middle" font-size="12">Intensity [a.u.]</text>
<text transform="translate(385.55,318.00) rotate(-90)" font-size="12">2208.6</text>
<text transform="translate(412.15,77.20) rotate(-90)" font-size="12">2785.2</text>
<text transform="translate(417.35,152.00) rotate(-90)" font-size="12">3123.8</text>
<text transform="translate(428.05,258.70) rotate(-90)" font-size="12">3431.2</text>
<text transform="translate(439.45,271.30) rotate(-90)" font-size="12">3760.2</text>
<text transform="translate(462.15,216.80) rotate(-90)" font-size="12">4448.3</text>
<text transform="translate(490.80,284.60) rotate(-90)" font-size="12">5301.5</text>
<text transform="translate(533.90,326.50) rotate(-90)" font-size="12">6575.4</text>
<text transform="translate(560.35,327.00) rotate(-90)" font-size="12">7298.6</text>
<text transform="translate(613.45,206.30) rotate(-90)" font-size="12">8891.8</text>
<text x="326.6" y="383.4" font-size="16.6" font-weight="bold">D</text>
<polyline points="364.00,696.52 364.12,694.31 364.24,694.18 364.30,694.08 364.36,694.38 364.48,694.64 364.60,696.20 364.72,697.80 364.84,699.08 364.96,701.14 365.08,703.12 365.20,703.60 365.32,702.27 365.44,701.74 365.56,703.31 365.68,702.63 365.80,701.28 365.92,701.12 366.04,697.54 366.16,693.98 366.28,689.07 366.40,683.70 366.52,679.63 366.64,677.00 366.70,676.73 366.76,677.09 366.88,679.52 367.00,683.74 367.12,689.10 367.24,693.54 367.36,697.46 367.48,700.90 367.60,699.79 367.72,699.60 367.84,699.44 367.96,700.26 368.08,701.59 368.20,701.36 368.32,702.79 368.44,701.65 368.56,700.24 368.68,697.60 368.80,695.42 368.92,693.75 369.00,693.67 369.04,694.18 369.16,694.68 369.28,696.86 369.40,697.57 369.52,696.85 369.64,695.77 369.76,696.27 369.88,696.44 370.00,698.80 370.12,700.00 370.24,700.69 370.36,703.53 370.48,704.36 370.60,703.38 370.72,705.12 370.84,705.64 370.96,703.18 371.08,703.04 371.20,702.64 371.32,702.88 371.44,702.05 371.56,700.44 371.68,699.99 371.80,699.69 371.92,700.33 372.04,700.42 372.16,701.29 372.28,702.99 372.40,702.88 372.52,703.23 372.64,701.75 372.76,699.78 372.88,698.94 373.00,699.16 373.12,702.13 373.24,704.15 373.36,704.13 373.48,703.50 373.60,703.12 373.72,702.64 373.84,701.86 373.96,703.19 374.08,702.41 374.20,704.35 374.32,702.63 374.44,702.89 374.56,701.93 374.68,700.91 374.80,701.09 374.92,701.48 375.04,700.89 375.16,701.34 375.28,701.81 375.40,700.62 375.52,701.03 375.64,702.25 375.76,700.00 375.88,699.02 376.00,699.32 376.12,699.40 376.24,699.39 376.36,698.98 376.48,699.19 376.60,698.77 376.72,696.62 376.84,695.66 376.96,694.08 377.08,694.10 377.20,693.25 377.32,694.69 377.44,695.09 377.56,696.49 377.68,698.06 377.80,699.24 377.92,700.49 378.04,701.44 378.16,703.08 378.28,704.36 378.40,704.26 378.52,703.00 378.64,704.38 378.76,704.67 378.88,702.85 379.00,703.27 379.12,703.07 379.24,703.21 379.36,702.08 379.48,702.98 379.60,703.07 379.72,703.96 379.84,703.90 379.96,704.57 380.08,703.44 380.20,703.43 380.32,702.04 380.44,702.94 380.56,703.17 380.68,702.37 380.80,700.15 380.92,698.35 381.04,699.22 381.16,700.64 381.28,703.28 381.40,703.00 381.52,704.93 381.64,704.10 381.76,703.69 381.88,704.22 382.00,705.04 382.12,703.69 382.24,703.70 382.36,705.48 382.48,704.69 382.60,704.65 382.72,703.39 382.84,702.85 382.96,703.20 383.08,703.55 383.20,702.02 383.32,702.19 383.44,701.55 383.56,701.27 383.68,702.27 383.80,701.92 383.92,701.73 384.04,699.01 384.16,696.31 384.28,693.50 384.40,691.83 384.50,691.65 384.52,691.59 384.64,692.70 384.76,695.07 384.88,698.24 385.00,697.99 385.12,698.38 385.24,699.78 385.36,699.74 385.48,700.42 385.60,699.49 385.72,699.42 385.84,697.94 385.96,698.26 386.08,699.21 386.20,695.25 386.32,692.29 386.44,688.51 386.56,684.92 386.68,682.64 386.80,682.09 386.80,681.84 386.92,682.63 387.04,685.24 387.16,688.20 387.28,688.65 387.40,665.34 387.52,623.40 387.64,562.03 387.76,491.63 387.88,433.71 388.00,411.10 388.00,411.10 388.12,433.71 388.24,491.63 388.30,526.81 388.36,562.03 388.48,623.40 388.60,658.75 388.72,664.93 388.84,671.93 388.96,678.96 389.08,685.53 389.20,690.89 389.32,695.92 389.44,699.57 389.56,699.40 389.68,699.22 389.80,699.25 389.92,700.65 390.04,701.21 390.16,700.01 390.28,701.02 390.40,700.27 390.52,699.89 390.64,698.73 390.76,697.76 390.88,697.67 391.00,696.00 391.12,695.19 391.24,694.74 391.36,685.34 391.48,666.42 391.60,638.06 391.72,601.90 391.84,563.89 391.96,533.31 392.08,519.30 392.10,519.00 392.20,526.45 392.32,552.37 392.44,589.02 392.56,626.67 392.68,657.99 392.80,679.82 392.92,693.21 393.04,695.42 393.16,696.56 393.28,697.21 393.40,697.56 393.52,697.99 393.64,697.30 393.76,696.21 393.88,695.74 394.00,686.31 394.12,673.43 394.24,657.36 394.36,641.01 394.48,628.63 394.60,624.00 394.60,624.00 394.72,628.63 394.84,641.00 394.96,657.34 395.08,673.52 395.20,686.28 395.32,695.92 395.44,696.05 395.56,697.69 395.68,694.53 395.80,687.04 395.92,677.72 396.04,667.46 396.16,659.34 396.28,655.58 396.30,655.49 396.40,657.47 396.52,664.41 396.64,674.26 396.76,684.17 396.88,692.55 397.00,697.74 397.12,699.83 397.24,700.06 397.36,700.49 397.48,700.27 397.60,699.65 397.72,698.57 397.84,699.37 397.96,700.84 398.08,701.20 398.20,700.77 398.32,700.31 398.44,702.55 398.56,701.85 398.68,703.38 398.80,703.56 398.92,701.64 399.04,702.89 399.16,702.92 399.28,702.34 399.40,701.98 399.52,701.01 399.64,702.31 399.76,700.27 399.88,695.54 400.00,680.89 400.12,655.10 400.24,617.51 400.36,574.41 400.48,538.94 400.60,525.10 400.60,525.10 400.72,538.94 400.84,574.41 400.96,617.51 401.00,631.13 401.08,655.07 401.20,671.25 401.32,674.59 401.44,678.81 401.56,683.60 401.68,688.44 401.80,692.87 401.92,695.79 402.04,698.94 402.16,700.25 402.28,701.01 402.40,700.72 402.52,700.83 402.64,701.49 402.76,701.37 402.88,701.47 403.00,701.70 403.12,702.98 403.24,702.03 403.36,702.41 403.48,703.96 403.60,703.15 403.72,702.99 403.84,704.85 403.96,705.03 404.08,703.90 404.20,702.83 404.32,703.15 404.44,703.21 404.56,702.62 404.68,704.21 404.80,705.07 404.92,702.81 405.04,704.13 405.16,701.12 405.28,700.44 405.40,700.31 405.52,699.73 405.64,698.67 405.76,699.66 405.88,701.43 406.00,703.11 406.12,703.98 406.24,703.84 406.36,704.27 406.48,701.56 406.60,699.74 406.72,698.42 406.84,695.74 406.96,694.53 407.00,694.77 407.08,695.54 407.20,696.63 407.32,697.75 407.44,700.04 407.56,703.07 407.68,703.83 407.80,703.06 407.92,701.75 408.04,701.65 408.16,700.29 408.28,701.47 408.40,702.84 408.52,703.54 408.64,701.93 408.76,701.00 408.88,701.68 409.00,702.08 409.12,702.46 409.24,702.19 409.36,702.80 409.48,702.97 409.60,702.17 409.72,702.71 409.84,702.06 409.96,703.47 410.08,703.57 410.20,704.49 410.32,703.85 410.44,701.67 410.56,702.29 410.68,702.21 410.80,702.58 410.92,701.47 411.04,699.82 411.16,698.41 411.28,694.80 411.40,691.08 411.52,687.06 411.64,684.71 411.70,684.24 411.76,684.87 411.88,686.69 412.00,691.11 412.12,695.47 412.24,698.24 412.36,698.70 412.48,697.29 412.60,695.75 412.72,695.18 412.84,696.48 412.96,698.63 413.08,699.66 413.20,699.71 413.32,698.27 413.44,699.20 413.56,699.19 413.68,699.54 413.80,700.06 413.92,701.71 414.04,701.38 414.16,703.18 414.28,701.63 414.40,701.85 414.52,701.63 414.64,702.30 414.76,701.46 414.88,701.91 415.00,702.24 415.12,703.20 415.24,702.63 415.36,704.38 415.48,703.65 415.60,704.91 415.72,705.48 415.84,705.38 415.96,703.52 416.08,704.66 416.20,703.99 416.32,702.68 416.44,702.82 416.56,702.76 416.68,702.69 416.80,701.53 416.92,700.25 417.04,698.70 417.16,697.16 417.28,697.43 417.40,697.65 417.52,699.21 417.64,700.41 417.76,701.79 417.88,702.45 418.00,701.50 418.12,702.54 418.24,702.11 418.36,704.17 418.48,704.30 418.60,703.21 418.72,704.28 418.84,704.87 418.96,705.13 419.08,705.00 419.20,704.72 419.32,705.47 419.44,703.73 419.56,702.38 419.68,703.36 419.80,702.44 419.92,699.90 420.04,699.50 420.16,698.84 420.28,697.52 420.40,697.90 420.52,696.90 420.64,697.78 420.76,698.95 420.88,699.82 421.00,699.69 421.12,700.93 421.24,701.48 421.36,702.86 421.48,704.95 421.60,702.56 421.72,703.09 421.84,702.97 421.96,702.65 422.08,701.84 422.20,702.12 422.32,700.81 422.44,701.73 422.56,701.16 422.68,701.57 422.80,698.67 422.92,694.03 423.04,688.83 423.16,683.42 423.28,678.17 423.40,674.77 423.50,673.82 423.52,673.78 423.64,675.74 423.76,679.63 423.88,685.39 424.00,690.89 424.12,695.35 424.24,699.92 424.36,702.23 424.48,701.73 424.60,702.38 424.72,701.38 424.84,702.54 424.96,703.70 425.08,701.54 425.20,702.28 425.32,703.14 425.44,702.32 425.56,702.05 425.68,703.25 425.80,704.11 425.92,703.55 426.04,703.57 426.16,701.54 426.28,701.86 426.40,703.40 426.52,703.67 426.64,702.89 426.76,702.20 426.88,703.79 427.00,704.56 427.12,703.50 427.24,704.98 427.36,703.03 427.48,704.83 427.60,702.74 427.72,704.35 427.84,703.46 427.96,704.33 428.08,702.16 428.20,702.90 428.32,701.05 428.44,701.08 428.56,700.69 428.68,700.86 428.80,700.14 428.92,699.81 429.04,701.24 429.16,700.66 429.28,701.28 429.40,701.98 429.52,702.12 429.64,701.64 429.76,702.17 429.88,704.23 430.00,704.48 430.12,704.10 430.24,705.20 430.36,703.13 430.48,704.06 430.60,702.02 430.72,703.28 430.84,702.39 430.96,702.04 431.08,701.99 431.20,701.40 431.32,700.83 431.44,700.31 431.56,699.26 431.68,698.58 431.80,698.32 431.92,700.10 432.04,700.03 432.16,701.17 432.28,702.03 432.40,701.44 432.52,700.94 432.64,698.89 432.76,697.53 432.88,696.15 433.00,696.76 433.12,699.42 433.24,701.90 433.36,700.07 433.48,700.88 433.60,700.07 433.72,701.93 433.84,701.71 433.96,703.10 434.08,703.92 434.20,703.85 434.32,702.47 434.44,702.83 434.56,702.99 434.68,702.05 434.80,698.56 434.92,695.23 435.04,691.86 435.16,689.31 435.28,688.19 435.30,688.28 435.40,688.73 435.52,691.33 435.64,694.90 435.76,698.03 435.88,701.54 436.00,701.26 436.12,701.23 436.24,701.35 436.36,700.92 436.48,701.15 436.60,702.90 436.72,701.93 436.84,702.64 436.96,703.24 437.08,701.85 437.20,702.66 437.32,702.24 437.44,701.88 437.56,702.49 437.68,702.88 437.80,701.94 437.92,703.10 438.04,702.31 438.16,701.90 438.28,703.19 438.40,704.20 438.52,703.91 438.64,704.43 438.76,703.70 438.88,702.60 439.00,703.00 439.12,702.95 439.24,704.77 439.36,704.04 439.48,702.28 439.60,704.05 439.72,703.81 439.84,703.70 439.96,702.67 440.08,701.66 440.20,702.86 440.32,702.04 440.44,701.92 440.56,701.28 440.68,702.38 440.80,699.45 440.92,696.60 441.04,693.90 441.16,690.59 441.28,686.58 441.40,682.91 441.52,679.66 441.64,677.31 441.76,676.16 441.80,676.06 441.88,676.32 442.00,677.90 442.12,670.13 442.24,651.51 442.36,635.15 442.48,627.27 442.50,627.10 442.60,631.31 442.72,645.48 442.84,664.05 442.96,681.11 443.08,693.21 443.20,699.59 443.32,703.08 443.44,703.29 443.56,702.53 443.68,703.06 443.80,703.92 443.92,703.27 444.04,704.09 444.16,702.37 444.28,702.68 444.40,704.63 444.52,703.69 444.64,703.95 444.76,703.94 444.88,703.36 445.00,703.01 445.12,702.78 445.24,700.89 445.36,697.06 445.48,694.38 445.60,690.29 445.72,685.32 445.84,680.11 445.96,674.64 446.08,669.36 446.20,664.88 446.32,661.53 446.44,659.74 446.50,659.53 446.56,659.76 446.68,661.49 446.80,664.87 446.92,669.37 447.04,667.13 447.16,645.55 447.28,619.75 447.40,593.30 447.52,571.26 447.64,558.66 447.70,557.00 447.76,558.66 447.88,571.26 448.00,593.30 448.12,619.75 448.24,645.54 448.36,667.08 448.48,682.87 448.60,693.57 448.72,694.69 448.84,696.24 448.96,696.81 449.08,697.79 449.20,697.99 449.32,698.75 449.44,698.76 449.56,700.41 449.68,701.55 449.80,700.65 449.92,701.99 450.04,702.17 450.16,701.59 450.28,701.17 450.40,700.74 450.52,700.93 450.64,701.58 450.76,701.98 450.88,703.92 451.00,703.81 451.12,705.11 451.24,705.64 451.36,703.31 451.48,703.89 451.60,704.54 451.72,704.33 451.84,704.55 451.96,705.09 452.08,702.96 452.20,703.01 452.32,701.44 452.44,701.54 452.56,700.95 452.68,699.87 452.80,700.37 452.92,701.63 453.04,699.07 453.16,696.23 453.28,693.36 453.40,691.11 453.52,689.03 453.60,689.03 453.64,688.79 453.76,690.46 453.88,692.40 454.00,695.04 454.12,697.98 454.24,700.89 454.36,703.20 454.48,702.50 454.60,701.47 454.72,698.71 454.84,697.04 454.96,696.11 455.08,694.53 455.20,694.11 455.32,694.73 455.44,695.75 455.56,696.85 455.68,697.41 455.80,700.44 455.92,701.71 456.04,701.51 456.16,702.00 456.28,702.51 456.40,703.40 456.52,704.85 456.64,703.44 456.76,704.64 456.88,702.08 457.00,699.97 457.12,698.84 457.24,700.19 457.36,700.79 457.48,701.60 457.60,700.30 457.72,700.27 457.84,702.22 457.96,701.04 458.08,701.93 458.20,704.40 458.32,704.15 458.44,702.97 458.56,704.63 458.68,703.34 458.80,704.06 458.92,701.97 459.04,703.23 459.16,701.33 459.28,700.62 459.40,700.53 459.52,701.07 459.64,701.92 459.76,702.76 459.88,703.38 460.00,703.78 460.12,704.65 460.24,704.48 460.36,703.88 460.48,703.96 460.60,704.93 460.72,704.30 460.84,703.96 460.96,705.73 461.08,704.16 461.20,705.63 461.32,704.30 461.44,703.61 461.56,704.54 461.68,704.06 461.80,703.42 461.92,703.38 462.04,703.73 462.16,705.06 462.28,703.88 462.40,704.58 462.52,703.64 462.64,703.39 462.76,704.82 462.88,704.88 463.00,703.00 463.12,703.23 463.24,701.07 463.36,699.72 463.48,699.01 463.60,697.76 463.72,697.09 463.84,695.56 463.96,692.81 464.08,692.33 464.20,691.50 464.20,691.85 464.32,692.26 464.44,693.29 464.56,695.13 464.68,697.82 464.80,699.96 464.92,700.59 465.04,701.63 465.16,703.17 465.28,703.09 465.40,701.97 465.52,703.25 465.64,703.29 465.76,702.41 465.88,702.09 466.00,701.46 466.12,701.23 466.24,702.17 466.36,701.43 466.48,702.96 466.60,702.12 466.72,703.85 466.84,702.35 466.96,702.22 467.08,702.23 467.20,702.25 467.32,700.80 467.44,701.39 467.56,703.39 467.68,702.43 467.80,702.59 467.92,701.71 468.04,700.66 468.16,698.73 468.28,697.27 468.40,695.83 468.50,696.36 468.52,696.12 468.64,697.12 468.76,697.79 468.88,699.67 469.00,700.37 469.12,702.45 469.24,702.97 469.36,702.93 469.48,704.36 469.60,703.71 469.72,701.97 469.84,702.80 469.96,703.15 470.08,701.92 470.20,702.59 470.32,704.75 470.44,703.92 470.56,704.09 470.68,704.51 470.80,703.67 470.92,703.50 471.04,702.54 471.16,703.13 471.28,702.35 471.40,701.13 471.52,701.58 471.64,701.98 471.76,702.43 471.88,701.36 472.00,702.23 472.12,702.25 472.24,701.67 472.36,701.96 472.48,702.32 472.60,702.39 472.72,702.18 472.84,702.08 472.96,701.87 473.08,701.68 473.20,701.61 473.32,701.01 473.44,701.98 473.56,701.46 473.68,701.88 473.80,702.91 473.92,703.98 474.04,704.02 474.16,703.82 474.28,704.50 474.40,704.04 474.52,702.85 474.64,702.11 474.76,702.08 474.88,701.87 475.00,701.99 475.12,703.36 475.24,703.89 475.36,702.87 475.48,702.39 475.60,703.26 475.72,703.22 475.84,702.53 475.96,702.85 476.08,702.15 476.20,701.90 476.32,700.88 476.44,699.87 476.56,697.16 476.68,693.33 476.80,688.19 476.92,682.99 477.04,678.55 477.16,675.33 477.28,673.86 477.30,673.77 477.40,674.58 477.52,677.42 477.64,681.48 477.76,686.67 477.88,691.39 478.00,695.51 478.12,699.79 478.24,701.32 478.36,700.56 478.48,699.44 478.60,696.06 478.72,693.31 478.84,690.87 478.96,689.66 479.08,688.89 479.10,688.58 479.20,689.17 479.32,690.62 479.44,693.07 479.56,694.79 479.68,697.70 479.80,699.34 479.92,701.25 480.04,703.27 480.16,703.45 480.28,702.94 480.40,702.63 480.52,704.41 480.64,701.90 480.76,701.96 480.88,700.26 481.00,698.00 481.12,695.53 481.24,693.86 481.36,692.42 481.48,692.24 481.60,692.37 481.72,693.09 481.84,694.40 481.96,696.01 482.08,698.04 482.20,699.32 482.32,701.46 482.44,701.44 482.56,702.79 482.68,702.03 482.80,703.87 482.92,703.04 483.04,704.29 483.16,703.36 483.28,702.46 483.40,703.82 483.52,704.17 483.64,705.16 483.76,703.98 483.88,703.13 484.00,702.68 484.12,703.68 484.24,702.59 484.36,704.55 484.48,702.59 484.60,704.57 484.72,704.78 484.84,704.25 484.96,705.33 485.08,702.91 485.20,704.16 485.32,704.03 485.44,703.67 485.56,703.01 485.68,701.27 485.80,700.10 485.92,699.33 486.04,698.02 486.16,695.82 486.28,695.70 486.30,695.93 486.40,696.03 486.52,696.37 486.64,698.37 486.76,699.16 486.88,701.80 487.00,703.03 487.12,702.96 487.24,704.55 487.36,704.26 487.48,703.96 487.60,704.60 487.72,703.09 487.84,702.41 487.96,702.18 488.08,700.32 488.20,698.69 488.32,697.93 488.44,696.38 488.56,696.21 488.68,696.64 488.80,697.47 488.92,694.98 489.04,693.71 489.16,693.91 489.28,695.00 489.40,697.75 489.52,699.08 489.64,702.56 489.76,702.27 489.88,702.22 490.00,702.16 490.12,698.90 490.24,697.04 490.36,696.58 490.48,695.83 490.60,696.31 490.72,697.68 490.84,699.75 490.96,701.45 491.08,704.16 491.20,703.23 491.32,705.25 491.44,703.74 491.56,702.79 491.68,702.04 491.80,703.23 491.92,701.38 492.04,701.22 492.16,701.72 492.28,703.06 492.40,702.39 492.52,702.48 492.64,703.97 492.76,704.33 492.88,704.74 493.00,703.73 493.12,704.47 493.24,704.99 493.36,703.87 493.48,702.61 493.60,703.29 493.72,702.21 493.84,702.14 493.96,701.94 494.08,702.95 494.20,701.24 494.32,699.80 494.44,698.28 494.56,695.93 494.68,694.88 494.80,694.61 494.80,694.43 494.92,695.05 495.04,696.13 495.16,697.84 495.28,698.55 495.40,701.33 495.52,701.88 495.64,701.50 495.76,699.58 495.88,697.58 496.00,697.22 496.12,699.66 496.24,701.27 496.36,702.62 496.48,705.00 496.60,703.34 496.72,703.41 496.84,702.64 496.96,703.01 497.08,702.31 497.20,703.38 497.32,702.23 497.44,703.93 497.56,703.00 497.68,702.70 497.80,701.76 497.92,701.39 498.04,699.53 498.16,697.96 498.28,695.30 498.40,694.57 498.52,693.44 498.60,693.45 498.64,692.98 498.76,693.48 498.88,695.38 499.00,697.45 499.12,698.53 499.24,700.16 499.36,701.25 499.48,703.28 499.60,702.41 499.72,702.93 499.84,702.64 499.96,701.97 500.08,701.87 500.20,702.09 500.32,702.39 500.44,703.47 500.56,703.47 500.68,703.20 500.80,703.67 500.92,703.80 501.04,703.97 501.16,703.83 501.28,703.66 501.40,703.18 501.52,703.23 501.64,703.89 501.76,702.89 501.88,702.96 502.00,703.17 502.12,703.63 502.24,704.15 502.36,703.34 502.48,702.89 502.60,703.00 502.72,702.65 502.84,702.74 502.96,703.46 503.08,702.37 503.20,701.79 503.32,701.44 503.44,699.69 503.56,698.93 503.68,697.91 503.80,696.78 503.92,695.35 504.00,695.77 504.04,695.76 504.16,696.07 504.28,696.88 504.40,698.29 504.52,699.44 504.64,700.33 504.76,702.31 504.88,703.20 505.00,703.72 505.12,702.49 505.24,703.32 505.36,703.72 505.48,703.13 505.60,704.04 505.72,703.01 505.84,703.11 505.96,703.91 506.08,702.88 506.20,703.09 506.32,703.77 506.44,703.79 506.56,704.03 506.68,703.30 506.80,703.80 506.92,704.12 507.04,703.76 507.16,703.55 507.28,703.96 507.40,704.42 507.52,703.41 507.64,704.50 507.76,703.89 507.88,704.16 508.00,704.01 508.12,704.38 508.24,704.03 508.36,703.47 508.48,702.82 508.60,703.92 508.72,703.91 508.84,703.42 508.96,703.61 509.08,703.17 509.20,704.01 509.32,703.58 509.44,704.04 509.56,704.51 509.68,704.27 509.80,702.75 509.92,703.13 510.04,703.83 510.16,703.73 510.28,704.15 510.40,703.44 510.52,704.05 510.64,704.75 510.76,703.49 510.88,703.85 511.00,704.57 511.12,703.95 511.24,703.35 511.36,703.62 511.48,704.51 511.60,703.93 511.72,703.83 511.84,703.54 511.96,703.24 512.08,703.32 512.20,704.37 512.32,703.76 512.44,703.42 512.56,704.79 512.68,703.67 512.80,703.48 512.92,703.90 513.04,703.32 513.16,703.42 513.28,704.34 513.40,704.66 513.52,704.65 513.64,704.04 513.76,703.44 513.88,704.72 514.00,704.00 514.12,703.97 514.24,704.31 514.36,704.22 514.48,704.38 514.60,703.61 514.72,704.24 514.84,703.75 514.96,703.74 515.08,704.59 515.20,703.30 515.32,703.33 515.44,704.37 515.56,703.29 515.68,704.53 515.80,704.40 515.92,703.53 516.04,703.76 516.16,704.19 516.28,704.34 516.40,703.78 516.52,704.52 516.64,704.44 516.76,703.38 516.88,704.39 517.00,704.66 517.12,704.20 517.24,704.63 517.36,704.43 517.48,703.44 517.60,704.64 517.72,703.37 517.84,703.54 517.96,704.73 518.08,704.46 518.20,703.77 518.32,704.44 518.44,703.89 518.56,703.61 518.68,703.76 518.80,703.77 518.92,704.60 519.04,704.17 519.16,704.29 519.28,704.73 519.40,703.54 519.52,704.50 519.64,703.34 519.76,703.90 519.88,703.93 520.00,703.31 520.12,703.37 520.24,704.06 520.36,703.80 520.48,703.41 520.60,703.38 520.72,703.90 520.84,703.99 520.96,703.71 521.08,703.93 521.20,703.15 521.32,703.51 521.44,702.98 521.56,703.35 521.68,703.14 521.80,703.42 521.92,702.83 522.04,702.54 522.16,702.38 522.28,703.16 522.40,703.32 522.52,702.61 522.64,701.93 522.76,701.71 522.88,700.91 523.00,700.01 523.12,698.58 523.24,696.91 523.36,695.60 523.48,694.75 523.60,693.94 523.70,693.82 523.72,693.70 523.84,694.03 523.96,694.95 524.08,696.52 524.20,697.42 524.32,698.27 524.44,700.49 524.56,701.01 524.68,701.80 524.80,703.14 524.92,702.83 525.04,702.74 525.16,702.22 525.28,702.77 525.40,701.85 525.52,700.68 525.64,699.04 525.76,698.22 525.88,696.54 526.00,695.41 526.12,694.85 526.24,694.20 526.30,693.76 526.36,694.25 526.48,694.28 526.60,695.16 526.72,696.61 526.84,698.01 526.96,699.66 527.08,700.25 527.20,701.40 527.32,701.97 527.44,703.34 527.56,703.36 527.68,703.64 527.80,703.26 527.92,702.82 528.04,702.54 528.16,703.68 528.28,702.51 528.40,702.57 528.52,703.28 528.64,703.91 528.76,702.94 528.88,704.10 529.00,703.83 529.12,704.11 529.24,703.04 529.36,703.83 529.48,703.65 529.60,703.89 529.72,703.54 529.84,703.51 529.96,703.26 530.08,704.16 530.20,703.22 530.32,703.19 530.44,703.38 530.56,703.78 530.68,703.79 530.80,703.86 530.92,703.57 531.04,704.02 531.16,704.44 531.28,703.38 531.40,704.19 531.52,704.04 531.64,703.78 531.76,702.96 531.88,703.62 532.00,703.88 532.12,703.58 532.24,703.68 532.36,703.48 532.48,704.01 532.60,704.16 532.72,703.96 532.84,703.83 532.96,703.62 533.08,704.03 533.20,704.12 533.32,704.49 533.44,704.55 533.56,704.37 533.68,704.09 533.80,704.48 533.92,703.09 534.04,703.86 534.16,703.03 534.28,703.38 534.40,702.90 534.52,703.64 534.64,703.09 534.76,703.70 534.88,702.31 535.00,702.97 535.12,702.35 535.24,701.95 535.36,701.42 535.48,701.19 535.60,700.72 535.72,700.33 535.80,700.30 535.84,699.62 535.96,700.28 536.08,700.66 536.20,700.96 536.32,701.11 536.44,702.45 536.56,702.95 536.68,703.41 536.80,703.68 536.92,703.38 537.04,703.21 537.16,703.74 537.28,704.09 537.40,703.29 537.52,704.36 537.64,704.20 537.76,704.02 537.88,703.90 538.00,703.01 538.12,703.14 538.24,704.17 538.36,704.07 538.48,703.65 538.60,704.22 538.72,703.68 538.84,703.67 538.96,703.22 539.08,704.51 539.20,703.16 539.32,704.37 539.44,704.47 539.56,703.52 539.68,704.45 539.80,704.73 539.92,704.13 540.04,703.77 540.16,703.80 540.28,704.39 540.40,703.29 540.52,703.56 540.64,703.20 540.76,704.33 540.88,704.70 541.00,704.49 541.12,704.72 541.24,703.28 541.36,704.41 541.48,704.66 541.60,704.18 541.72,703.75 541.84,704.49 541.96,704.12 542.08,704.00 542.20,704.69 542.32,704.54 542.44,703.79 542.56,704.11 542.68,703.79 542.80,703.86 542.92,703.66 543.04,703.65 543.16,703.19 543.28,703.12 543.40,701.81 543.52,702.40 543.64,701.87 543.76,702.98 543.88,702.26 544.00,702.74 544.12,703.12 544.24,702.94 544.36,703.86 544.48,704.29 544.60,703.53 544.72,704.62 544.84,704.60 544.96,703.30 545.08,703.89 545.20,704.18 545.32,704.25 545.44,704.72 545.56,703.57 545.68,703.85 545.80,703.88 545.92,703.98 546.04,704.63 546.16,703.53 546.28,704.03 546.40,704.75 546.52,703.51 546.64,703.98 546.76,704.74 546.88,704.17 547.00,704.14 547.12,703.86 547.24,704.20 547.36,703.26 547.48,704.61 547.60,703.25 547.72,704.46 547.84,704.16 547.96,704.11 548.08,703.66 548.20,704.34 548.32,703.68 548.44,704.36 548.56,704.69 548.68,703.70 548.80,704.30 548.92,703.28 549.04,704.10 549.16,703.49 549.28,703.93 549.40,703.23 549.52,703.46 549.64,704.15 549.76,704.67 549.88,704.38 550.00,703.41 550.12,703.86 550.24,704.46 550.36,703.29 550.48,704.42 550.60,703.20 550.72,704.41 550.84,703.79 550.96,704.16 551.08,704.35 551.20,703.27 551.32,703.29 551.44,703.00 551.56,702.41 551.68,702.90 551.80,702.80 551.92,702.83 552.04,703.31 552.16,703.75 552.28,703.86 552.40,704.06 552.52,704.19 552.64,703.74 552.76,703.40 552.88,703.39 553.00,704.20 553.12,704.52 553.24,704.03 553.36,704.04 553.48,703.65 553.60,703.47 553.72,704.34 553.84,703.23 553.96,704.62 554.08,704.01 554.20,704.64 554.32,703.94 554.44,703.25 554.56,703.65 554.68,703.59 554.80,703.93 554.92,703.15 555.04,702.92 555.16,703.88 555.28,704.28 555.40,704.29 555.52,703.69 555.64,703.12 555.76,703.66 555.88,704.53 556.00,703.98 556.12,704.00 556.24,703.83 556.36,703.49 556.48,704.37 556.60,703.64 556.72,703.51 556.84,702.72 556.96,702.72 557.08,702.48 557.20,701.97 557.32,702.36 557.44,701.88 557.56,701.54 557.68,702.37 557.80,701.90 557.92,701.98 558.04,702.95 558.16,702.89 558.28,703.71 558.40,704.00 558.52,702.84 558.64,703.48 558.76,703.92 558.88,703.24 559.00,704.60 559.12,703.52 559.24,704.13 559.36,704.55 559.48,703.87 559.60,704.16 559.72,703.90 559.84,703.56 559.96,703.37 560.08,703.33 560.20,704.21 560.32,703.49 560.44,704.62 560.56,704.04 560.68,703.90 560.80,703.20 560.92,704.65 561.04,704.20 561.16,704.66 561.28,704.02 561.40,703.67 561.52,703.83 561.64,703.23 561.76,704.38 561.88,704.68 562.00,704.59 562.12,703.72 562.24,703.44 562.36,704.33 562.48,704.72 562.60,704.47 562.72,704.11 562.84,704.71 562.96,703.30 563.08,703.50 563.20,704.58 563.32,704.56 563.44,703.66 563.56,704.14 563.68,703.78 563.80,703.76 563.92,704.03 564.04,703.02 564.16,702.91 564.28,703.79 564.40,703.53 564.52,702.71 564.64,704.12 564.76,704.08 564.88,702.83 565.00,702.92 565.12,704.00 565.24,702.96 565.36,703.27 565.48,702.66 565.60,703.49 565.72,703.10 565.84,702.94 565.96,703.19 566.08,704.01 566.20,703.50 566.32,703.39 566.44,704.43 566.56,703.39 566.68,704.13 566.80,704.54 566.92,703.90 567.04,704.20 567.16,703.65 567.28,704.09 567.40,703.53 567.52,704.07 567.64,703.47 567.76,703.84 567.88,704.28 568.00,703.63 568.12,704.21 568.24,704.33 568.36,703.50 568.48,704.01 568.60,704.50 568.72,704.10 568.84,703.95 568.96,703.22 569.08,703.68 569.20,704.42 569.32,704.73 569.44,703.36 569.56,703.46 569.68,703.71 569.80,703.51 569.92,703.65 570.04,703.35 570.16,703.55 570.28,703.97 570.40,703.69 570.52,703.33 570.64,703.14 570.76,703.52 570.88,702.93 571.00,702.31 571.12,702.80 571.24,702.46 571.36,702.25 571.48,701.65 571.60,703.07 571.72,702.72 571.84,702.56 571.96,703.68 572.08,703.21 572.20,703.51 572.32,703.94 572.44,704.44 572.56,704.31 572.68,704.72 572.80,704.56 572.92,703.98 573.04,704.37 573.16,704.73 573.28,703.57 573.40,704.13 573.52,703.88 573.64,704.06 573.76,704.68 573.88,704.13 574.00,703.96 574.12,703.32 574.24,703.52 574.36,704.19 574.48,703.77 574.60,704.62 574.72,704.00 574.84,704.65 574.96,704.16 575.08,703.57 575.20,703.87 575.32,703.66 575.44,703.54 575.56,703.91 575.68,704.37 575.80,703.49 575.92,703.31 576.04,704.79 576.16,704.72 576.28,704.26 576.40,703.58 576.52,704.05 576.64,703.26 576.76,704.01 576.88,703.74 577.00,704.36 577.12,704.06 577.24,704.06 577.36,703.21 577.48,703.33 577.60,703.66 577.72,704.42 577.84,704.32 577.96,703.37 578.08,703.69 578.20,703.93 578.32,703.41 578.44,704.17 578.56,703.25 578.68,703.19 578.80,703.37 578.92,704.04 579.04,703.87 579.16,703.74 579.28,704.26 579.40,703.52 579.52,704.67 579.64,703.88 579.76,703.80 579.88,704.77 580.00,703.60 580.12,704.09 580.24,703.35 580.36,703.16 580.48,703.44 580.60,702.69 580.72,703.20 580.84,703.16 580.96,702.33 581.08,702.93 581.20,702.97 581.32,703.57 581.44,703.25 581.56,703.38 581.68,704.25 581.80,704.49 581.92,704.45 582.04,704.41 582.16,704.35 582.28,704.31 582.40,703.76 582.52,704.17 582.64,703.07 582.76,703.06 582.88,703.21 583.00,703.78 583.12,704.31 583.24,704.50 583.36,703.25 583.48,703.88 583.60,703.61 583.72,703.08 583.84,703.07 583.96,704.13 584.08,703.55 584.20,702.47 584.32,702.40 584.44,703.11 584.56,703.75 584.68,703.89 584.80,704.15 584.92,704.20 585.04,703.22 585.16,703.31 585.28,703.76 585.40,703.19 585.52,704.31 585.64,703.80 585.76,704.57 585.88,703.21 586.00,704.24 586.12,704.59 586.24,703.24 586.36,703.24 586.48,704.00 586.60,704.29 586.72,704.15 586.84,704.23 586.96,703.48 587.08,704.32 587.20,703.24 587.32,704.55 587.44,704.45 587.56,704.13 587.68,703.51 587.80,704.11 587.92,703.43 588.04,703.82 588.16,704.70 588.28,704.21 588.40,703.78 588.52,703.56 588.64,703.90 588.76,703.27 588.88,703.29 589.00,703.65 589.12,703.99 589.24,703.98 589.36,703.40 589.48,703.19 589.60,703.42 589.72,704.65 589.84,703.19 589.96,704.08 590.08,703.71 590.20,703.81 590.32,703.69 590.44,703.68 590.56,703.24 590.68,704.28 590.80,704.07 590.92,702.79 591.04,702.89 591.16,702.17 591.28,702.65 591.40,703.41 591.52,703.75 591.64,703.47 591.76,703.77 591.88,703.79 592.00,704.14 592.12,704.53 592.24,703.26 592.36,703.25 592.48,704.28 592.60,703.28 592.72,704.74 592.84,704.40 592.96,703.79 593.08,703.77 593.20,703.67 593.32,704.18 593.44,704.61 593.56,704.35 593.68,704.58 593.80,703.65 593.92,704.04 594.04,704.75 594.16,704.38 594.28,704.17 594.40,704.33 594.52,704.70 594.64,703.39 594.76,704.30 594.88,703.30 595.00,703.53 595.12,704.32 595.24,703.70 595.36,703.06 595.48,702.87 595.60,703.32 595.72,703.08 595.84,703.03 595.96,703.76 596.08,702.87 596.20,703.02 596.32,702.82 596.44,703.21 596.56,702.99 596.68,703.65 596.80,704.02 596.92,703.28 597.04,703.37 597.16,703.43 597.28,703.27 597.40,703.99 597.52,703.32 597.64,703.15 597.76,703.60 597.88,704.12 598.00,703.13 598.12,702.74 598.24,702.42 598.36,703.15 598.48,703.23 598.60,702.04 598.72,702.33 598.84,701.36 598.96,701.68 599.08,702.13 599.20,701.52 599.32,701.91 599.44,702.83 599.56,702.65 599.68,702.76 599.80,702.10 599.92,702.03 600.04,702.00 600.16,702.06 600.28,701.54 600.40,701.48 600.52,701.55 600.64,700.31 600.76,699.90 600.88,699.50 601.00,698.62 601.12,698.21 601.24,697.29 601.36,696.39 601.48,695.88 601.60,695.33 601.72,694.08 601.84,693.68 601.96,692.67 602.08,691.37 602.20,690.61 602.32,689.79 602.44,686.28 602.56,680.20 602.68,672.71 602.80,663.85 602.92,653.88 603.04,643.01 603.16,631.66 603.28,620.37 603.40,609.75 603.52,600.48 603.64,593.16 603.76,588.33 603.88,586.34 603.90,586.30 604.00,587.34 604.12,591.26 604.24,597.79 604.36,606.48 604.48,616.72 604.60,627.86 604.72,639.26 604.84,650.34 604.96,660.65 605.08,669.89 605.20,677.73 605.32,682.17 605.44,680.70 605.56,679.60 605.68,679.00 605.80,678.69 605.80,678.71 605.92,678.94 606.04,679.62 606.16,680.56 606.28,682.12 606.40,683.84 606.52,685.47 606.64,687.58 606.76,689.76 606.88,691.42 607.00,693.66 607.12,695.65 607.24,697.25 607.36,698.18 607.48,699.17 607.60,700.05 607.72,701.06 607.84,701.94 607.96,702.09 608.08,702.67 608.20,703.09 608.32,703.37 608.44,703.02 608.56,703.17 608.68,704.26 608.80,703.86 608.92,703.34 609.04,704.26 609.16,704.46 609.28,703.92 609.40,704.06 609.52,704.59 609.64,704.65 609.76,703.66 609.88,703.45 610.00,703.49 610.12,703.91 610.24,703.22 610.36,704.36 610.48,704.25 610.60,704.30 610.72,704.45 610.84,704.60 610.96,704.54 611.08,704.64 611.20,703.88 611.32,704.21 611.44,703.53 611.56,703.56 611.68,704.04 611.80,704.00 611.92,703.33 612.04,704.79 612.16,704.60 612.28,704.65 612.40,704.70 612.52,703.88 612.64,703.81 612.76,703.27 612.88,704.14 613.00,704.46 613.12,704.13 613.24,703.22 613.36,703.85 613.48,703.61 613.60,703.70 613.72,704.26 613.84,703.87 613.96,704.24 614.08,703.31 614.20,703.28 614.32,704.34 614.44,704.65 614.56,704.52 614.68,703.35 614.80,703.93 614.92,703.71 615.04,703.90 615.16,704.64 615.28,703.61 615.40,704.64 615.52,704.54 615.64,703.54 615.76,704.50 615.88,704.78 616.00,704.55 616.12,703.34 616.24,703.47 616.36,703.92 616.48,703.66 616.60,704.68 616.72,703.28 616.84,704.46 616.96,704.61 617.08,704.30 617.20,703.33 617.32,704.76 617.44,703.50 617.56,703.47 617.68,703.43 617.80,704.65 617.92,703.64 618.04,704.21 618.16,703.37 618.28,704.25 618.40,703.50 618.52,703.43 618.64,703.91 618.76,703.86 618.88,704.45 619.00,703.91 619.12,703.37 619.24,704.35 619.36,704.27 619.48,704.18 619.60,704.70 619.72,703.68 619.84,704.79 619.96,704.56 620.08,704.56 620.20,704.62 620.32,704.36 620.44,703.74 620.56,704.13 620.68,704.39 620.80,703.29 620.92,703.26 621.04,703.87 621.16,703.70 621.28,704.54 621.40,704.17 621.52,703.15 621.64,703.87 621.76,702.48 621.88,702.37 622.00,702.75 622.12,703.05 622.24,702.29 622.36,702.35 622.48,702.54 622.60,702.49 622.72,702.36 622.84,703.51 622.96,703.59 623.08,704.26 623.20,703.12 623.32,702.92 623.44,704.09 623.56,703.75 623.68,703.18 623.80,703.00 623.92,703.17 624.04,704.44 624.16,703.33 624.28,704.28 624.40,704.44 624.52,703.52 624.64,703.46 624.76,704.26 624.88,703.50 625.00,703.95 625.12,703.82 625.24,703.98 625.36,704.70 625.48,703.21 625.60,703.98 625.72,703.77 625.84,704.36 625.96,704.34 626.08,704.51 626.20,704.20 626.32,703.84 626.44,704.73 626.56,704.51 626.68,703.91 626.80,703.99 626.92,703.79 627.04,704.43 627.16,704.73 627.28,703.66 627.40,703.83 627.52,703.82 627.64,704.11 627.76,703.59 627.88,703.48 628.00,704.63 628.12,703.25 628.24,703.23 628.36,704.62 628.48,703.54 628.60,703.44 628.72,703.11 628.84,703.23 628.96,703.56 629.08,704.43 629.20,703.12 629.32,704.47 629.44,703.72 629.56,703.39 629.68,703.36 629.80,704.41 629.92,704.74 630.04,703.51 630.16,703.86 630.28,704.43 630.40,703.34 630.52,704.08 630.64,704.36 630.76,704.59 630.88,704.32 631.00,703.68 631.12,703.30 631.24,703.63 631.36,703.25 631.48,704.05 631.60,704.48 631.72,704.28 631.84,704.17 631.96,703.97 632.08,704.73 632.20,703.35 632.32,704.53 632.44,703.32 632.56,703.86 632.68,704.65 632.80,703.37 632.92,703.50 633.04,704.15 633.16,704.40 633.28,704.59 633.40,703.95 633.52,704.76 633.64,704.22 633.76,703.40 633.88,704.37 634.00,704.64 634.12,703.24 634.24,704.16 634.36,704.24 634.48,703.56 634.60,702.81 634.72,703.70 634.84,702.55 634.96,702.15 635.08,701.69 635.20,701.80 635.32,701.20 635.44,701.24 635.56,700.60 635.68,700.68 635.80,701.65 635.92,701.78 636.04,702.32 636.16,702.58 636.28,702.84 636.40,702.25 636.52,703.08 636.64,703.97 636.76,703.46 636.88,703.88 637.00,704.60 637.12,703.88 637.24,704.11 637.36,704.34 637.48,703.28 637.60,704.65 637.72,704.46 637.84,704.78 637.96,704.59 638.08,704.72 638.20,704.69 638.32,703.47 638.44,703.49 638.56,703.71 638.68,703.84 638.80,703.30 638.92,704.69 639.04,704.13 639.16,704.43 639.28,703.99 639.40,703.45 639.52,703.84 639.64,703.24 639.76,703.68 639.88,704.35 640.00,703.27 640.12,704.23 640.24,703.14 640.36,703.92 640.48,703.11 640.60,703.77 640.72,704.20 640.84,703.05 640.96,703.45 641.08,703.72 641.20,703.02 641.32,703.32 641.44,703.40 641.56,704.11 641.68,703.69 641.80,703.25 641.92,703.16 642.04,703.92 642.16,703.25 642.28,703.67 642.40,703.52 642.52,703.88 642.64,703.24 642.76,704.57 642.88,703.25 643.00,704.54 643.12,704.27 643.24,704.34 643.36,703.35 643.48,703.28 643.60,704.39 643.72,702.99 643.84,703.10 643.96,704.14 644.08,702.95 644.20,702.83 644.32,702.57 644.44,702.72 644.56,701.38 644.68,701.41 644.80,701.46 644.92,701.71 645.04,700.73 645.16,700.98 645.28,701.89 645.40,701.14 645.52,701.78 645.64,701.97 645.76,702.67 645.88,702.98 646.00,702.89 646.12,703.73 646.24,704.37 646.36,703.70 646.48,704.61 646.60,704.41 646.72,704.32 646.84,704.20 646.96,703.86 647.08,704.04 647.20,704.48 647.32,703.33 647.44,704.74 647.56,704.03 647.68,703.21 647.80,703.93 647.92,703.96 648.04,703.56 648.16,703.42 648.28,703.26 648.40,704.19 648.52,704.48 648.64,703.83 648.76,704.10 648.88,704.34 649.00,703.30 649.12,704.40 649.24,704.26 649.36,704.40 649.48,703.84 649.60,703.83 649.72,704.58 649.84,704.47 649.96,703.26 650.08,704.06 650.20,704.02 650.32,703.27 650.44,700.78 650.56,699.77 650.68,699.33 650.80,699.04 650.92,699.92 651.04,702.39 651.16,702.43 651.28,703.59 651.40,704.28 651.52,703.61 651.64,704.08 651.76,703.21 651.88,703.46 652.00,703.25 652.12,703.33 652.24,703.95 652.36,704.20 652.48,704.03 652.60,704.57 652.72,703.87 652.84,704.13 652.96,703.49 653.08,702.47 653.20,702.11 653.32,702.74 653.44,703.01 653.56,703.02 653.68,703.79 653.80,703.55 653.92,704.21 654.04,703.70 654.16,703.72 654.28,704.05 654.40,703.39 654.52,702.21 654.64,702.49 654.76,703.59 654.88,703.85 655.00,704.29 655.12,704.50 655.24,704.05 655.36,703.63 655.48,703.22 655.60,703.28 655.72,703.85 655.84,703.59 655.96,704.33 656.08,702.86 656.20,703.94 656.32,702.43 656.44,702.90 656.56,703.16 656.68,703.15 656.80,704.20 656.92,702.97 657.04,703.05 657.16,703.03 657.28,702.94 657.40,702.22 657.52,701.64 657.64,702.66 657.76,702.18 657.88,702.65 658.00,702.61 658.12,702.28 658.24,702.32 658.36,703.15 658.48,703.75 658.60,703.29 658.72,704.39 658.84,703.44 658.96,704.48 659.08,703.88 659.20,703.20 659.32,704.53 659.44,704.76 659.56,704.16 659.68,703.88 659.80,703.38 659.92,703.97 660.04,704.27 660.16,704.36 660.28,704.27 660.40,704.42 660.52,703.59 660.64,704.75 660.76,703.76 660.88,703.95 661.00,703.36 661.12,704.73 661.24,703.95 661.36,703.88 661.48,703.43 661.60,704.64 661.72,704.36 661.84,703.68 661.96,703.97 662.08,704.11 662.20,704.79" fill="none" stroke="#0000ff" stroke-width="0.9" stroke-linejoin="round"/>
<clipPath id="nvD5"><rect x="385.0" y="0" width="6" height="650.0"/></clipPath>
<polyline points="387.16,688.20 387.28,688.65 387.40,665.34 387.52,623.40 387.64,562.03 387.76,491.63 387.88,433.71 388.00,411.10 388.00,411.10 388.12,433.71 388.24,491.63 388.30,526.81 388.36,562.03 388.48,623.40 388.60,658.75 388.72,664.93 388.84,671.93" fill="none" stroke="#1c1c66" stroke-width="1.0" stroke-linejoin="round" clip-path="url(#nvD5)"/>
<clipPath id="nvD10"><rect x="397.6" y="0" width="6" height="669.0"/></clipPath>
<polyline points="399.76,700.27 399.88,695.54 400.00,680.89 400.12,655.10 400.24,617.51 400.36,574.41 400.48,538.94 400.60,525.10 400.60,525.10 400.72,538.94 400.84,574.41 400.96,617.51 401.00,631.13 401.08,655.07 401.20,671.25 401.32,674.59 401.44,678.81" fill="none" stroke="#1c1c66" stroke-width="1.0" stroke-linejoin="round" clip-path="url(#nvD10)"/>
<clipPath id="nvD16"><rect x="439.5" y="0" width="6" height="665.0"/></clipPath>
<polyline points="441.64,677.31 441.76,676.16 441.80,676.06 441.88,676.32 442.00,677.90 442.12,670.13 442.24,651.51 442.36,635.15 442.48,627.27 442.50,627.10 442.60,631.31 442.72,645.48 442.84,664.05 442.96,681.11 443.08,693.21 443.20,699.59 443.32,703.08" fill="none" stroke="#1c1c66" stroke-width="1.0" stroke-linejoin="round" clip-path="url(#nvD16)"/>
<line x1="363.6" y1="393.6" x2="363.6" y2="710.6" stroke="#606060" stroke-width="1.2"/>
<line x1="363.0" y1="710.6" x2="662.5" y2="710.6" stroke="#606060" stroke-width="1.5"/>
<path d="M361.40 704.00H363.60M361.40 674.20H363.60M361.40 644.40H363.60M361.40 614.60H363.60M361.40 584.80H363.60M361.40 555.00H363.60M361.40 525.20H363.60M361.40 495.40H363.60M361.40 465.60H363.60M361.40 435.80H363.60M361.40 406.00H363.60" stroke="#000" stroke-width="1"/>
<path d="M368.48 710.60V713.60M375.51 710.60V713.60M382.54 710.60V713.60M389.57 710.60V713.60M396.60 710.60V713.60M403.63 710.60V713.60M410.66 710.60V713.60M417.69 710.60V713.60M424.72 710.60V713.60M431.75 710.60V713.60M438.78 710.60V713.60M445.81 710.60V713.60M452.84 710.60V713.60M459.87 710.60V713.60M466.90 710.60V713.60M473.93 710.60V713.60M480.96 710.60V713.60M487.99 710.60V713.60M495.02 710.60V713.60M502.05 710.60V713.60M509.08 710.60V713.60M516.11 710.60V713.60M523.14 710.60V713.60M530.17 710.60V713.60M537.20 710.60V713.60M544.23 710.60V713.60M551.26 710.60V713.60M558.29 710.60V713.60M565.32 710.60V713.60M572.35 710.60V713.60M579.38 710.60V713.60M586.41 710.60V713.60M593.44 710.60V713.60M600.47 710.60V713.60M607.50 710.60V713.60M614.53 710.60V713.60M621.56 710.60V713.60M628.59 710.60V713.60M635.62 710.60V713.60M642.65 710.60V713.60M649.68 710.60V713.60M656.71 710.60V713.60" stroke="#000" stroke-width="1"/>
<text x="360.20" y="708.50" text-anchor="end" font-size="12">0</text>
<text x="360.20" y="588.80" text-anchor="end" font-size="12">0.4</text>
<text x="360.20" y="469.70" text-anchor="end" font-size="12">0.8</text>
<text x="337.30" y="403.20" font-size="12">x10<tspan font-size="7.9" dy="-4.1" fill="#555">5</tspan></text>
<text x="396.60" y="724.60" text-anchor="middle" font-size="12">3000</text>
<text x="502.20" y="724.60" text-anchor="middle" font-size="12">6000</text>
<text x="607.70" y="724.60" text-anchor="middle" font-size="12">9000</text>
<text x="500.70" y="737.40" text-anchor="middle" font-size="12" font-style="italic">m/z</text>
<text transform="translate(345.40,529.40) rotate(-90)" text-anchor="middle" font-size="12">Intensity [a.u.]</text>
<text transform="translate(401.25,447.40) rotate(-90)" font-size="12">2756.1</text>
<text transform="translate(405.30,524.90) rotate(-90)" font-size="12">3121.7</text>
<text transform="translate(427.15,670.70) rotate(-90)" font-size="12">3760.8</text>
<text transform="translate(444.95,625.00) rotate(-90)" font-size="12">4305.9</text>
<text transform="translate(452.40,553.50) rotate(-90)" font-size="12">4448.9</text>
<text transform="translate(468.45,691.30) rotate(-90)" font-size="12">4910.5</text>
<text transform="translate(483.00,671.70) rotate(-90)" font-size="12">5301.2</text>
<text transform="translate(498.80,690.30) rotate(-90)" font-size="12">5791.7</text>
<text transform="translate(527.30,692.00) rotate(-90)" font-size="12">6598.8</text>
<text transform="translate(608.25,584.00) rotate(-90)" font-size="12">8893.0</text>
<text x="657.7" y="13.4" font-size="16.6" font-weight="bold">E</text>
<polyline points="699.40,306.50 699.52,307.60 699.64,309.65 699.76,313.18 699.88,318.25 700.00,320.88 700.12,324.46 700.24,327.89 700.36,328.56 700.48,329.01 700.60,331.22 700.72,328.56 700.84,329.98 700.96,330.24 701.08,329.69 701.20,326.40 701.32,326.29 701.44,325.02 701.56,325.87 701.68,326.38 701.80,326.66 701.92,329.72 702.04,327.79 702.16,328.35 702.28,329.52 702.40,330.97 702.52,331.27 702.64,330.47 702.76,331.59 702.88,329.42 703.00,331.50 703.12,328.77 703.24,330.13 703.36,329.27 703.48,328.17 703.60,327.14 703.72,327.16 703.84,324.82 703.96,325.32 704.08,324.99 704.20,325.78 704.32,327.16 704.44,328.13 704.56,327.92 704.68,327.42 704.80,327.64 704.92,328.35 705.04,328.02 705.16,328.23 705.28,327.26 705.40,328.21 705.52,327.89 705.64,329.94 705.76,328.63 705.88,330.18 706.00,331.36 706.12,329.75 706.24,328.75 706.36,328.81 706.48,327.92 706.60,327.31 706.72,328.85 706.84,326.47 706.96,327.18 707.08,326.36 707.20,327.81 707.32,326.60 707.44,325.96 707.56,327.20 707.68,327.06 707.80,327.37 707.92,327.90 708.04,329.21 708.16,331.53 708.28,329.08 708.40,328.24 708.52,327.44 708.64,325.84 708.76,327.56 708.88,327.13 709.00,326.97 709.12,327.93 709.24,328.61 709.36,328.08 709.48,328.29 709.60,328.71 709.72,330.25 709.84,327.70 709.96,326.66 710.08,324.75 710.20,323.65 710.32,322.79 710.44,323.20 710.56,324.28 710.68,323.55 710.80,325.82 710.92,327.20 711.04,325.44 711.16,324.59 711.28,325.70 711.40,325.97 711.52,327.79 711.64,327.96 711.76,323.86 711.88,319.31 712.00,313.70 712.12,308.53 712.24,305.58 712.30,305.46 712.36,305.71 712.48,308.52 712.60,313.92 712.72,318.99 712.84,323.18 712.96,321.58 713.08,320.40 713.20,320.42 713.32,319.90 713.44,321.82 713.56,322.00 713.68,324.37 713.80,326.97 713.92,329.53 714.04,329.13 714.16,327.62 714.28,327.28 714.40,325.71 714.52,325.44 714.64,324.84 714.76,325.93 714.88,324.67 715.00,325.05 715.12,327.49 715.24,325.41 715.36,324.87 715.48,324.26 715.60,327.60 715.72,330.95 715.84,329.03 715.96,331.82 716.08,331.17 716.20,332.33 716.32,330.05 716.44,330.50 716.56,329.15 716.68,327.86 716.80,329.34 716.92,328.95 717.04,326.92 717.16,325.04 717.28,323.94 717.40,321.26 717.52,320.69 717.64,320.81 717.76,323.02 717.88,324.81 718.00,322.20 718.12,320.31 718.24,320.94 718.36,322.30 718.48,322.80 718.60,323.00 718.72,322.78 718.84,324.31 718.96,328.31 719.08,327.10 719.20,326.94 719.32,326.26 719.44,326.66 719.56,326.91 719.68,327.44 719.80,327.83 719.92,327.37 720.04,327.06 720.16,325.67 720.28,324.99 720.40,323.99 720.52,325.68 720.64,325.24 720.76,324.66 720.88,325.76 721.00,325.71 721.12,324.65 721.24,323.40 721.36,324.72 721.48,323.26 721.60,319.38 721.72,313.86 721.84,309.30 721.96,306.52 722.00,306.55 722.08,307.02 722.20,310.51 722.32,315.62 722.44,317.65 722.56,316.42 722.68,315.18 722.80,315.16 722.92,313.52 723.04,313.37 723.16,312.96 723.28,312.17 723.40,311.83 723.50,311.89 723.52,312.13 723.64,312.42 723.76,312.25 723.88,312.83 724.00,313.43 724.12,313.90 724.24,314.65 724.36,316.20 724.48,316.81 724.60,317.55 724.72,319.02 724.84,319.89 724.96,321.09 725.08,322.07 725.20,323.93 725.32,322.72 725.44,311.58 725.56,263.91 725.68,173.88 725.80,76.29 725.90,42.20 725.92,43.65 726.04,105.24 726.16,207.69 726.28,215.37 726.30,215.00 726.40,224.02 726.52,252.66 726.64,285.76 726.76,310.43 726.88,320.75 727.00,322.25 727.12,323.52 727.24,324.70 727.36,325.27 727.48,325.98 727.60,328.89 727.72,327.93 727.84,326.79 727.96,326.70 728.08,327.36 728.20,328.15 728.32,327.96 728.44,330.48 728.56,329.65 728.68,328.99 728.80,331.18 728.92,330.67 729.04,329.61 729.16,330.03 729.28,328.83 729.40,324.85 729.52,321.51 729.64,314.96 729.76,308.73 729.88,304.34 730.00,302.76 730.00,302.89 730.12,304.63 730.24,309.26 730.36,315.07 730.48,321.36 730.60,323.82 730.72,323.71 730.84,321.45 730.96,318.83 731.08,317.37 731.20,317.20 731.32,317.72 731.44,318.73 731.56,321.61 731.68,323.99 731.80,323.01 731.92,323.21 732.04,323.65 732.16,323.34 732.28,323.98 732.40,326.29 732.52,326.63 732.64,327.75 732.76,326.33 732.88,321.55 733.00,314.20 733.12,304.38 733.24,294.17 733.36,285.85 733.48,282.10 733.50,282.01 733.60,284.01 733.72,290.99 733.84,300.94 733.96,311.34 734.08,319.01 734.20,326.43 734.32,327.58 734.44,326.63 734.56,326.47 734.68,326.67 734.80,323.92 734.92,325.54 735.04,323.52 735.16,322.71 735.28,321.79 735.40,322.88 735.52,323.85 735.64,324.58 735.76,326.06 735.88,326.00 736.00,327.95 736.12,325.04 736.24,321.50 736.36,317.90 736.48,315.49 736.60,314.31 736.60,313.67 736.72,314.69 736.84,318.12 736.96,321.18 737.08,324.85 737.20,327.17 737.32,326.53 737.44,326.23 737.56,326.70 737.68,325.37 737.80,323.98 737.92,323.32 738.04,321.96 738.16,319.93 738.28,318.39 738.40,317.02 738.52,315.62 738.64,314.71 738.76,312.92 738.88,311.88 739.00,310.08 739.12,309.14 739.24,307.81 739.36,306.72 739.48,306.04 739.60,305.24 739.72,304.60 739.84,304.37 739.96,304.12 740.00,303.81 740.08,304.05 740.20,304.30 740.32,304.74 740.44,305.49 740.56,306.06 740.68,307.23 740.80,308.52 740.92,309.27 741.04,297.31 741.16,280.47 741.28,264.10 741.40,252.53 741.50,249.20 741.52,249.33 741.64,255.59 741.76,269.25 741.88,286.23 742.00,302.29 742.12,314.96 742.24,322.50 742.36,324.26 742.48,319.95 742.60,311.20 742.72,300.42 742.84,288.76 742.96,277.77 743.08,269.88 743.20,267.00 743.20,267.00 743.32,269.88 743.44,277.75 743.56,288.77 743.68,300.53 743.80,311.11 743.92,319.22 744.04,324.79 744.16,325.17 744.28,326.27 744.40,326.50 744.52,327.11 744.64,326.70 744.76,328.47 744.88,327.11 745.00,325.90 745.12,326.78 745.24,326.85 745.36,329.09 745.48,327.21 745.60,326.33 745.72,326.70 745.84,326.11 745.96,328.04 746.08,327.27 746.20,328.24 746.32,328.81 746.44,328.08 746.56,326.82 746.68,327.83 746.80,327.61 746.92,326.49 747.04,327.02 747.16,325.23 747.28,326.28 747.40,324.68 747.52,325.86 747.64,327.74 747.76,327.49 747.88,330.03 748.00,330.42 748.12,329.25 748.24,330.36 748.36,328.72 748.48,327.86 748.60,327.36 748.72,324.58 748.84,321.49 748.96,318.57 749.08,319.90 749.20,321.28 749.32,323.01 749.44,325.04 749.56,326.99 749.68,326.66 749.80,327.09 749.92,322.91 750.04,317.89 750.16,310.90 750.28,304.34 750.40,299.40 750.50,298.05 750.52,297.96 750.64,300.66 750.76,306.20 750.88,313.34 751.00,319.63 751.12,322.65 751.24,322.91 751.36,322.07 751.48,321.88 751.60,321.76 751.72,320.19 751.84,319.95 751.96,319.74 752.08,318.94 752.20,318.63 752.32,316.39 752.44,309.83 752.56,305.25 752.68,303.03 752.70,303.01 752.80,304.03 752.92,308.15 753.04,314.20 753.16,315.61 753.28,315.51 753.40,315.48 753.52,314.73 753.64,314.30 753.76,313.96 753.88,314.58 754.00,313.51 754.12,313.47 754.24,313.75 754.36,313.07 754.48,312.91 754.60,313.36 754.72,313.44 754.84,313.41 754.96,313.14 755.00,313.04 755.08,311.61 755.20,308.15 755.30,306.90 755.32,307.14 755.44,309.02 755.56,312.74 755.68,313.69 755.80,313.66 755.92,313.56 756.04,314.22 756.16,314.02 756.28,314.45 756.40,314.94 756.52,314.97 756.64,315.42 756.76,316.10 756.88,316.33 757.00,316.34 757.12,316.96 757.24,317.25 757.36,318.00 757.48,317.46 757.60,318.52 757.72,319.31 757.84,319.95 757.96,319.28 758.08,319.44 758.20,321.13 758.32,320.63 758.44,321.09 758.56,321.97 758.68,322.60 758.80,323.24 758.92,319.90 759.04,313.73 759.16,307.77 759.28,302.77 759.40,300.87 759.40,301.02 759.52,302.78 759.64,307.32 759.76,313.69 759.88,319.79 760.00,324.09 760.12,326.28 760.24,328.39 760.36,328.58 760.48,329.00 760.60,328.50 760.72,327.51 760.84,328.46 760.96,328.92 761.08,330.51 761.20,329.33 761.32,328.69 761.44,329.84 761.56,328.57 761.68,328.57 761.80,327.52 761.92,326.63 762.04,325.43 762.16,324.59 762.28,325.01 762.40,326.65 762.52,329.54 762.64,329.36 762.76,326.61 762.88,324.28 763.00,321.71 763.12,317.80 763.24,316.01 763.30,316.23 763.36,316.22 763.48,317.64 763.60,320.96 763.72,325.07 763.84,327.99 763.96,327.06 764.08,325.67 764.20,327.67 764.32,327.79 764.44,327.90 764.56,328.27 764.68,329.47 764.80,329.85 764.92,330.95 765.04,329.94 765.16,330.99 765.28,329.78 765.40,329.16 765.52,327.45 765.64,327.33 765.76,328.63 765.88,329.64 766.00,327.27 766.12,329.78 766.24,328.43 766.36,330.17 766.48,329.12 766.60,327.31 766.72,327.93 766.84,326.32 766.96,327.77 767.08,329.21 767.20,329.42 767.32,327.56 767.44,328.72 767.56,328.27 767.68,326.16 767.80,326.75 767.92,326.35 768.04,325.60 768.16,325.42 768.28,326.28 768.40,324.39 768.52,319.98 768.64,313.32 768.76,306.88 768.88,301.98 769.00,300.09 769.00,300.07 769.12,301.85 769.24,306.85 769.36,313.15 769.48,319.64 769.60,324.07 769.72,327.72 769.84,328.63 769.96,327.26 770.08,328.68 770.20,323.14 770.32,317.09 770.44,309.06 770.56,301.27 770.68,295.33 770.80,293.01 770.80,292.97 770.92,295.33 771.04,301.38 771.16,309.19 771.28,316.55 771.40,322.41 771.52,325.34 771.64,327.27 771.76,326.05 771.88,324.81 772.00,323.41 772.12,322.79 772.24,322.58 772.36,322.50 772.48,324.71 772.60,327.34 772.72,328.41 772.84,327.83 772.96,327.99 773.08,328.34 773.20,327.72 773.32,325.81 773.44,323.13 773.56,316.49 773.68,308.71 773.80,302.13 773.92,297.53 774.00,296.63 774.04,296.93 774.16,300.31 774.28,306.23 774.40,314.12 774.52,320.07 774.64,324.92 774.76,329.49 774.88,327.79 775.00,328.22 775.12,330.72 775.24,328.46 775.36,327.94 775.48,327.09 775.60,325.97 775.72,324.60 775.84,323.46 775.96,323.96 776.08,324.21 776.20,326.12 776.32,328.03 776.44,330.32 776.56,327.59 776.68,327.34 776.80,327.12 776.92,327.43 777.04,325.38 777.16,325.66 777.28,324.20 777.40,323.58 777.52,322.60 777.64,323.65 777.76,324.27 777.88,325.79 778.00,326.62 778.12,328.78 778.24,327.38 778.36,325.55 778.48,323.96 778.60,326.13 778.72,328.78 778.84,329.07 778.96,330.06 779.08,331.42 779.20,331.90 779.32,330.49 779.44,331.69 779.56,330.15 779.68,330.42 779.80,332.66 779.92,332.29 780.04,332.87 780.16,332.35 780.28,331.74 780.40,330.43 780.52,328.00 780.64,328.84 780.76,326.52 780.88,327.56 781.00,325.54 781.12,324.04 781.24,325.60 781.36,321.67 781.48,318.71 781.60,316.38 781.70,315.83 781.72,316.22 781.84,316.52 781.96,319.54 782.08,321.22 782.20,322.43 782.32,323.11 782.44,325.17 782.56,327.71 782.68,327.33 782.80,327.90 782.92,330.19 783.04,331.21 783.16,332.86 783.28,332.58 783.40,331.58 783.52,332.58 783.64,330.51 783.76,332.77 783.88,332.62 784.00,329.82 784.12,330.96 784.24,328.34 784.36,327.34 784.48,328.00 784.60,327.73 784.72,325.43 784.84,324.31 784.96,322.01 785.08,321.30 785.20,318.31 785.32,316.62 785.44,315.19 785.56,313.26 785.68,311.19 785.80,309.18 785.92,307.13 786.04,305.62 786.16,302.69 786.28,256.26 786.40,187.43 786.52,127.31 786.60,113.30 786.64,116.89 786.76,164.19 786.88,234.87 787.00,290.39 787.12,305.19 787.24,306.57 787.36,308.20 787.48,310.32 787.60,312.62 787.72,314.62 787.84,316.50 787.96,318.58 788.08,319.79 788.20,321.12 788.32,323.22 788.44,325.87 788.56,325.44 788.68,320.75 788.80,315.51 788.92,314.90 789.04,318.24 789.16,323.99 789.28,327.65 789.40,330.09 789.52,329.04 789.64,331.21 789.76,328.85 789.88,328.76 790.00,328.22 790.12,330.06 790.24,327.47 790.36,326.92 790.48,327.88 790.60,326.99 790.72,326.51 790.84,328.34 790.96,326.65 791.08,329.67 791.20,329.20 791.32,329.45 791.44,328.36 791.56,329.79 791.68,330.11 791.80,328.40 791.92,331.41 792.04,330.55 792.16,329.17 792.28,330.90 792.40,332.86 792.52,333.11 792.64,332.13 792.76,330.86 792.88,332.62 793.00,331.77 793.12,332.32 793.24,333.17 793.36,332.47 793.48,331.08 793.60,332.32 793.72,330.37 793.84,327.33 793.96,327.29 794.08,324.07 794.20,323.69 794.32,325.58 794.44,326.25 794.56,328.62 794.68,327.57 794.80,327.71 794.92,329.35 795.04,328.95 795.16,330.28 795.28,330.30 795.40,330.64 795.52,332.54 795.64,329.96 795.76,331.81 795.88,331.20 796.00,330.88 796.12,329.23 796.24,330.72 796.36,330.65 796.48,329.97 796.60,328.76 796.72,328.99 796.84,327.57 796.96,325.61 797.08,325.11 797.20,321.93 797.32,312.98 797.44,303.87 797.56,293.94 797.68,286.59 797.80,283.80 797.80,283.77 797.92,286.53 798.04,294.01 798.16,303.90 798.28,313.66 798.40,321.44 798.52,325.92 798.64,327.89 798.76,328.95 798.88,328.19 799.00,327.07 799.12,325.28 799.24,327.25 799.36,329.09 799.48,330.98 799.60,331.65 799.72,329.92 799.84,327.97 799.96,327.68 800.08,330.04 800.20,328.55 800.32,328.49 800.44,329.99 800.56,329.77 800.68,326.06 800.80,324.69 800.92,323.68 801.04,323.14 801.16,321.86 801.28,320.80 801.40,321.41 801.52,322.38 801.64,322.35 801.76,324.17 801.88,324.69 802.00,327.64 802.12,326.26 802.24,326.54 802.36,327.34 802.48,327.49 802.60,323.20 802.72,320.83 802.84,317.65 802.96,315.91 803.00,316.14 803.08,316.25 803.20,318.18 803.32,321.69 803.44,324.42 803.56,329.11 803.68,330.03 803.80,328.72 803.92,325.78 804.04,322.78 804.16,322.85 804.28,325.54 804.40,326.95 804.52,329.21 804.64,329.67 804.76,327.68 804.88,326.32 805.00,325.32 805.12,326.01 805.24,327.06 805.36,328.30 805.48,331.03 805.60,329.84 805.72,330.61 805.84,328.67 805.96,325.71 806.08,323.22 806.20,318.99 806.32,316.54 806.44,314.44 806.50,313.48 806.56,314.35 806.68,315.22 806.80,319.34 806.92,322.84 807.04,325.63 807.16,327.32 807.28,330.97 807.40,326.90 807.52,326.67 807.64,322.92 807.76,322.50 807.88,321.91 808.00,325.11 808.12,324.67 808.24,324.61 808.36,322.25 808.48,322.88 808.60,323.01 808.72,320.42 808.84,316.32 808.96,314.80 809.00,315.27 809.08,315.84 809.20,317.04 809.32,320.73 809.44,323.53 809.56,327.00 809.68,326.16 809.80,328.59 809.92,328.90 810.04,330.34 810.16,329.73 810.28,328.41 810.40,328.42 810.52,328.93 810.64,327.35 810.76,327.21 810.88,328.68 811.00,328.30 811.12,326.68 811.24,324.68 811.36,321.61 811.48,320.87 811.60,322.81 811.72,325.78 811.84,325.19 811.96,323.09 812.08,318.80 812.20,315.63 812.32,311.10 812.44,307.73 812.56,304.38 812.68,302.28 812.80,301.61 812.80,301.74 812.92,302.49 813.04,304.22 813.16,307.68 813.28,308.13 813.40,295.38 813.52,280.89 813.64,266.96 813.76,256.39 813.88,251.70 813.90,251.60 814.00,254.08 814.12,262.93 814.24,276.06 814.36,290.58 814.48,304.24 814.60,314.91 814.72,321.77 814.84,324.00 814.96,324.99 815.08,323.87 815.20,325.95 815.32,325.62 815.44,326.05 815.56,326.21 815.68,328.77 815.80,328.01 815.92,329.06 816.04,328.28 816.16,329.34 816.28,329.44 816.40,328.09 816.52,326.89 816.64,327.97 816.76,327.58 816.88,327.74 817.00,327.23 817.12,328.18 817.24,328.05 817.36,330.72 817.48,330.52 817.60,332.06 817.72,331.54 817.84,329.00 817.96,327.51 818.08,325.33 818.20,324.06 818.32,320.49 818.44,320.11 818.56,321.26 818.68,323.85 818.80,322.86 818.92,323.86 819.04,324.17 819.16,327.38 819.28,327.38 819.40,328.25 819.52,329.96 819.64,329.35 819.76,330.58 819.88,329.90 820.00,327.50 820.12,324.56 820.24,320.53 820.36,316.13 820.48,311.96 820.60,309.44 820.70,309.23 820.72,308.89 820.84,310.68 820.96,313.32 821.08,316.97 821.20,321.74 821.32,324.90 821.44,327.62 821.56,330.29 821.68,329.44 821.80,326.32 821.92,327.41 822.04,326.17 822.16,323.63 822.28,323.84 822.40,324.48 822.52,324.27 822.64,322.68 822.76,319.34 822.88,317.51 823.00,316.81 823.00,316.81 823.12,317.39 823.24,319.11 823.36,322.94 823.48,321.77 823.60,320.68 823.72,321.03 823.84,322.69 823.96,325.56 824.08,326.69 824.20,330.54 824.32,330.05 824.44,329.52 824.56,327.40 824.68,326.89 824.80,328.34 824.92,327.09 825.04,328.26 825.16,329.41 825.28,329.24 825.40,328.93 825.52,331.63 825.64,329.48 825.76,330.67 825.88,333.16 826.00,333.47 826.12,330.25 826.24,329.91 826.36,329.59 826.48,331.42 826.60,329.63 826.72,330.48 826.84,331.14 826.96,332.15 827.08,331.03 827.20,329.21 827.32,331.58 827.44,331.11 827.56,328.92 827.68,328.45 827.80,329.75 827.92,329.44 828.04,325.92 828.16,322.02 828.28,319.56 828.40,320.13 828.52,322.60 828.64,326.53 828.76,329.98 828.88,329.81 829.00,327.93 829.12,325.40 829.24,320.58 829.36,317.59 829.48,315.09 829.60,314.48 829.72,316.35 829.84,319.83 829.96,324.54 830.08,326.72 830.20,327.40 830.32,329.95 830.44,330.39 830.56,329.00 830.68,330.05 830.80,328.66 830.92,328.55 831.04,328.59 831.16,327.27 831.28,327.52 831.40,324.47 831.52,321.20 831.64,315.69 831.76,310.24 831.88,304.78 832.00,300.17 832.12,297.50 832.20,297.07 832.24,297.08 832.36,299.12 832.48,303.13 832.60,308.17 832.72,314.24 832.84,319.34 832.96,323.96 833.08,326.63 833.20,328.92 833.32,327.76 833.44,328.12 833.56,328.15 833.68,329.22 833.80,329.67 833.92,330.22 834.04,329.04 834.16,330.94 834.28,329.91 834.40,329.42 834.52,330.40 834.64,329.59 834.76,330.83 834.88,329.64 835.00,331.83 835.12,332.11 835.24,329.96 835.36,332.13 835.48,332.28 835.60,332.33 835.72,331.56 835.84,332.46 835.96,332.96 836.08,332.98 836.20,330.95 836.32,330.55 836.44,332.54 836.56,330.97 836.68,331.99 836.80,331.52 836.92,331.64 837.04,332.53 837.16,330.22 837.28,331.41 837.40,331.23 837.52,329.85 837.64,330.08 837.76,328.93 837.88,327.97 838.00,328.30 838.12,328.77 838.24,329.29 838.36,331.49 838.48,330.07 838.60,332.80 838.72,330.51 838.84,331.58 838.96,331.11 839.08,331.19 839.20,329.93 839.32,331.21 839.44,331.67 839.56,330.82 839.68,330.66 839.80,330.79 839.92,329.77 840.04,329.57 840.16,331.35 840.28,330.15 840.40,331.32 840.52,331.16 840.64,329.36 840.76,328.83 840.88,329.89 841.00,328.76 841.12,327.73 841.24,329.27 841.36,328.52 841.48,329.16 841.60,328.12 841.72,325.84 841.84,323.39 841.96,319.55 842.08,317.28 842.20,314.13 842.32,311.70 842.44,309.80 842.56,309.05 842.60,308.60 842.68,309.12 842.80,310.44 842.92,312.35 843.04,315.32 843.16,311.99 843.28,298.52 843.40,281.08 843.52,261.27 843.64,242.16 843.76,227.67 843.88,221.24 843.90,221.10 844.00,224.50 844.12,236.62 844.24,254.63 844.36,274.62 844.48,292.99 844.60,307.85 844.72,318.39 844.84,321.23 844.96,322.15 845.08,322.26 845.20,324.00 845.32,324.39 845.44,325.55 845.56,326.27 845.68,326.97 845.80,326.77 845.92,327.49 846.04,328.15 846.16,328.89 846.28,329.18 846.40,328.81 846.52,329.15 846.64,328.51 846.76,330.06 846.88,327.78 847.00,327.86 847.12,328.55 847.24,328.77 847.36,326.55 847.48,327.24 847.60,326.94 847.72,325.89 847.84,325.64 847.96,324.66 848.08,325.41 848.20,324.11 848.32,324.06 848.44,322.72 848.56,322.12 848.68,321.69 848.80,321.01 848.92,319.91 849.04,314.63 849.16,307.36 849.28,299.63 849.40,291.92 849.52,285.79 849.64,282.45 849.70,282.01 849.76,282.43 849.88,285.83 850.00,291.91 850.12,299.59 850.24,307.60 850.36,310.69 850.48,304.33 850.60,295.73 850.72,287.78 850.84,281.66 850.96,278.59 851.00,278.39 851.08,279.22 851.20,283.41 851.32,290.34 851.44,298.66 851.56,303.97 851.68,303.33 851.80,303.15 851.92,302.61 852.04,299.91 852.16,293.80 852.28,289.51 852.40,287.98 852.40,288.02 852.50,289.03 852.52,289.49 852.64,293.73 852.76,299.87 852.88,302.23 853.00,302.60 853.12,302.88 853.24,303.22 853.36,303.58 853.48,303.93 853.60,304.41 853.72,305.17 853.84,305.83 853.96,306.46 854.08,306.99 854.20,307.80 854.32,308.40 854.44,308.99 854.56,309.76 854.68,310.58 854.80,306.06 854.92,298.36 855.04,291.36 855.16,286.26 855.28,284.05 855.30,284.01 855.40,285.15 855.52,289.40 855.64,295.76 855.76,303.50 855.88,311.00 856.00,307.64 856.12,300.41 856.24,293.89 856.36,289.10 856.48,287.03 856.50,287.00 856.60,288.09 856.72,292.05 856.84,298.04 856.96,305.10 857.08,312.00 857.20,318.76 857.32,323.53 857.44,327.04 857.56,327.67 857.68,327.18 857.80,327.45 857.92,327.56 858.04,327.90 858.16,327.79 858.28,327.15 858.40,327.78 858.52,328.78 858.64,327.88 858.76,328.73 858.88,327.96 859.00,326.28 859.12,326.48 859.24,327.56 859.36,327.03 859.48,325.54 859.60,325.54 859.72,327.25 859.84,327.52 859.96,329.16 860.08,329.37 860.20,329.29 860.32,330.33 860.44,328.56 860.56,329.09 860.68,328.66 860.80,328.99 860.92,329.13 861.04,330.72 861.16,330.01 861.28,330.76 861.40,331.93 861.52,331.51 861.64,330.87 861.76,330.18 861.88,331.21 862.00,331.15 862.12,330.22 862.24,330.80 862.36,328.93 862.48,330.14 862.60,330.93 862.72,329.08 862.84,330.61 862.96,329.71 863.08,331.36 863.20,331.14 863.32,330.41 863.44,330.57 863.56,331.63 863.68,331.38 863.80,330.82 863.92,331.14 864.04,330.80 864.16,330.22 864.28,331.51 864.40,331.50 864.52,331.51 864.64,331.69 864.76,331.61 864.88,330.82 865.00,331.57 865.12,330.14 865.24,331.78 865.36,330.60 865.48,329.14 865.60,327.13 865.72,327.42 865.84,325.12 865.96,324.60 866.08,322.86 866.20,322.03 866.30,321.45 866.32,322.56 866.44,322.27 866.56,322.87 866.68,324.84 866.80,325.97 866.92,325.81 867.04,327.93 867.16,328.22 867.28,329.73 867.40,329.82 867.52,331.10 867.64,330.05 867.76,330.16 867.88,331.11 868.00,329.79 868.12,330.40 868.24,330.33 868.36,331.62 868.48,331.05 868.60,332.19 868.72,331.03 868.84,331.64 868.96,329.63 869.08,331.61 869.20,331.19 869.32,330.07 869.44,327.26 869.56,326.51 869.68,325.26 869.80,324.76 869.92,324.21 870.00,324.94 870.04,324.27 870.16,324.48 870.28,325.41 870.40,326.22 870.52,328.84 870.64,329.33 870.76,328.80 870.88,330.52 871.00,330.17 871.12,330.73 871.24,331.05 871.36,329.88 871.48,331.47 871.60,330.25 871.72,331.10 871.84,331.30 871.96,331.33 872.08,329.49 872.20,329.42 872.32,327.72 872.44,327.15 872.56,326.71 872.68,325.98 872.80,325.16 872.92,324.18 873.04,324.70 873.16,324.67 873.28,324.54 873.40,325.79 873.52,326.63 873.64,327.70 873.76,327.94 873.88,328.05 874.00,327.12 874.12,327.83 874.24,327.15 874.36,326.22 874.48,327.51 874.60,325.07 874.72,321.74 874.84,316.49 874.96,309.79 875.08,302.69 875.20,295.85 875.32,290.35 875.44,287.26 875.50,286.87 875.56,287.33 875.68,290.30 875.80,295.73 875.92,302.60 876.04,309.90 876.16,316.28 876.28,321.30 876.40,325.00 876.52,326.06 876.64,326.97 876.76,326.70 876.88,327.53 877.00,327.25 877.12,329.01 877.24,327.51 877.36,328.45 877.48,328.36 877.60,328.49 877.72,329.78 877.84,329.36 877.96,331.15 878.08,331.30 878.20,331.47 878.32,331.12 878.44,331.78 878.56,331.04 878.68,330.06 878.80,330.08 878.92,329.99 879.04,329.50 879.16,330.27 879.28,330.70 879.40,330.49 879.52,329.71 879.64,331.34 879.76,331.42 879.88,330.64 880.00,329.03 880.12,329.77 880.24,330.03 880.36,328.84 880.48,330.55 880.60,329.92 880.72,330.53 880.84,330.01 880.96,330.72 881.08,329.69 881.20,330.48 881.32,329.22 881.44,329.38 881.56,327.01 881.68,327.31 881.80,325.38 881.92,325.32 882.04,325.04 882.16,325.24 882.28,326.73 882.40,326.34 882.52,326.91 882.64,327.97 882.76,326.98 882.88,326.32 883.00,327.05 883.12,325.50 883.24,321.39 883.36,316.03 883.48,310.18 883.60,303.39 883.72,297.28 883.84,292.51 883.96,290.12 884.00,289.99 884.08,290.64 884.20,293.84 884.32,299.16 884.44,305.87 884.56,312.20 884.68,317.89 884.80,322.93 884.92,326.67 885.04,326.74 885.16,327.30 885.28,327.63 885.40,327.06 885.52,328.72 885.64,329.09 885.76,328.34 885.88,330.06 886.00,329.10 886.12,329.52 886.24,329.80 886.36,328.84 886.48,328.98 886.60,331.20 886.72,331.16 886.84,329.55 886.96,331.21 887.08,330.17 887.20,329.83 887.32,331.76 887.44,329.84 887.56,328.47 887.68,327.84 887.80,324.18 887.92,323.63 888.04,325.78 888.16,326.95 888.28,326.49 888.40,326.14 888.52,326.16 888.64,326.90 888.76,326.22 888.88,328.11 889.00,327.08 889.12,327.69 889.24,328.19 889.36,330.09 889.48,330.45 889.60,330.47 889.72,328.86 889.84,327.60 889.96,326.02 890.08,326.01 890.20,324.93 890.32,325.04 890.44,326.26 890.56,325.61 890.68,328.08 890.80,327.76 890.92,329.20 891.04,331.26 891.16,331.59 891.28,330.02 891.40,331.87 891.52,329.83 891.64,330.99 891.76,329.91 891.88,329.97 892.00,328.98 892.12,328.71 892.24,329.28 892.36,328.72 892.48,327.55 892.60,328.16 892.72,328.90 892.84,329.65 892.96,330.72 893.08,329.19 893.20,329.46 893.32,329.49 893.44,329.78 893.56,330.56 893.68,329.73 893.80,329.68 893.92,329.47 894.04,328.68 894.16,327.74 894.28,327.65 894.40,328.78 894.52,328.99 894.64,328.39 894.76,327.90 894.88,326.77 895.00,327.12 895.00,327.80 895.12,327.17 895.24,326.43 895.36,328.67 895.48,328.08 895.60,329.19 895.72,328.30 895.84,329.68 895.96,331.03 896.08,330.02 896.20,332.02 896.32,329.86 896.44,330.56 896.56,332.36 896.68,331.29 896.80,330.47 896.92,332.03 897.04,332.20 897.16,331.20 897.28,330.96 897.40,330.19 897.52,329.27 897.64,328.37 897.76,327.85 897.88,327.03 898.00,326.95 898.12,328.93 898.24,328.34 898.36,331.25 898.48,330.85 898.60,331.88 898.72,330.05 898.84,330.89 898.96,331.85 899.08,330.66 899.20,331.48 899.32,332.26 899.44,332.09 899.56,331.42 899.68,331.10 899.80,330.48 899.92,332.08 900.04,330.38 900.16,330.87 900.28,330.76 900.40,329.53 900.52,329.31 900.64,329.57 900.76,328.34 900.88,328.80 901.00,328.61 901.12,327.60 901.24,328.34 901.36,327.85 901.48,329.13 901.60,328.71 901.72,330.21 901.84,329.62 901.96,329.50 902.08,329.83 902.20,330.58 902.32,330.54 902.44,331.27 902.56,331.61 902.68,330.65 902.80,331.42 902.92,330.99 903.04,330.86 903.16,329.48 903.28,329.84 903.40,330.11 903.52,329.25 903.64,329.31 903.76,329.02 903.88,329.24 904.00,328.83 904.12,329.17 904.24,330.30 904.36,330.21 904.48,330.32 904.60,329.09 904.72,329.62 904.80,328.86 904.84,329.62 904.96,329.32 905.08,330.03 905.20,329.40 905.32,329.48 905.44,329.26 905.56,329.54 905.68,329.84 905.80,329.52 905.92,330.54 906.04,331.12 906.16,331.35 906.28,330.08 906.40,330.13 906.52,330.43 906.64,330.09 906.76,331.54 906.88,330.22 907.00,330.72 907.12,330.76 907.24,330.32 907.36,330.25 907.48,330.27 907.60,331.60 907.72,331.48 907.84,330.63 907.96,330.42 908.08,331.51 908.20,330.58 908.32,330.86 908.44,331.73 908.56,331.67 908.68,330.38 908.80,330.16 908.92,330.25 909.04,330.96 909.16,331.31 909.28,331.58 909.40,330.96 909.52,331.60 909.64,331.44 909.76,330.11 909.88,331.06 910.00,330.53 910.12,331.76 910.24,330.94 910.36,330.52 910.48,331.05 910.60,330.86 910.72,330.07 910.84,331.31 910.96,330.00 911.08,330.76 911.20,330.49 911.32,330.39 911.44,329.73 911.56,330.30 911.68,329.90 911.80,328.64 911.92,328.33 912.04,328.79 912.16,327.69 912.28,327.81 912.40,327.53 912.52,327.84 912.64,327.59 912.76,328.13 912.88,327.29 913.00,328.25 913.12,328.32 913.24,328.70 913.36,330.16 913.48,329.85 913.60,330.71 913.72,330.31 913.84,329.99 913.96,329.58 914.08,329.80 914.20,331.15 914.32,330.70 914.44,330.41 914.56,331.03 914.68,331.50 914.80,330.80 914.92,330.08 915.04,330.13 915.16,330.31 915.28,330.41 915.40,330.96 915.52,331.43 915.64,331.53 915.76,331.28 915.88,330.15 916.00,331.04 916.12,330.39 916.24,331.39 916.36,331.53 916.48,330.98 916.60,331.11 916.72,330.38 916.84,331.43 916.96,331.67 917.08,330.74 917.20,331.80 917.32,331.01 917.44,330.59 917.56,331.02 917.68,330.68 917.80,331.75 917.92,330.27 918.04,330.49 918.16,330.70 918.28,331.64 918.40,330.28 918.52,331.74 918.64,330.36 918.76,331.00 918.88,331.59 919.00,330.73 919.12,331.20 919.24,331.13 919.36,330.76 919.48,330.39 919.60,330.41 919.72,330.84 919.84,330.90 919.96,331.05 920.08,330.74 920.20,329.89 920.32,330.06 920.44,328.88 920.56,329.02 920.68,328.20 920.80,327.59 920.92,327.13 921.04,328.17 921.16,327.54 921.28,328.37 921.40,329.58 921.52,328.88 921.64,330.49 921.76,330.67 921.88,329.99 922.00,331.05 922.12,330.99 922.24,331.37 922.36,330.11 922.48,330.42 922.60,330.91 922.72,330.41 922.84,331.04 922.96,330.19 923.08,330.90 923.20,329.37 923.32,329.10 923.44,328.68 923.56,329.07 923.68,327.56 923.80,328.17 923.92,327.21 924.04,327.66 924.16,327.35 924.28,327.02 924.40,328.68 924.52,329.20 924.64,329.74 924.76,329.66 924.88,330.44 925.00,329.83 925.12,330.76 925.24,331.05 925.36,330.85 925.48,331.20 925.60,331.34 925.72,330.17 925.84,331.49 925.96,331.86 926.08,331.45 926.20,330.77 926.32,330.50 926.44,330.60 926.56,330.64 926.68,331.40 926.80,331.60 926.92,331.42 927.04,330.31 927.16,330.68 927.28,331.36 927.40,330.97 927.52,330.96 927.64,331.13 927.76,330.13 927.88,331.47 928.00,329.78 928.12,329.61 928.24,329.19 928.36,327.73 928.48,326.89 928.60,325.10 928.72,325.18 928.84,324.72 928.96,325.12 929.08,325.65 929.20,327.28 929.32,328.51 929.44,329.04 929.56,331.11 929.68,331.13 929.80,330.10 929.92,331.47 930.04,331.15 930.16,330.91 930.28,329.96 930.40,330.08 930.52,328.52 930.64,328.36 930.76,327.96 930.88,328.68 931.00,328.17 931.12,328.07 931.24,326.84 931.36,326.36 931.48,325.09 931.60,323.80 931.72,322.23 931.84,321.34 931.96,319.77 932.08,319.33 932.20,318.21 932.32,317.38 932.44,317.35 932.50,317.43 932.56,317.06 932.68,317.86 932.80,317.92 932.92,318.80 933.04,320.32 933.16,321.21 933.28,322.11 933.40,323.57 933.52,325.16 933.64,325.65 933.76,327.56 933.88,327.61 934.00,328.91 934.12,328.93 934.24,330.43 934.36,329.40 934.48,329.42 934.60,329.88 934.72,330.48 934.84,329.92 934.96,331.25 935.08,330.60 935.20,330.17 935.32,330.70 935.44,330.11 935.56,331.11 935.68,331.06 935.80,331.18 935.92,329.79 936.04,329.78 936.16,330.23 936.28,329.64 936.40,329.84 936.52,329.90 936.64,330.31 936.76,329.44 936.88,329.19 937.00,329.04 937.12,329.08 937.24,329.05 937.36,330.13 937.48,329.71 937.60,330.39 937.72,329.67 937.84,330.24 937.96,330.43 938.08,330.38 938.20,330.39 938.32,329.62 938.44,329.95 938.56,329.46 938.68,327.62 938.80,327.71 938.92,327.19 939.04,326.60 939.16,326.12 939.28,327.12 939.40,327.51 939.52,328.91 939.64,329.63 939.76,329.81 939.88,329.90 940.00,330.99 940.12,330.24 940.24,330.42 940.36,330.72 940.48,330.44 940.60,330.70 940.72,330.34 940.84,331.64 940.96,331.51 941.08,330.19 941.20,330.88 941.32,330.41 941.44,330.92 941.56,331.66 941.68,331.59 941.80,330.64 941.92,330.78 942.04,330.69 942.16,331.80 942.28,330.31 942.40,330.53 942.52,330.82 942.64,331.71 942.76,331.30 942.88,331.09 943.00,331.17 943.12,331.06 943.24,330.12 943.36,330.45 943.48,330.58 943.60,330.82 943.72,330.89 943.84,331.13 943.96,331.01 944.08,329.53 944.20,330.29 944.32,328.97 944.44,328.97 944.56,330.05 944.68,329.67 944.80,328.96 944.92,329.91 945.04,330.73 945.16,329.87 945.28,329.55 945.40,328.24 945.52,326.98 945.64,325.87 945.76,325.39 945.88,323.79 946.00,322.86 946.12,321.89 946.24,320.82 946.36,320.00 946.48,319.19 946.60,319.18 946.60,319.30 946.72,319.29 946.84,319.83 946.96,320.49 947.08,321.49 947.20,323.04 947.32,323.44 947.44,324.20 947.56,324.56 947.68,325.88 947.80,326.44 947.92,327.89 948.04,329.09 948.16,330.44 948.28,330.55 948.40,329.86 948.52,331.56 948.64,331.44 948.76,331.37 948.88,331.18 949.00,331.05 949.12,330.64 949.24,331.74 949.36,330.53 949.48,330.68 949.60,331.72 949.72,331.18 949.84,330.35 949.96,331.08 950.08,331.76 950.20,330.95 950.32,331.54 950.44,331.20 950.56,331.17 950.68,330.22 950.80,331.68 950.92,330.44 951.04,331.68 951.16,331.48 951.28,330.78 951.40,330.30 951.52,331.19 951.64,330.55 951.76,330.85 951.88,331.46 952.00,331.73 952.12,330.85 952.24,330.57 952.36,331.67 952.48,331.50 952.60,330.69 952.72,330.87 952.84,330.60 952.96,330.46 953.08,330.51 953.20,330.97 953.32,330.35 953.44,330.15 953.56,330.48 953.68,330.98 953.80,330.99 953.92,331.23 954.04,330.90 954.16,331.16 954.28,330.54 954.40,331.44 954.52,330.85 954.64,331.01 954.76,329.95 954.88,329.64 955.00,329.50 955.12,329.62 955.24,329.37 955.36,329.46 955.48,329.37 955.60,328.47 955.72,327.30 955.84,327.41 955.96,327.84 956.08,329.04 956.20,329.78 956.32,330.27 956.44,331.47 956.56,331.14 956.68,331.75 956.80,331.69 956.92,331.55 957.04,330.18 957.16,331.78 957.28,331.00 957.40,331.82 957.52,330.61 957.64,330.97 957.76,331.34 957.88,330.56 958.00,331.01 958.12,330.64 958.24,331.61 958.36,330.58 958.48,331.33 958.60,330.82 958.72,330.26 958.84,331.42 958.96,331.12 959.08,330.37 959.20,331.27 959.32,331.28 959.44,330.28 959.56,329.95 959.68,331.02 959.80,331.03 959.92,330.80 960.04,329.98 960.16,329.98 960.28,330.07 960.40,328.87 960.52,328.40 960.64,327.91 960.76,327.33 960.88,326.96 961.00,326.82 961.12,326.67 961.24,325.70 961.36,325.01 961.48,324.87 961.60,324.30 961.70,324.73 961.72,324.26 961.84,325.20 961.96,324.87 962.08,325.86 962.20,325.52 962.32,326.39 962.44,327.01 962.56,327.35 962.68,327.97 962.80,328.31 962.92,329.27 963.04,328.58 963.16,328.93 963.28,329.64 963.40,329.69 963.52,329.93 963.64,330.08 963.76,329.91 963.88,331.14 964.00,331.24 964.12,331.01 964.24,331.26 964.36,331.30 964.48,331.70 964.60,330.27 964.72,331.01 964.84,330.33 964.96,331.45 965.08,331.03 965.20,330.14 965.32,331.66 965.44,331.85 965.56,330.26 965.68,330.15 965.80,331.72 965.92,331.68 966.04,330.81 966.16,330.68 966.28,331.79 966.40,331.38 966.52,331.65 966.64,330.37 966.76,330.82 966.88,331.32 967.00,331.85 967.12,331.45 967.24,330.48 967.36,331.89 967.48,331.75 967.60,330.97 967.72,330.60 967.84,331.10 967.96,331.70 968.08,331.07 968.20,330.17 968.32,331.28 968.44,330.43 968.56,331.27 968.68,330.27 968.80,331.11 968.92,331.57 969.04,330.76 969.16,330.93 969.28,331.37 969.40,331.14 969.52,331.45 969.64,331.26 969.76,329.71 969.88,330.55 970.00,330.63 970.12,330.38 970.24,329.00 970.36,329.57 970.48,330.12 970.60,329.29 970.72,329.96 970.84,330.15 970.96,330.00 971.08,329.74 971.20,329.26 971.32,330.95 971.44,331.19 971.56,330.19 971.68,331.16 971.80,330.49 971.92,329.35 972.04,329.44 972.16,327.90 972.28,327.16 972.40,326.76 972.52,325.81 972.64,326.08 972.76,325.54 972.88,325.68 973.00,326.17 973.12,326.10 973.24,327.71 973.36,328.01 973.48,328.39 973.60,329.95 973.72,329.32 973.84,330.55 973.96,329.87 974.08,330.63 974.20,331.32 974.32,331.08 974.44,330.53 974.56,330.49 974.68,331.86 974.80,330.78 974.92,330.50 975.04,330.36 975.16,330.46 975.28,330.73 975.40,330.89 975.52,331.71 975.64,331.72 975.76,331.17 975.88,330.21 976.00,330.93 976.12,329.38 976.24,329.47 976.36,329.51 976.48,329.16 976.60,329.05 976.72,328.92 976.84,328.74 976.96,330.57 977.08,330.54 977.20,330.08 977.32,331.38 977.44,329.47 977.56,329.70 977.68,328.32 977.80,328.33 977.92,329.16 978.04,329.55 978.16,330.05 978.28,330.48 978.40,330.08 978.52,331.30 978.64,329.84 978.76,329.35 978.88,328.81 979.00,329.08 979.12,327.97 979.24,327.39 979.36,327.97 979.48,327.58 979.60,327.71 979.72,327.65 979.84,327.62 979.96,328.55 980.08,328.93 980.20,329.36 980.32,329.42 980.44,329.70 980.56,329.90 980.68,329.64 980.80,329.65 980.92,329.72 981.04,329.67 981.16,330.54 981.28,329.97 981.40,330.37 981.52,330.45 981.64,328.79 981.76,330.02 981.88,328.40 982.00,328.70 982.12,328.73 982.24,328.13 982.36,329.09 982.48,328.10 982.60,327.60 982.70,328.91 982.72,328.27 982.84,328.12 982.96,327.96 983.08,328.96 983.20,327.98 983.32,328.13 983.44,328.29 983.56,328.80 983.68,329.60 983.80,328.77 983.92,329.65 984.04,329.14 984.16,330.26 984.28,330.17 984.40,330.26 984.52,329.62 984.64,330.01 984.76,330.45 984.88,331.17 985.00,331.49 985.12,331.02 985.24,330.27 985.36,330.80 985.48,331.12 985.60,330.88 985.72,330.33 985.84,331.43 985.96,330.55 986.08,331.22 986.20,331.35 986.32,331.44 986.44,331.02 986.56,331.58 986.68,331.66 986.80,330.29 986.92,330.99 987.04,331.61 987.16,331.49 987.28,331.36 987.40,330.53 987.52,330.66 987.64,330.63 987.76,330.79 987.88,329.41 988.00,329.82 988.12,328.76 988.24,329.81 988.36,329.38 988.48,328.82 988.60,328.66 988.72,329.00 988.84,328.87 988.96,329.30 989.08,330.11 989.20,330.60 989.32,330.24 989.44,329.62 989.56,329.30 989.68,328.63 989.80,327.93 989.92,327.49 990.04,326.32 990.16,325.02 990.28,324.79 990.40,324.34 990.52,324.72 990.64,325.93 990.76,326.38 990.88,327.28 991.00,328.23 991.12,329.08 991.24,330.28 991.36,331.12 991.48,330.83 991.60,330.35 991.72,331.58 991.84,331.57 991.96,330.32 992.08,330.14 992.20,330.29 992.32,331.42 992.44,331.14 992.56,330.28 992.68,331.20 992.80,329.69 992.92,329.34 993.04,329.90 993.16,328.82 993.28,329.50 993.40,329.44 993.52,329.58 993.64,330.35 993.76,330.08 993.88,330.32 994.00,330.47 994.12,331.32 994.24,329.99 994.36,330.51 994.48,330.10 994.60,331.60 994.72,331.60 994.84,330.41 994.96,330.27 995.08,330.96 995.20,331.20 995.32,331.79 995.44,330.18 995.56,331.31 995.68,330.64 995.80,331.71 995.92,330.92 996.04,331.45 996.16,330.94 996.28,330.31 996.40,331.23 996.52,330.90" fill="none" stroke="#0000ff" stroke-width="0.9" stroke-linejoin="round"/>
<line x1="699.0" y1="28.0" x2="699.0" y2="345.4" stroke="#555" stroke-width="1.2"/>
<line x1="698.4" y1="345.4" x2="996.6" y2="345.4" stroke="#555" stroke-width="1.5"/>
<path d="M696.80 333.30H699.00M696.80 294.70H699.00M696.80 256.10H699.00M696.80 217.50H699.00M696.80 178.90H699.00M696.80 140.30H699.00M696.80 101.70H699.00M696.80 63.10H699.00" stroke="#000" stroke-width="1"/>
<path d="M703.31 345.40V348.40M709.04 345.40V348.40M714.77 345.40V348.40M720.50 345.40V348.40M726.23 345.40V348.40M731.96 345.40V348.40M737.69 345.40V348.40M743.42 345.40V348.40M749.15 345.40V348.40M754.88 345.40V348.40M760.61 345.40V348.40M766.34 345.40V348.40M772.07 345.40V348.40M777.80 345.40V348.40M783.53 345.40V348.40M789.26 345.40V348.40M794.99 345.40V348.40M800.72 345.40V348.40M806.45 345.40V348.40M812.18 345.40V348.40M817.91 345.40V348.40M823.64 345.40V348.40M829.37 345.40V348.40M835.10 345.40V348.40M840.83 345.40V348.40M846.56 345.40V348.40M852.29 345.40V348.40M858.02 345.40V348.40M863.75 345.40V348.40M869.48 345.40V348.40M875.21 345.40V348.40M880.94 345.40V348.40M886.67 345.40V348.40M892.40 345.40V348.40M898.13 345.40V348.40M903.86 345.40V348.40M909.59 345.40V348.40M915.32 345.40V348.40M921.05 345.40V348.40M926.78 345.40V348.40M932.51 345.40V348.40M938.24 345.40V348.40M943.97 345.40V348.40M949.70 345.40V348.40M955.43 345.40V348.40M961.16 345.40V348.40M966.89 345.40V348.40M972.62 345.40V348.40M978.35 345.40V348.40M984.08 345.40V348.40M989.81 345.40V348.40M995.54 345.40V348.40" stroke="#000" stroke-width="1"/>
<text x="695.60" y="337.60" text-anchor="end" font-size="12">0</text>
<text x="695.60" y="222.00" text-anchor="end" font-size="12">3</text>
<text x="695.60" y="106.20" text-anchor="end" font-size="12">6</text>
<text x="672.70" y="37.60" font-size="12">x10<tspan font-size="7.9" dy="-4.1" fill="#555">4</tspan></text>
<text x="777.60" y="359.60" text-anchor="middle" font-size="12">4000</text>
<text x="834.10" y="359.60" text-anchor="middle" font-size="12">6000</text>
<text x="891.40" y="359.60" text-anchor="middle" font-size="12">8000</text>
<text x="949.90" y="359.60" text-anchor="middle" font-size="12">10000</text>
<text x="836.20" y="372.20" text-anchor="middle" font-size="12" font-style="italic">m/z</text>
<text transform="translate(680.40,168.00) rotate(-90)" text-anchor="middle" font-size="12">Intensity [a.u.]</text>
<text transform="translate(738.65,80.50) rotate(-90)" font-size="12">2185.7</text>
<text transform="translate(792.20,112.60) rotate(-90)" font-size="12">4306.5</text>
<text transform="translate(745.80,249.50) rotate(-90)" font-size="12">2729.3</text>
<text transform="translate(775.20,291.60) rotate(-90)" font-size="12">3755.7</text>
<text transform="translate(802.00,283.60) rotate(-90)" font-size="12">4698.8</text>
<text transform="translate(818.20,250.20) rotate(-90)" font-size="12">5255.1</text>
<text transform="translate(836.70,297.20) rotate(-90)" font-size="12">5902.0</text>
<text transform="translate(848.15,218.80) rotate(-90)" font-size="12">6314.7</text>
<text transform="translate(879.85,285.00) rotate(-90)" font-size="12">7412.1</text>
<text transform="translate(937.95,313.50) rotate(-90)" font-size="12">9403.3</text>
<text transform="translate(965.55,324.40) rotate(-90)" font-size="12">10426.7</text>
<text x="657.7" y="383.4" font-size="16.6" font-weight="bold">F</text>
<polyline points="699.80,660.69 699.92,663.23 700.04,670.16 700.16,679.11 700.28,687.84 700.40,695.62 700.52,699.40 700.64,701.66 700.76,700.68 700.88,702.28 701.00,701.11 701.12,701.62 701.24,699.66 701.36,699.17 701.48,695.66 701.60,687.59 701.72,677.91 701.84,667.96 701.96,659.83 702.08,656.09 702.10,655.98 702.20,658.00 702.32,664.87 702.44,674.63 702.56,684.52 702.68,692.87 702.80,698.13 702.92,700.56 703.04,700.43 703.16,701.63 703.28,696.38 703.40,692.43 703.52,686.85 703.64,682.57 703.76,680.02 703.80,680.10 703.88,680.54 704.00,683.74 704.12,688.56 704.24,693.85 704.36,698.99 704.48,700.64 704.60,703.17 704.72,703.27 704.84,702.56 704.96,701.97 705.08,700.43 705.20,701.17 705.32,700.54 705.44,700.71 705.56,700.14 705.68,699.15 705.80,698.58 705.92,698.05 706.04,696.76 706.16,696.13 706.28,695.00 706.40,692.76 706.52,690.11 706.64,678.73 706.76,663.49 706.88,645.34 707.00,626.70 707.12,611.15 707.24,602.27 707.30,601.10 707.36,602.27 707.48,611.15 707.60,626.69 707.72,645.34 707.84,663.51 707.96,678.77 708.00,682.12 708.08,681.96 708.20,682.23 708.32,682.67 708.44,674.14 708.56,659.72 708.68,644.65 708.80,631.54 708.92,623.36 709.00,621.70 709.04,622.12 709.16,628.14 709.28,639.91 709.40,654.68 709.52,669.51 709.64,682.26 709.76,691.27 709.88,694.59 710.00,696.09 710.12,696.63 710.24,698.45 710.36,699.33 710.48,700.12 710.60,698.73 710.72,697.12 710.84,694.38 710.96,692.76 711.00,693.42 711.08,693.01 711.20,695.02 711.32,697.09 711.44,700.37 711.56,702.19 711.68,703.19 711.80,703.01 711.92,703.21 712.04,701.71 712.16,701.64 712.28,702.50 712.40,701.02 712.52,700.41 712.64,701.18 712.76,699.51 712.88,698.11 713.00,698.62 713.12,699.44 713.24,702.88 713.36,702.63 713.48,702.20 713.60,701.03 713.72,701.21 713.84,699.90 713.96,700.75 714.08,701.73 714.20,705.33 714.32,704.24 714.44,704.46 714.56,703.82 714.68,703.25 714.80,704.24 714.92,704.49 715.04,703.22 715.16,703.78 715.28,704.11 715.40,703.13 715.52,700.84 715.64,697.59 715.76,695.21 715.88,693.50 716.00,692.56 716.00,693.01 716.12,693.75 716.24,695.27 716.36,698.59 716.48,700.99 716.60,701.33 716.72,700.68 716.84,700.99 716.96,702.32 717.08,703.58 717.20,704.96 717.32,704.17 717.44,701.18 717.56,701.10 717.68,698.69 717.80,696.39 717.92,694.64 718.00,693.74 718.04,693.82 718.16,695.73 718.28,697.56 718.40,698.77 718.52,701.27 718.64,701.74 718.76,701.29 718.88,699.89 719.00,699.04 719.12,697.65 719.24,697.73 719.36,698.45 719.48,699.44 719.60,701.60 719.72,701.41 719.84,703.25 719.96,702.36 720.08,702.62 720.20,701.96 720.32,701.80 720.44,703.14 720.56,702.70 720.68,702.29 720.80,701.33 720.92,700.46 721.04,694.63 721.16,687.95 721.28,680.12 721.40,672.85 721.52,668.05 721.60,667.15 721.64,667.41 721.76,670.90 721.88,677.65 722.00,685.76 722.12,692.98 722.24,697.65 722.36,699.67 722.48,700.42 722.60,700.69 722.72,701.71 722.84,703.02 722.96,702.62 723.08,703.46 723.20,702.09 723.32,700.48 723.44,699.25 723.56,696.56 723.68,695.49 723.80,694.46 723.92,693.52 724.04,694.18 724.16,691.39 724.28,689.17 724.40,687.70 724.40,688.09 724.52,689.23 724.64,692.02 724.76,694.78 724.88,698.79 725.00,700.15 725.12,700.75 725.24,703.26 725.36,703.18 725.48,703.31 725.60,701.84 725.72,701.65 725.84,701.78 725.96,701.00 726.08,703.05 726.20,702.49 726.32,701.39 726.44,699.96 726.56,701.47 726.68,702.13 726.80,702.92 726.92,704.53 727.04,705.19 727.16,702.79 727.28,704.04 727.40,703.67 727.52,702.26 727.64,701.24 727.76,698.27 727.88,695.64 728.00,692.21 728.12,691.04 728.20,690.36 728.24,690.21 728.36,691.94 728.48,694.74 728.60,698.24 728.72,701.19 728.84,702.52 728.96,704.36 729.08,704.94 729.20,704.02 729.32,703.19 729.44,703.38 729.56,704.42 729.68,703.53 729.80,702.84 729.92,703.60 730.04,703.68 730.16,702.45 730.28,703.50 730.40,700.23 730.52,695.73 730.64,691.72 730.76,687.21 730.88,683.15 731.00,682.15 731.00,681.86 731.12,683.21 731.24,687.17 731.36,691.77 731.48,696.29 731.60,700.02 731.72,701.31 731.84,701.55 731.96,702.40 732.08,701.53 732.20,701.78 732.32,698.52 732.44,694.21 732.56,691.06 732.68,691.74 732.80,695.19 732.92,699.15 733.04,702.57 733.16,703.18 733.28,701.09 733.40,700.18 733.52,700.48 733.64,699.50 733.76,695.71 733.88,694.33 734.00,694.21 734.00,693.77 734.12,694.68 734.24,696.01 734.36,699.20 734.48,701.17 734.60,701.54 734.72,702.19 734.84,700.00 734.96,702.31 735.08,702.42 735.20,704.75 735.32,702.20 735.44,703.27 735.56,702.86 735.68,700.02 735.80,698.97 735.92,697.87 736.04,696.23 736.16,695.18 736.28,696.77 736.40,698.87 736.52,700.33 736.64,694.68 736.76,688.13 736.88,679.82 737.00,672.57 737.12,667.69 737.20,666.75 737.24,666.93 737.36,670.51 737.48,677.37 737.60,685.51 737.72,692.39 737.84,698.40 737.96,701.72 738.08,700.79 738.20,702.11 738.32,702.05 738.44,703.27 738.56,703.65 738.68,702.48 738.80,699.88 738.92,698.86 739.04,698.70 739.16,700.97 739.28,703.24 739.40,705.00 739.52,705.58 739.64,705.04 739.76,704.84 739.88,704.47 740.00,701.78 740.12,702.25 740.24,701.65 740.36,699.77 740.48,700.39 740.60,700.49 740.72,699.94 740.84,699.52 740.96,701.52 741.08,700.55 741.20,696.68 741.32,691.79 741.44,686.61 741.56,683.06 741.68,681.02 741.70,681.06 741.80,681.78 741.92,685.64 742.04,690.46 742.16,695.76 742.28,697.93 742.40,699.46 742.52,699.76 742.64,695.29 742.76,689.29 742.88,682.15 743.00,674.84 743.12,668.94 743.24,665.41 743.30,664.95 743.36,665.49 743.48,668.92 743.60,674.89 743.72,682.30 743.84,689.42 743.96,695.31 744.08,699.39 744.20,694.85 744.32,688.78 744.44,682.83 744.56,677.08 744.68,672.90 744.80,671.47 744.80,671.43 744.92,672.90 745.04,677.04 745.16,682.97 745.28,689.09 745.40,694.24 745.52,698.39 745.64,701.72 745.76,702.60 745.88,701.49 746.00,701.31 746.12,702.64 746.24,703.16 746.36,703.21 746.48,704.47 746.60,704.24 746.72,703.39 746.84,703.76 746.96,703.52 747.08,703.26 747.20,704.68 747.32,703.65 747.44,704.21 747.56,706.47 747.68,705.34 747.80,705.23 747.92,703.80 748.04,702.26 748.16,701.92 748.28,701.01 748.40,702.29 748.52,701.50 748.64,700.94 748.76,701.67 748.88,702.14 749.00,702.50 749.12,698.86 749.24,697.89 749.36,695.40 749.48,694.63 749.50,694.53 749.60,695.46 749.72,697.16 749.84,699.01 749.96,700.61 750.08,698.45 750.20,696.26 750.32,694.57 750.44,694.21 750.56,693.22 750.68,693.72 750.80,694.55 750.92,695.17 751.04,697.49 751.16,698.00 751.28,699.53 751.40,699.15 751.52,699.68 751.64,700.89 751.76,701.11 751.88,701.88 752.00,704.46 752.12,703.85 752.24,704.19 752.36,704.19 752.48,701.95 752.60,702.01 752.72,702.36 752.84,701.67 752.96,700.10 753.08,700.31 753.20,700.82 753.32,697.95 753.44,691.83 753.56,683.38 753.68,673.70 753.80,664.52 753.92,658.44 754.00,657.22 754.04,657.50 754.16,661.98 754.28,670.46 754.40,680.43 754.52,689.24 754.64,696.30 754.76,698.29 754.88,694.65 755.00,687.39 755.12,678.07 755.24,667.71 755.36,658.22 755.48,651.38 755.60,648.91 755.60,648.90 755.72,651.38 755.84,658.20 755.96,667.81 756.08,677.88 756.20,687.05 756.32,694.65 756.44,698.71 756.56,700.00 756.68,699.13 756.80,699.26 756.92,700.13 757.04,700.26 757.16,700.19 757.28,700.16 757.40,699.97 757.52,701.37 757.64,703.37 757.76,701.81 757.88,701.68 758.00,699.84 758.12,699.38 758.24,697.50 758.36,698.42 758.48,697.94 758.60,699.92 758.72,697.22 758.84,694.78 758.96,693.96 759.00,694.01 759.08,694.59 759.20,696.23 759.32,697.61 759.44,699.40 759.56,702.53 759.68,703.55 759.80,703.29 759.92,702.16 760.04,702.20 760.16,702.70 760.28,704.53 760.40,704.56 760.52,705.18 760.64,706.27 760.76,704.42 760.88,704.90 761.00,704.06 761.12,705.00 761.24,703.95 761.36,705.08 761.48,703.99 761.60,703.86 761.72,704.15 761.84,704.58 761.96,702.83 762.08,702.22 762.20,702.07 762.32,703.76 762.44,704.09 762.56,702.72 762.68,700.14 762.80,701.76 762.92,703.15 763.04,704.74 763.16,703.89 763.28,702.69 763.40,700.76 763.52,700.72 763.64,699.11 763.76,698.53 763.88,698.78 764.00,700.04 764.12,699.88 764.24,700.79 764.36,703.09 764.48,704.16 764.60,703.40 764.72,702.58 764.84,699.10 764.96,694.03 765.08,689.69 765.20,684.58 765.32,681.37 765.40,680.92 765.44,680.87 765.56,683.15 765.68,687.57 765.80,692.65 765.92,698.09 766.04,701.23 766.16,702.58 766.28,702.18 766.40,701.23 766.52,702.73 766.64,701.90 766.76,703.98 766.88,703.86 767.00,704.91 767.12,704.11 767.24,703.26 767.36,703.40 767.48,702.83 767.60,704.13 767.72,702.67 767.84,700.54 767.96,698.13 768.08,696.07 768.20,693.35 768.32,691.98 768.44,692.25 768.56,693.66 768.68,695.11 768.80,697.58 768.92,701.17 769.04,701.13 769.16,700.49 769.28,700.57 769.40,700.00 769.52,699.13 769.64,697.87 769.76,698.54 769.88,696.89 770.00,696.07 770.12,696.04 770.24,694.55 770.36,694.14 770.48,693.49 770.60,692.66 770.72,691.27 770.84,690.96 770.96,690.33 771.08,689.02 771.20,688.72 771.32,688.07 771.44,686.89 771.56,684.12 771.68,669.20 771.80,641.20 771.92,601.59 772.04,552.03 772.16,498.34 772.28,449.93 772.40,417.35 772.50,408.20 772.52,408.57 772.64,425.86 772.76,464.81 772.88,516.17 773.00,569.39 773.00,569.39 773.12,616.07 773.24,651.78 773.36,657.66 773.48,659.61 773.60,662.02 773.72,664.70 773.84,667.74 773.96,670.94 774.08,674.35 774.20,677.53 774.32,680.76 774.44,683.92 774.56,687.20 774.68,689.42 774.80,692.27 774.92,694.91 775.04,695.87 775.16,697.32 775.28,698.59 775.40,698.76 775.52,698.82 775.64,699.57 775.76,701.30 775.88,701.02 776.00,700.58 776.12,701.96 776.24,701.90 776.36,701.73 776.48,703.82 776.60,704.02 776.72,702.68 776.84,702.86 776.96,699.98 777.08,700.68 777.20,700.81 777.32,700.36 777.44,701.95 777.56,702.96 777.68,703.16 777.80,702.80 777.92,701.22 778.04,702.05 778.16,702.83 778.28,700.74 778.40,698.89 778.52,699.29 778.64,697.98 778.76,700.77 778.88,700.54 779.00,702.17 779.12,703.92 779.24,702.68 779.36,704.02 779.48,702.60 779.60,702.13 779.72,701.08 779.84,701.09 779.96,702.60 780.08,703.35 780.20,701.00 780.32,700.38 780.44,698.50 780.56,696.31 780.68,696.69 780.70,696.13 780.80,696.17 780.92,697.17 781.04,698.69 781.16,701.80 781.28,702.44 781.40,702.87 781.52,703.37 781.64,703.74 781.76,705.88 781.88,703.00 782.00,703.72 782.12,703.34 782.24,702.91 782.36,702.56 782.48,701.72 782.60,702.25 782.72,701.77 782.84,701.88 782.96,701.56 783.08,701.83 783.20,701.15 783.32,700.64 783.44,700.99 783.56,700.87 783.68,700.48 783.80,701.26 783.92,701.91 784.04,702.44 784.16,703.26 784.28,702.68 784.40,704.06 784.52,704.44 784.64,702.74 784.76,702.18 784.88,701.28 785.00,702.34 785.12,702.34 785.24,703.07 785.36,704.62 785.48,702.95 785.60,701.20 785.72,699.95 785.84,696.55 785.96,693.63 786.08,690.92 786.20,690.52 786.20,690.06 786.32,690.90 786.44,693.66 786.56,696.40 786.68,699.71 786.80,699.97 786.92,699.66 787.04,700.14 787.16,699.24 787.28,700.92 787.40,700.43 787.52,699.40 787.64,698.13 787.76,698.57 787.88,699.57 788.00,702.33 788.12,702.43 788.24,704.07 788.36,702.98 788.48,702.27 788.60,704.02 788.72,703.30 788.84,703.84 788.96,703.46 789.08,705.32 789.20,703.29 789.32,705.93 789.44,704.05 789.56,703.22 789.68,702.15 789.80,699.39 789.92,698.56 790.04,699.79 790.16,700.29 790.28,702.02 790.40,704.10 790.52,704.10 790.64,703.65 790.76,702.83 790.88,703.85 791.00,704.47 791.12,703.81 791.24,701.79 791.36,701.95 791.48,701.58 791.60,701.78 791.72,700.58 791.84,700.82 791.96,697.88 792.08,694.47 792.20,688.79 792.32,684.16 792.44,680.48 792.56,678.75 792.60,678.48 792.68,678.90 792.80,681.48 792.92,685.65 793.04,690.64 793.16,694.76 793.28,693.76 793.40,694.24 793.52,695.42 793.64,696.79 793.76,699.23 793.88,700.20 794.00,700.84 794.12,700.78 794.24,701.26 794.36,698.64 794.48,695.45 794.60,691.49 794.72,687.14 794.84,683.78 794.96,682.27 795.00,682.09 795.08,682.32 795.20,684.69 795.32,688.65 795.44,692.88 795.56,696.08 795.68,699.63 795.80,703.00 795.92,703.65 796.04,703.50 796.16,702.54 796.28,704.54 796.40,703.80 796.52,703.45 796.64,703.58 796.76,703.89 796.88,702.31 797.00,702.76 797.12,700.73 797.24,699.77 797.36,698.94 797.48,699.96 797.60,701.25 797.72,703.50 797.84,701.92 797.96,700.87 798.08,700.42 798.20,699.17 798.32,699.45 798.44,700.43 798.56,699.87 798.68,699.24 798.80,697.86 798.92,697.02 799.04,696.77 799.16,695.27 799.28,693.88 799.40,693.76 799.52,692.18 799.64,691.33 799.76,689.84 799.88,687.33 800.00,683.65 800.12,680.45 800.24,676.83 800.36,673.05 800.48,659.77 800.60,641.74 800.72,622.75 800.84,605.47 800.96,592.88 801.08,587.42 801.10,587.30 801.20,590.18 801.30,598.42 801.32,600.61 801.44,616.65 801.56,635.40 801.68,654.00 801.80,660.96 801.92,663.82 802.04,667.10 802.16,670.69 802.28,674.24 802.40,677.94 802.52,681.37 802.64,684.75 802.76,688.35 802.88,690.77 803.00,693.94 803.12,696.06 803.24,696.25 803.36,697.15 803.48,698.85 803.60,699.36 803.72,699.97 803.84,699.94 803.96,698.96 804.08,700.40 804.20,701.47 804.32,701.18 804.44,701.08 804.56,699.52 804.68,699.35 804.80,701.23 804.92,701.25 805.04,702.12 805.16,703.27 805.28,702.31 805.40,704.41 805.52,704.43 805.64,703.58 805.76,702.98 805.88,702.18 806.00,702.18 806.12,704.14 806.24,704.07 806.36,705.57 806.48,703.09 806.60,705.26 806.72,704.76 806.84,704.24 806.96,703.80 807.08,702.82 807.20,703.74 807.32,701.39 807.44,699.88 807.56,697.07 807.68,694.46 807.80,691.70 807.92,690.57 808.00,690.26 808.04,690.08 808.16,691.46 808.28,693.41 808.40,696.60 808.52,699.42 808.64,701.64 808.76,701.13 808.88,699.90 809.00,698.77 809.12,698.69 809.24,697.83 809.36,696.10 809.48,697.00 809.60,695.66 809.72,696.31 809.84,697.71 809.96,697.47 810.08,699.48 810.20,700.08 810.32,700.85 810.44,702.94 810.56,703.84 810.68,701.77 810.80,700.83 810.92,700.96 811.04,703.40 811.16,703.72 811.28,704.52 811.40,704.50 811.52,703.53 811.64,701.27 811.76,700.52 811.88,700.55 812.00,698.01 812.12,698.08 812.24,696.41 812.36,695.42 812.48,696.24 812.60,696.27 812.72,696.27 812.84,696.66 812.96,697.45 813.08,698.86 813.20,700.80 813.32,699.24 813.44,699.34 813.56,700.51 813.68,700.29 813.80,702.28 813.92,702.57 814.04,702.23 814.16,700.56 814.28,699.76 814.40,700.92 814.52,701.36 814.64,700.74 814.76,701.80 814.88,701.72 815.00,704.80 815.12,704.22 815.24,704.04 815.36,704.04 815.48,703.78 815.60,703.29 815.72,703.44 815.84,703.36 815.96,704.19 816.08,703.26 816.20,701.66 816.32,701.46 816.44,699.82 816.56,698.94 816.68,698.54 816.80,701.29 816.92,703.15 817.04,704.29 817.16,703.34 817.28,703.16 817.40,703.43 817.52,704.85 817.64,705.04 817.76,704.14 817.88,704.33 818.00,703.10 818.12,703.18 818.24,702.09 818.36,703.02 818.48,700.93 818.60,701.00 818.72,700.41 818.84,699.99 818.96,698.81 819.08,698.50 819.20,696.37 819.32,695.73 819.44,694.83 819.56,693.92 819.68,693.49 819.80,688.70 819.92,680.69 820.04,671.71 820.16,662.54 820.28,654.83 820.40,649.78 820.50,648.41 820.52,648.45 820.64,651.09 820.76,657.18 820.88,665.48 821.00,674.71 821.12,683.45 821.24,690.44 821.36,693.48 821.48,694.99 821.60,695.82 821.72,696.20 821.84,697.33 821.96,697.85 822.08,698.64 822.20,700.45 822.32,701.19 822.44,700.04 822.56,701.14 822.68,701.83 822.80,703.77 822.92,703.21 823.04,703.12 823.16,701.52 823.28,703.22 823.40,702.33 823.52,702.04 823.64,702.28 823.76,701.35 823.88,701.57 824.00,701.32 824.12,701.16 824.24,702.13 824.36,703.07 824.48,703.32 824.60,702.35 824.72,701.80 824.84,700.60 824.96,699.84 825.08,700.03 825.20,698.88 825.32,699.11 825.44,699.41 825.56,700.11 825.68,700.47 825.80,700.56 825.92,701.53 826.04,703.43 826.16,703.09 826.28,702.97 826.40,703.67 826.52,703.37 826.64,704.32 826.76,703.56 826.88,701.74 827.00,700.13 827.12,697.47 827.24,695.42 827.36,692.47 827.48,689.93 827.60,689.26 827.72,690.29 827.84,692.84 827.96,695.43 828.08,698.68 828.20,700.15 828.32,699.81 828.44,701.49 828.56,701.61 828.68,703.05 828.80,703.29 828.92,703.94 829.04,702.95 829.16,701.99 829.28,700.80 829.40,703.26 829.52,702.37 829.64,702.24 829.76,703.35 829.88,703.31 830.00,701.82 830.12,699.87 830.24,699.57 830.36,699.50 830.48,697.43 830.60,697.49 830.72,696.50 830.84,695.44 830.96,694.54 831.08,692.85 831.20,691.62 831.32,690.88 831.44,689.54 831.56,688.13 831.68,685.97 831.80,671.84 831.92,650.82 832.04,622.28 832.16,587.18 832.28,548.59 832.40,511.52 832.52,482.03 832.64,465.63 832.70,463.50 832.76,465.63 832.88,482.03 833.00,511.51 833.12,548.58 833.24,587.17 833.36,622.27 833.48,650.81 833.60,671.92 833.72,686.04 833.84,688.25 833.96,689.78 834.08,690.41 834.20,692.19 834.32,692.91 834.44,694.05 834.56,695.12 834.68,696.61 834.80,697.53 834.92,698.28 835.04,698.62 835.16,699.11 835.28,699.98 835.40,700.53 835.52,700.39 835.64,700.24 835.76,698.67 835.88,699.01 836.00,698.32 836.12,699.17 836.24,700.31 836.36,701.72 836.48,701.02 836.60,703.59 836.72,703.65 836.84,701.90 836.96,703.22 837.08,702.04 837.20,701.89 837.32,701.08 837.44,701.18 837.56,697.80 837.68,695.85 837.80,691.83 837.92,688.09 838.04,685.19 838.16,682.42 838.28,681.59 838.30,681.41 838.40,682.17 838.52,684.16 838.64,687.24 838.76,690.60 838.88,694.78 839.00,697.43 839.12,696.05 839.24,695.88 839.36,695.45 839.48,695.06 839.60,694.31 839.72,693.55 839.84,692.98 839.96,692.25 840.08,691.60 840.20,690.95 840.32,687.93 840.44,680.85 840.56,672.58 840.68,664.67 840.80,658.00 840.92,654.00 841.00,653.20 841.04,653.41 841.16,656.34 841.28,662.19 841.40,669.86 841.52,678.22 841.64,683.11 841.76,682.73 841.88,682.04 842.00,681.89 842.12,681.29 842.24,681.14 842.36,680.90 842.48,680.36 842.60,680.19 842.72,680.15 842.84,679.98 842.96,679.93 843.00,680.07 843.08,679.96 843.20,680.08 843.32,680.28 843.44,680.47 843.56,680.46 843.68,680.68 843.80,672.40 843.92,662.90 844.04,654.21 844.16,647.90 844.28,645.16 844.30,645.10 844.40,646.54 844.52,651.79 844.64,659.81 844.76,669.20 844.88,678.57 845.00,686.08 845.12,686.95 845.24,683.04 845.36,674.18 845.48,664.29 845.60,654.76 845.72,647.17 845.84,642.94 845.90,642.41 845.96,642.95 846.08,647.16 846.20,654.75 846.32,664.24 846.44,674.25 846.56,683.30 846.68,690.17 846.80,695.62 846.92,696.74 847.04,696.61 847.16,697.82 847.28,698.70 847.40,698.16 847.52,698.84 847.64,699.69 847.76,700.32 847.88,698.83 848.00,699.48 848.12,697.75 848.24,698.37 848.36,698.60 848.48,697.82 848.60,698.86 848.72,699.10 848.84,700.40 848.96,701.35 849.08,701.96 849.20,702.27 849.32,704.06 849.44,703.53 849.56,702.41 849.68,703.90 849.80,702.82 849.92,704.68 850.04,702.39 850.16,703.42 850.28,703.01 850.40,704.16 850.52,702.69 850.64,702.25 850.76,702.36 850.88,703.09 851.00,702.46 851.12,701.03 851.24,698.93 851.36,697.26 851.48,694.45 851.60,693.60 851.72,692.33 851.80,691.97 851.84,692.57 851.96,693.28 852.08,694.17 852.20,696.19 852.32,697.67 852.44,700.59 852.56,700.45 852.68,701.98 852.80,703.65 852.92,702.71 853.04,703.36 853.16,702.50 853.28,704.27 853.40,704.10 853.52,704.18 853.64,702.83 853.76,703.72 853.88,703.00 854.00,701.94 854.12,701.55 854.24,699.73 854.36,698.61 854.48,698.25 854.60,698.08 854.72,697.46 854.84,697.38 854.96,697.77 855.08,698.14 855.20,698.72 855.32,698.71 855.44,699.47 855.56,701.78 855.68,700.84 855.80,702.92 855.92,702.07 856.04,700.89 856.16,698.66 856.28,696.43 856.40,693.73 856.52,689.92 856.64,687.20 856.76,685.07 856.88,684.14 856.90,684.21 857.00,684.85 857.12,686.63 857.24,688.87 857.36,692.61 857.48,695.76 857.60,697.65 857.72,700.64 857.84,699.51 857.96,700.13 858.08,699.01 858.20,700.09 858.32,700.77 858.44,700.48 858.56,702.48 858.68,701.91 858.80,703.03 858.92,702.53 859.04,702.59 859.16,704.35 859.28,702.62 859.40,703.27 859.52,703.70 859.64,702.71 859.76,703.59 859.88,703.66 860.00,701.88 860.12,701.92 860.24,702.54 860.36,702.94 860.48,701.78 860.60,703.22 860.72,701.65 860.84,701.46 860.96,701.33 861.08,700.48 861.20,699.48 861.32,697.69 861.44,696.31 861.56,695.66 861.68,695.33 861.80,695.09 861.80,695.06 861.92,695.66 862.04,695.93 862.16,696.65 862.28,697.61 862.40,699.74 862.52,700.98 862.64,701.81 862.76,702.34 862.88,702.22 863.00,703.86 863.12,702.46 863.24,703.08 863.36,702.35 863.48,701.00 863.60,701.71 863.72,701.88 863.84,702.09 863.96,700.15 864.08,701.12 864.20,701.15 864.32,699.89 864.44,699.90 864.56,699.19 864.68,697.17 864.80,696.70 864.92,695.25 865.04,695.01 865.16,693.50 865.28,693.01 865.40,691.05 865.52,684.87 865.64,677.30 865.76,668.22 865.88,658.86 866.00,650.31 866.12,643.75 866.24,640.16 866.30,639.70 866.36,640.16 866.48,643.75 866.60,650.31 866.72,658.85 866.84,668.16 866.96,677.17 867.08,685.02 867.20,691.72 867.32,692.90 867.44,694.21 867.56,694.37 867.68,695.42 867.80,696.94 867.92,698.12 868.04,698.20 868.16,699.91 868.28,699.15 868.40,700.94 868.52,701.06 868.64,701.02 868.76,700.67 868.88,702.46 869.00,701.09 869.12,699.18 869.24,697.83 869.36,694.79 869.48,691.76 869.60,689.51 869.72,686.72 869.84,685.67 869.90,685.65 869.96,685.79 870.08,686.82 870.20,689.21 870.32,692.15 870.44,695.34 870.56,697.95 870.68,700.12 870.80,701.39 870.92,701.60 871.04,702.03 871.16,702.04 871.28,703.08 871.40,701.65 871.52,702.33 871.64,701.53 871.76,700.38 871.88,700.85 872.00,699.68 872.12,698.10 872.24,698.34 872.36,698.42 872.48,699.38 872.60,700.97 872.72,701.98 872.84,702.07 872.96,702.93 873.08,703.76 873.20,703.86 873.32,702.41 873.44,703.72 873.56,702.77 873.68,702.17 873.80,702.29 873.92,703.14 874.04,701.53 874.16,703.19 874.28,702.24 874.40,702.37 874.52,699.75 874.64,698.69 874.76,696.76 874.88,694.70 875.00,693.67 875.12,692.76 875.20,691.90 875.24,692.17 875.36,693.30 875.48,694.27 875.60,695.99 875.72,697.62 875.84,700.35 875.96,701.95 876.08,701.43 876.20,702.24 876.32,702.65 876.44,702.87 876.56,702.25 876.68,702.68 876.80,702.75 876.92,702.08 877.04,703.92 877.16,703.33 877.28,702.49 877.40,702.21 877.52,704.46 877.64,704.27 877.76,702.68 877.88,704.13 878.00,702.54 878.12,702.28 878.24,703.06 878.36,702.25 878.48,701.40 878.60,699.87 878.72,700.35 878.84,701.21 878.96,701.95 879.08,700.79 879.20,701.64 879.32,700.12 879.44,701.82 879.56,700.72 879.68,702.58 879.80,701.84 879.92,702.78 880.04,702.47 880.16,702.73 880.28,702.97 880.40,703.41 880.52,702.90 880.64,704.08 880.76,703.43 880.88,703.93 881.00,703.04 881.12,703.77 881.24,704.03 881.36,703.20 881.48,704.35 881.60,704.11 881.72,703.96 881.84,704.25 881.96,703.23 882.08,704.39 882.20,703.28 882.32,703.83 882.44,703.51 882.56,703.22 882.68,704.36 882.80,703.61 882.92,703.94 883.04,703.70 883.16,702.85 883.28,702.76 883.40,703.01 883.52,703.29 883.64,703.93 883.76,703.30 883.88,704.15 884.00,703.09 884.12,703.61 884.24,704.16 884.36,704.56 884.48,704.43 884.60,704.06 884.72,704.31 884.84,703.32 884.96,704.19 885.08,702.99 885.20,703.94 885.32,703.45 885.44,702.96 885.56,703.15 885.68,702.55 885.80,703.08 885.92,702.31 886.04,701.36 886.16,702.35 886.28,701.72 886.40,700.92 886.52,701.36 886.64,701.04 886.76,700.98 886.80,700.69 886.88,701.64 887.00,701.41 887.12,701.09 887.24,701.84 887.36,702.07 887.48,701.54 887.60,701.46 887.72,702.81 887.84,701.92 887.96,702.49 888.08,702.32 888.20,703.28 888.32,703.50 888.44,703.20 888.56,702.94 888.68,704.33 888.80,703.04 888.92,704.25 889.04,703.49 889.16,703.95 889.28,703.51 889.40,703.95 889.52,704.02 889.64,703.02 889.76,703.70 889.88,703.35 890.00,703.89 890.12,703.98 890.24,703.44 890.36,704.44 890.48,703.99 890.60,703.53 890.72,703.34 890.84,704.48 890.96,703.01 891.08,704.35 891.20,703.65 891.32,704.55 891.44,704.37 891.56,704.09 891.68,703.70 891.80,703.57 891.92,704.27 892.04,703.00 892.16,704.51 892.28,704.05 892.40,703.05 892.52,704.35 892.64,704.57 892.76,703.49 892.88,704.16 893.00,704.00 893.12,703.02 893.24,704.58 893.36,703.49 893.48,703.22 893.60,704.09 893.72,703.60 893.84,703.72 893.96,704.11 894.08,703.25 894.20,703.13 894.32,704.37 894.44,704.01 894.56,703.08 894.68,703.76 894.80,703.35 894.92,703.40 895.04,704.16 895.16,704.14 895.28,703.72 895.40,703.88 895.52,703.28 895.64,703.38 895.76,702.67 895.88,702.80 896.00,702.27 896.12,702.19 896.24,702.02 896.36,702.10 896.48,702.24 896.60,702.41 896.72,701.39 896.80,702.69 896.84,702.29 896.96,701.67 897.08,701.42 897.20,702.02 897.32,701.95 897.44,702.43 897.56,702.73 897.68,702.63 897.80,703.01 897.92,703.04 898.04,703.28 898.16,702.85 898.28,702.82 898.40,703.93 898.52,704.04 898.64,703.10 898.76,703.08 898.88,704.14 899.00,703.43 899.12,702.54 899.24,703.80 899.36,702.78 899.48,702.47 899.60,703.13 899.72,703.56 899.84,703.43 899.96,703.48 900.08,703.86 900.20,703.78 900.32,703.72 900.44,703.53 900.56,702.50 900.68,702.67 900.80,702.96 900.92,702.43 901.04,702.80 901.16,703.32 901.28,703.73 901.40,703.85 901.52,703.31 901.64,703.23 901.76,703.03 901.88,704.10 902.00,703.69 902.12,703.71 902.24,704.19 902.36,704.30 902.48,703.75 902.60,704.54 902.72,704.31 902.84,704.01 902.96,703.16 903.08,703.97 903.20,703.19 903.32,703.75 903.44,703.01 903.56,703.72 903.68,703.62 903.80,704.45 903.92,703.41 904.04,704.08 904.16,703.46 904.28,704.27 904.40,704.11 904.52,703.41 904.64,703.40 904.76,704.31 904.88,703.85 905.00,703.22 905.12,704.03 905.24,704.22 905.36,704.48 905.48,703.47 905.60,703.32 905.72,703.98 905.84,703.62 905.96,703.66 906.08,703.56 906.20,704.60 906.32,703.33 906.44,703.43 906.56,703.15 906.68,703.06 906.80,703.27 906.92,703.30 907.04,704.12 907.16,703.84 907.28,703.62 907.40,704.26 907.52,703.30 907.64,703.75 907.76,703.22 907.88,704.06 908.00,704.27 908.12,703.93 908.24,704.26 908.36,704.49 908.48,703.62 908.60,703.67 908.72,704.35 908.84,703.75 908.96,703.56 909.08,703.75 909.20,703.87 909.32,703.35 909.44,704.33 909.56,703.57 909.68,704.46 909.80,703.07 909.92,703.50 910.04,703.93 910.16,703.27 910.28,703.25 910.40,703.33 910.52,703.95 910.64,703.69 910.76,702.77 910.88,703.02 911.00,703.11 911.12,703.34 911.24,703.14 911.36,703.31 911.48,703.70 911.60,703.27 911.72,702.79 911.84,703.96 911.96,703.62 912.08,704.36 912.20,703.47 912.32,703.63 912.44,702.96 912.56,703.42 912.68,703.14 912.80,703.70 912.92,702.99 913.04,703.59 913.16,703.39 913.28,703.06 913.40,702.47 913.52,702.91 913.64,702.39 913.76,703.07 913.88,702.39 914.00,702.52 914.12,703.58 914.24,703.67 914.36,703.08 914.48,703.16 914.60,702.95 914.72,703.03 914.84,703.43 914.96,704.11 915.08,703.79 915.20,703.55 915.32,703.29 915.44,703.92 915.56,703.61 915.68,703.83 915.80,703.41 915.92,703.71 916.04,703.67 916.16,704.49 916.28,703.65 916.40,703.06 916.52,703.32 916.64,704.48 916.76,703.35 916.88,703.74 917.00,704.04 917.12,703.19 917.24,703.34 917.36,703.43 917.48,704.23 917.60,704.34 917.72,703.84 917.84,703.05 917.96,703.24 918.08,703.69 918.20,704.22 918.32,704.13 918.44,703.04 918.56,703.82 918.68,703.25 918.80,703.44 918.92,703.55 919.04,704.33 919.16,703.33 919.28,703.10 919.40,703.88 919.52,702.69 919.64,703.20 919.76,702.09 919.88,702.89 920.00,702.25 920.12,702.18 920.24,700.88 920.36,701.20 920.48,701.34 920.50,701.14 920.60,701.05 920.72,701.13 920.84,702.01 920.96,701.70 921.08,701.66 921.20,701.84 921.32,702.90 921.44,702.80 921.56,703.96 921.68,703.07 921.80,703.31 921.92,703.02 922.04,704.25 922.16,703.78 922.28,703.92 922.40,703.75 922.52,703.38 922.64,704.38 922.76,703.18 922.88,703.60 923.00,703.55 923.12,703.22 923.24,704.13 923.36,703.07 923.48,703.48 923.60,703.44 923.72,703.79 923.84,704.36 923.96,704.30 924.08,704.30 924.20,703.81 924.32,704.02 924.44,703.11 924.56,702.80 924.68,703.29 924.80,703.35 924.92,702.42 925.04,702.91 925.16,702.75 925.28,701.67 925.40,700.68 925.52,701.00 925.64,700.49 925.76,700.08 925.88,700.06 925.90,700.00 926.00,700.73 926.12,700.61 926.24,701.10 926.36,701.66 926.48,701.01 926.60,701.85 926.72,703.01 926.84,702.70 926.96,703.65 927.08,702.93 927.20,702.93 927.32,703.35 927.44,702.65 927.56,703.01 927.68,703.19 927.80,704.37 927.92,703.16 928.04,704.13 928.16,704.37 928.28,703.05 928.40,703.50 928.52,704.07 928.64,703.74 928.76,703.45 928.88,703.42 929.00,702.26 929.12,702.83 929.24,702.05 929.36,702.45 929.48,702.51 929.60,702.23 929.72,702.95 929.84,702.38 929.96,702.76 930.08,703.30 930.20,702.93 930.32,703.69 930.44,703.97 930.56,704.16 930.68,704.44 930.80,703.22 930.92,703.36 931.04,703.81 931.16,703.67 931.28,703.29 931.40,703.65 931.52,703.41 931.64,703.23 931.76,703.06 931.88,704.40 932.00,703.62 932.12,704.00 932.24,703.28 932.36,704.29 932.48,703.16 932.60,703.33 932.72,704.09 932.84,703.98 932.96,703.33 933.08,703.87 933.20,704.15 933.32,703.42 933.44,703.56 933.56,703.70 933.68,703.18 933.80,703.06 933.92,703.00 934.04,703.15 934.16,703.78 934.28,703.14 934.40,704.31 934.52,703.84 934.64,703.32 934.76,702.94 934.88,704.31 935.00,703.77 935.12,704.16 935.24,704.51 935.36,703.29 935.48,703.20 935.60,703.27 935.72,703.85 935.84,703.40 935.96,703.48 936.08,703.74 936.20,703.68 936.32,704.57 936.44,704.12 936.56,703.46 936.68,703.08 936.80,704.19 936.92,703.23 937.04,703.50 937.16,703.70 937.28,702.70 937.40,703.03 937.52,703.08 937.64,703.45 937.76,703.32 937.88,703.00 938.00,703.90 938.12,702.98 938.24,704.30 938.36,703.85 938.48,703.86 938.60,704.41 938.72,703.28 938.84,703.14 938.96,704.04 939.08,703.82 939.20,704.38 939.32,703.47 939.44,703.60 939.56,703.74 939.68,703.61 939.80,703.20 939.92,703.66 940.04,703.66 940.16,704.15 940.28,704.01 940.40,704.46 940.52,703.91 940.64,703.85 940.76,703.46 940.88,702.97 941.00,703.95 941.12,703.82 941.24,703.08 941.36,703.12 941.48,702.21 941.60,702.11 941.72,701.88 941.84,702.67 941.96,702.70 942.08,702.66 942.20,703.21 942.32,702.75 942.44,703.58 942.56,703.13 942.68,703.15 942.80,702.59 942.92,703.89 943.04,703.72 943.16,703.36 943.28,703.80 943.40,703.36 943.52,704.30 943.64,703.89 943.76,704.02 943.88,703.07 944.00,704.43 944.12,703.79 944.24,703.41 944.36,703.72 944.48,703.40 944.60,703.96 944.72,704.32 944.84,703.92 944.96,703.90 945.08,704.21 945.20,703.33 945.32,703.76 945.44,703.06 945.56,703.29 945.68,703.55 945.80,704.36 945.92,703.80 946.04,703.39 946.16,702.96 946.28,703.44 946.40,704.12 946.52,703.99 946.64,703.29 946.76,702.77 946.88,703.08 947.00,704.19 947.12,703.00 947.24,703.81 947.36,702.94 947.48,703.73 947.60,704.33 947.72,703.81 947.84,703.68 947.96,703.92 948.08,703.15 948.20,704.12 948.32,704.01 948.44,703.83 948.56,703.63 948.68,703.74 948.80,703.17 948.92,703.05 949.04,703.64 949.16,703.09 949.28,703.87 949.40,704.10 949.52,703.81 949.64,703.60 949.76,703.61 949.88,703.11 950.00,703.61 950.12,704.35 950.24,703.96 950.36,702.95 950.48,704.06 950.60,703.22 950.72,703.13 950.84,704.07 950.96,703.45 951.08,703.85 951.20,703.44 951.32,703.68 951.44,703.89 951.56,703.16 951.68,703.56 951.80,703.32 951.92,703.56 952.04,702.84 952.16,704.25 952.28,704.48 952.40,703.27 952.52,703.07 952.64,703.58 952.76,704.02 952.88,703.16 953.00,703.17 953.12,704.33 953.24,703.14 953.36,704.59 953.48,703.72 953.60,704.09 953.72,703.16 953.84,704.31 953.96,703.21 954.08,703.70 954.20,703.94 954.32,703.10 954.44,704.50 954.56,704.40 954.68,703.05 954.80,703.52 954.92,703.05 955.04,703.67 955.16,703.19 955.28,704.09 955.40,703.29 955.52,703.37 955.64,703.83 955.76,703.62 955.88,704.00 956.00,702.38 956.12,702.72 956.24,702.87 956.36,702.46 956.48,702.00 956.60,702.95 956.72,702.25 956.84,703.07 956.96,702.87 957.08,702.59 957.20,702.58 957.32,703.47 957.44,703.95 957.56,703.76 957.68,704.28 957.80,703.00 957.92,703.45 958.04,704.20 958.16,703.38 958.28,703.09 958.40,704.06 958.52,703.81 958.64,702.98 958.76,703.78 958.88,704.08 959.00,702.79 959.12,703.75 959.24,702.95 959.36,703.99 959.48,703.26 959.60,703.50 959.72,703.24 959.84,702.79 959.96,703.52 960.08,702.86 960.20,703.60 960.32,703.12 960.44,702.31 960.56,701.95 960.68,702.88 960.80,702.76 960.92,702.49 961.04,702.35 961.16,702.50 961.28,703.32 961.40,703.75 961.52,703.37 961.64,703.13 961.76,704.12 961.88,702.98 962.00,703.84 962.12,704.49 962.24,703.71 962.36,703.22 962.48,703.98 962.60,703.63 962.72,703.58 962.84,703.28 962.96,703.65 963.08,703.22 963.20,703.41 963.32,703.17 963.44,702.95 963.56,703.80 963.68,703.59 963.80,703.54 963.92,703.29 964.04,702.69 964.16,703.70 964.28,703.67 964.40,704.08 964.52,703.58 964.64,704.12 964.76,703.86 964.88,703.28 965.00,704.35 965.12,703.68 965.24,703.08 965.36,702.70 965.48,703.70 965.60,704.19 965.72,703.55 965.84,703.49 965.96,703.31 966.08,704.34 966.20,703.78 966.32,702.99 966.44,703.57 966.56,704.16 966.68,703.91 966.80,704.28 966.92,703.74 967.04,703.21 967.16,704.04 967.28,704.03 967.40,703.61 967.52,703.05 967.64,703.49 967.76,703.35 967.88,703.84 968.00,703.70 968.12,704.10 968.24,703.89 968.36,703.54 968.48,703.89 968.60,702.91 968.72,703.13 968.84,703.22 968.96,703.07 969.08,703.77 969.20,702.45 969.32,702.32 969.44,702.37 969.56,702.55 969.68,702.80 969.80,702.94 969.92,703.78 970.04,702.96 970.16,704.17 970.28,704.50 970.40,704.18 970.52,703.06 970.64,703.40 970.76,703.23 970.88,704.49 971.00,703.97 971.12,703.59 971.24,703.61 971.36,703.07 971.48,703.51 971.60,704.24 971.72,703.15 971.84,703.09 971.96,703.92 972.08,703.63 972.20,703.62 972.32,702.95 972.44,703.80 972.56,704.37 972.68,703.94 972.80,703.96 972.92,703.28 973.04,702.98 973.16,703.65 973.28,703.14 973.40,703.48 973.52,702.95 973.64,703.13 973.76,702.76 973.88,703.13 974.00,703.35 974.12,703.82 974.24,703.06 974.36,702.97 974.48,703.12 974.60,703.61 974.72,704.31 974.84,704.02 974.96,704.13 975.08,704.33 975.20,704.36 975.32,703.96 975.44,703.87 975.56,704.03 975.68,703.26 975.80,703.44 975.92,704.56 976.04,704.29 976.16,703.67 976.28,703.06 976.40,703.18 976.52,703.71 976.64,703.22 976.76,703.08 976.88,703.36 977.00,702.49 977.12,702.46 977.24,702.53 977.36,702.45 977.48,701.61 977.60,702.19 977.72,701.16 977.84,701.28 977.96,701.38 978.08,700.82 978.20,700.53 978.32,700.60 978.40,700.44 978.44,701.19 978.56,700.55 978.68,701.58 978.80,701.05 978.92,700.98 979.04,701.13 979.16,701.33 979.28,702.41 979.40,702.10 979.52,702.33 979.64,703.55 979.76,703.64 979.88,703.73 980.00,703.72 980.12,704.17 980.24,704.05 980.36,703.99 980.48,703.95 980.60,703.60 980.72,704.18 980.84,704.55 980.96,704.08 981.08,703.90 981.20,703.24 981.32,703.10 981.44,703.33 981.56,703.81 981.68,703.00 981.80,704.12 981.92,703.59 982.04,704.23 982.16,703.21 982.28,703.02 982.40,704.09 982.52,704.19 982.64,703.30 982.76,704.21 982.88,703.42 983.00,704.45 983.12,703.51 983.24,703.27 983.36,704.39 983.48,703.12 983.60,704.37 983.72,703.82 983.84,703.99 983.96,703.67 984.08,703.81 984.20,704.01 984.32,703.03 984.44,703.27 984.56,703.15 984.68,702.96 984.80,703.72 984.92,703.62 985.04,703.53 985.16,704.12 985.28,703.85 985.40,703.03 985.52,704.26 985.64,703.46 985.76,703.05 985.88,703.80 986.00,703.76 986.12,703.05 986.24,703.80 986.36,703.21 986.48,704.23 986.60,703.59 986.72,703.86 986.84,702.84 986.96,703.64 987.08,702.94 987.20,703.76 987.32,702.96 987.44,703.58 987.56,702.90 987.68,702.82 987.80,703.63 987.92,703.36 988.04,704.35 988.16,703.75 988.28,703.32 988.40,704.17 988.52,704.45 988.64,704.04 988.76,704.40 988.88,704.57 989.00,704.38 989.12,704.42 989.24,703.74 989.36,704.02 989.48,704.43 989.60,704.05 989.72,703.27 989.84,704.26 989.96,703.09 990.08,703.41 990.20,704.42 990.32,703.79 990.44,704.42 990.56,703.04 990.68,703.84 990.80,704.24 990.92,703.11 991.04,703.95 991.16,703.21 991.28,703.17 991.40,703.42 991.52,704.26 991.64,704.54 991.76,704.43 991.88,704.22 992.00,703.55 992.12,704.36 992.24,703.76 992.36,703.82 992.48,704.02 992.60,703.00 992.72,703.84 992.84,703.30 992.96,704.17 993.08,703.44 993.20,703.51 993.32,703.75 993.44,702.52 993.56,702.42 993.68,703.16 993.80,703.18 993.92,702.25 994.04,702.92 994.16,703.37 994.28,702.37 994.40,702.75 994.52,703.21 994.64,703.43 994.76,703.66 994.88,704.22 995.00,703.61 995.12,703.74 995.24,703.58 995.36,704.23 995.48,702.99 995.60,704.07 995.72,704.34 995.84,703.16 995.96,703.11 996.08,704.43 996.20,704.30 996.32,703.73 996.44,703.25 996.56,704.33 996.68,703.74 996.80,704.11 996.92,703.17 997.04,704.42 997.16,703.87 997.28,704.12 997.40,703.66 997.52,704.09 997.64,704.13 997.76,704.18 997.88,703.45 998.00,703.26 998.12,704.11 998.24,703.19 998.36,704.55" fill="none" stroke="#0000ff" stroke-width="0.9" stroke-linejoin="round"/>
<line x1="699.0" y1="394.3" x2="699.0" y2="711.0" stroke="#7a7a7a" stroke-width="1.2"/>
<line x1="698.4" y1="711.0" x2="998.4" y2="711.0" stroke="#7a7a7a" stroke-width="1.5"/>
<path d="M696.80 704.00H699.00M696.80 666.87H699.00M696.80 629.74H699.00M696.80 592.61H699.00M696.80 555.48H699.00M696.80 518.35H699.00M696.80 481.22H699.00M696.80 444.09H699.00M696.80 406.96H699.00" stroke="#000" stroke-width="1"/>
<path d="M702.30 711.00V714.00M708.34 711.00V714.00M714.38 711.00V714.00M720.42 711.00V714.00M726.46 711.00V714.00M732.50 711.00V714.00M738.54 711.00V714.00M744.58 711.00V714.00M750.62 711.00V714.00M756.66 711.00V714.00M762.70 711.00V714.00M768.74 711.00V714.00M774.78 711.00V714.00M780.82 711.00V714.00M786.86 711.00V714.00M792.90 711.00V714.00M798.94 711.00V714.00M804.98 711.00V714.00M811.02 711.00V714.00M817.06 711.00V714.00M823.10 711.00V714.00M829.14 711.00V714.00M835.18 711.00V714.00M841.22 711.00V714.00M847.26 711.00V714.00M853.30 711.00V714.00M859.34 711.00V714.00M865.38 711.00V714.00M871.42 711.00V714.00M877.46 711.00V714.00M883.50 711.00V714.00M889.54 711.00V714.00M895.58 711.00V714.00M901.62 711.00V714.00M907.66 711.00V714.00M913.70 711.00V714.00M919.74 711.00V714.00M925.78 711.00V714.00M931.82 711.00V714.00M937.86 711.00V714.00M943.90 711.00V714.00M949.94 711.00V714.00M955.98 711.00V714.00M962.02 711.00V714.00M968.06 711.00V714.00M974.10 711.00V714.00M980.14 711.00V714.00M986.18 711.00V714.00M992.22 711.00V714.00M998.26 711.00V714.00" stroke="#000" stroke-width="1"/>
<text x="695.60" y="708.50" text-anchor="end" font-size="12">0</text>
<text x="695.60" y="596.90" text-anchor="end" font-size="12">3</text>
<text x="695.60" y="485.50" text-anchor="end" font-size="12">6</text>
<text x="672.70" y="403.90" font-size="12">x10<tspan font-size="7.9" dy="-4.1" fill="#555">4</tspan></text>
<text x="762.50" y="725.60" text-anchor="middle" font-size="12">4000</text>
<text x="822.20" y="725.60" text-anchor="middle" font-size="12">6000</text>
<text x="883.00" y="725.60" text-anchor="middle" font-size="12">8000</text>
<text x="943.60" y="725.60" text-anchor="middle" font-size="12">10000</text>
<text x="836.50" y="737.80" text-anchor="middle" font-size="12" font-style="italic">m/z</text>
<text transform="translate(680.60,529.40) rotate(-90)" text-anchor="middle" font-size="12">Intensity [a.u.]</text>
<text transform="translate(783.90,445.30) rotate(-90)" font-size="12">4309.2</text>
<text transform="translate(836.90,461.50) rotate(-90)" font-size="12">6315.3</text>
<text transform="translate(726.35,663.60) rotate(-90)" font-size="12">2628.2</text>
<text transform="translate(759.70,649.00) rotate(-90)" font-size="12">3758.0</text>
<text transform="translate(805.85,586.00) rotate(-90)" font-size="12">5257.3</text>
<text transform="translate(823.35,648.70) rotate(-90)" font-size="12">5904.4</text>
<text transform="translate(869.90,639.60) rotate(-90)" font-size="12">7410.6</text>
<text transform="translate(924.50,697.00) rotate(-90)" font-size="12">9221.1</text>
<text transform="translate(982.75,695.80) rotate(-90)" font-size="12">11131.6</text>
</svg>
</body></html>
